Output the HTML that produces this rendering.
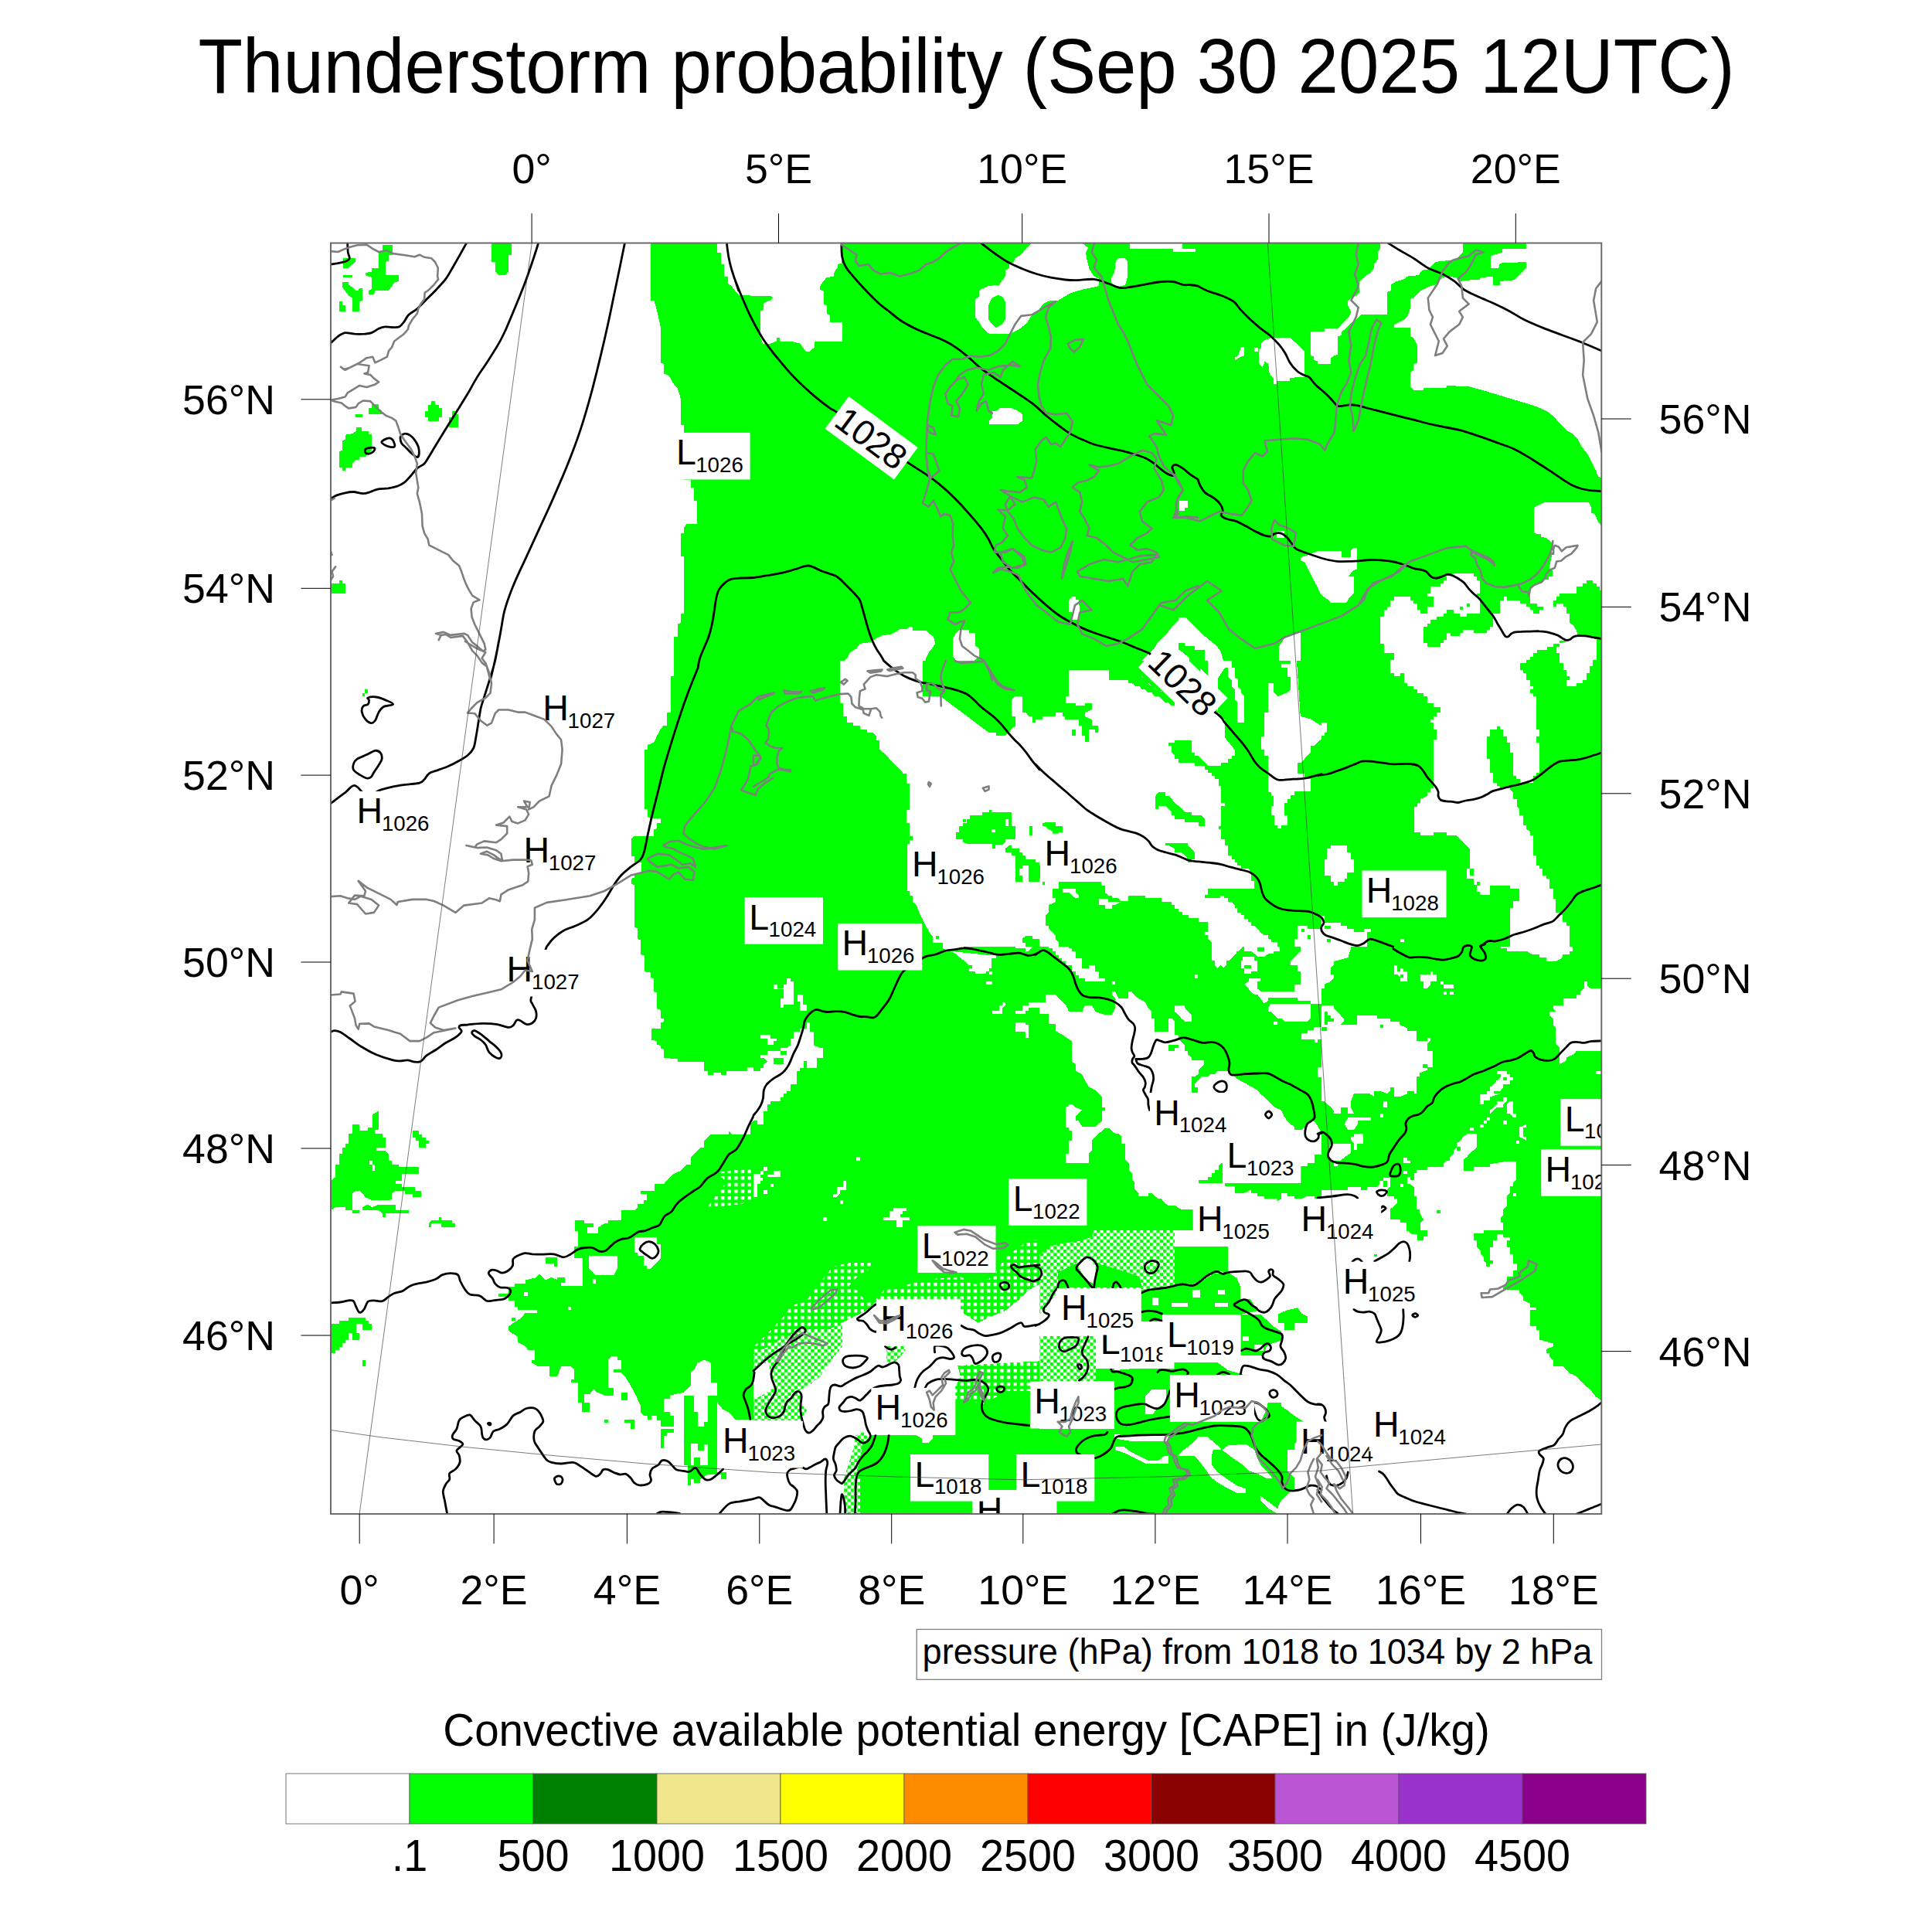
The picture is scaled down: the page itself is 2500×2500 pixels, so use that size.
<!DOCTYPE html>
<html><head><meta charset="utf-8"><title>Thunderstorm probability</title>
<style>
html,body{margin:0;padding:0;background:#fff;}
svg{display:block;font-family:"Liberation Sans",sans-serif;}
.g{fill:#00ff00;shape-rendering:crispEdges;}
.m{fill:url(#ck);shape-rendering:crispEdges;}
.n{fill:url(#ck2);shape-rendering:crispEdges;}
.w{fill:#fff;shape-rendering:crispEdges;}
.k{fill:none;stroke:#000;stroke-width:2.8;stroke-linejoin:round;stroke-linecap:round;}
.c{fill:none;stroke:#7f7f7f;stroke-width:2.6;stroke-linejoin:round;stroke-linecap:round;}
.t{fill:none;stroke:#444;stroke-width:0.7;}
.f{fill:none;stroke:#666;stroke-width:1.9;}
</style></head><body>
<svg width="2500" height="2500" viewBox="0 0 2500 2500">
<defs>
<pattern id="ck" width="8.6" height="8.6" patternUnits="userSpaceOnUse"><rect width="8.6" height="8.6" fill="#fff"/><rect width="4.3" height="4.3" fill="#0f0"/><rect x="4.3" y="4.3" width="4.3" height="4.3" fill="#0f0"/></pattern>
<pattern id="ck2" width="8.6" height="8.6" patternUnits="userSpaceOnUse"><rect width="8.6" height="8.6" fill="#0f0"/><rect x="4.3" width="4.3" height="4.3" fill="#fff"/></pattern>
<clipPath id="map"><rect x="428" y="314.5" width="1644.3" height="1644.5"/></clipPath>
<clipPath id="c0"><rect x="400" y="280" width="575" height="575"/></clipPath>
<clipPath id="c1"><rect x="975" y="280" width="550" height="575"/></clipPath>
<clipPath id="c2"><rect x="1525" y="280" width="575" height="575"/></clipPath>
<clipPath id="c3"><rect x="400" y="855" width="575" height="550"/></clipPath>
<clipPath id="c4"><rect x="400" y="1405" width="575" height="575"/></clipPath>
<clipPath id="c5"><rect x="975" y="855" width="370" height="370"/></clipPath>
<clipPath id="c6"><rect x="1345" y="855" width="365" height="370"/></clipPath>
<clipPath id="c7"><rect x="1710" y="855" width="365" height="370"/></clipPath>
<clipPath id="c8"><rect x="975" y="1225" width="370" height="367"/></clipPath>
<clipPath id="c9"><rect x="1345" y="1225" width="365" height="367"/></clipPath>
<clipPath id="c10"><rect x="1710" y="1225" width="365" height="367"/></clipPath>
<clipPath id="c11"><rect x="975" y="1592" width="370" height="367"/></clipPath>
<clipPath id="c12"><rect x="1345" y="1592" width="365" height="367"/></clipPath>
<clipPath id="c13"><rect x="1710" y="1592" width="365" height="367"/></clipPath>
<clipPath id="c14"><rect x="0" y="0" width="2500" height="2500"/></clipPath>
<clipPath id="c15"><rect x="1780" y="715" width="293" height="305"/></clipPath>
</defs>
<rect width="2500" height="2500" fill="#fff"/>
<g clip-path="url(#map)">
<g clip-path="url(#c0)">
<polygon class="g" points="841.6,314.8 928,314.8 928,326.6 932.6,326.6 932.6,342.1 937.3,342.1 937.3,357.6 941.9,357.6 941.9,367 946.6,370.1 951.2,376.3 955.9,381.9 971.4,382.5 988.5,387.1 1000,382.5 1000,390.2 993.2,391.8 988.5,396.5 983.9,402.7 983.9,438.4 988.5,446.1 1000,446.1 1000,880 872,880 872,823.5 876.7,823.5 876.7,807 880.7,806.4 880.7,794 885.1,794 885.1,720.4 880.7,720.4 880.7,690.6 885.1,689.9 885.1,682.2 889.1,677.5 902.2,677.5 902.2,648 898.4,648 898.4,630.9 893.8,630.9 893.8,620.7 885.1,620.7 885.1,549.6 880.7,549.6 880.7,515.1 876.7,502 872,497.4 867.4,488.7 863.4,485 859,483.4 859,471 855,469.4 855,424.4 850.3,402.7 846.3,388.7 841.6,388.7"/>
<polygon class="g" points="636,314.8 661.8,314.8 661.8,329.7 657.8,329.7 657.8,351.4 653.1,356.1 645.3,356.1 640.7,351.4 640.7,339 636,339"/>
<polygon class="g" points="494.7,317.3 507.8,317.3 507.8,329.7 502.5,329.7 502.5,337.5 498.8,339 498.8,356.1 515.5,356.1 515.5,363.9 511.2,365.4 507.1,370.1 502.5,376.3 485.4,376.3 483.9,380.9 477,380.9 477,376.3 481.4,373.2 481.4,359.2 473,356.1 473,353 481.4,351.4 481.4,346.8 490.1,346.8 490.1,326.6 494.7,323.5"/>
<polygon class="g" points="443.5,334.3 459.6,334.3 459.6,339 455.9,342.1 451.2,346.8 443.5,346.8"/>
<polygon class="g" points="443.5,356.1 455.9,356.1 455.9,359.2 443.5,359.2"/>
<polygon class="g" points="442.9,364.5 451.2,364.5 451.2,368.5 455.9,371.6 460.6,376.3 463.7,376.3 465.2,372.5 468.9,372.5 468.9,388.7 464.6,390.2 464.6,402.7 455.9,402.7 455.9,385.6 451.2,382.5 446.6,376.3 442.9,371.6"/>
<polygon class="g" points="438.8,390.2 442.5,390.2 442.5,394.9 446.6,394.9 446.6,402.7 438.8,402.7"/>
<polygon class="g" points="558.4,519.1 563,519.1 563,523.8 567.7,523.8 567.7,528.4 571.7,528.4 571.7,540.2 567.7,540.2 567.7,544.6 554.3,544.6 554.3,540.2 550,540.2 550,532.2 554.3,532.2 554.3,523.8 558.4,523.8"/>
<polygon class="g" points="584.8,532.2 588.8,532.2 588.8,536.2 592.5,536.2 592.5,552.7 580.7,552.7 580.7,540.2 584.8,540.2"/>
<polygon class="g" points="481.4,523.2 490.1,523.2 490.1,528.4 494.1,531.6 494.1,536.2 477,536.2 477,527.8 481.4,527.8"/>
<polygon class="g" points="459.9,536.2 468.9,536.2 468.9,539.6 459.9,539.6"/>
<polygon class="g" points="460.6,553.3 468.3,553.3 468.3,558 477,558 477,562 481.4,562 481.4,582.8 477,585.9 473,590.6 464.6,590.6 464.6,595.2 460.6,595.2 455.9,599.9 455.9,604.5 447.2,604.5 447.2,608.6 442.9,608.6 442.9,604.5 438.8,604.5 438.8,584.3 442.9,582.8 442.9,570.4 447.2,568.8 447.2,562.6 455.9,561.1 460.6,558"/>
<polygon class="g" points="427.3,755.2 438.8,755.2 438.8,751.1 442.5,751.1 442.5,755.2 446.6,755.2 446.6,767.6 427.3,767.6"/>
</g>
<g clip-path="url(#c1)">
<polygon class="g" points="950,311.1 1550,311.1 1550,880 950,880"/>
<polygon class="w" points="950,311.1 1088.8,311.1 1088.8,340.6 1083.5,342.1 1083.5,346.8 1079.8,351.4 1078.9,357.6 1069.6,359.2 1065.5,363.9 1061.2,370.1 1061.2,374.7 1065.5,376.9 1065.5,393.4 1069.6,395.5 1069.6,405.8 1074.2,408 1074.2,416.6 1090.4,416.6 1090.4,441.5 1054,441.5 1054,449.3 1047.8,454.5 1043.2,454.5 1038.5,449.3 1035.4,444.6 1023,441.5 1009,441.5 1009,436.8 1005.3,436.8 1005.3,441.5 996.6,444.6 987.3,444.6 983.5,435.3 983.5,402.7 987.9,401.1 987.9,393.4 991.9,390.2 996.6,388.7 1000.3,385.6 996.6,382.5 968.6,382.5 968.6,378.8 956.2,377.8 950,373.2"/>
<polygon class="w" points="1335.1,311.1 1335.1,314.8 1330.4,318.8 1325.8,323.5 1321.1,329.7 1313.4,334.3 1311.8,339 1305.6,342.1 1305.6,346.8 1300.9,349.9 1300.9,357.6 1297.2,362.3 1293.2,368.5 1279.2,370.1 1271.4,373.2 1266.8,376.3 1266.8,384 1262.1,387.1 1262.1,410.4 1266.8,416.6 1271.4,424.4 1276.1,429.1 1280.7,432.2 1307.1,432.2 1316.5,427.5 1322.7,422.9 1328.9,418.2 1333.5,410.4 1338.2,405.8 1342.9,402.7 1347.5,396.5 1352.2,391.8 1359.9,388.7 1369.3,388.7 1384.8,379.4 1400.3,374.7 1415.8,371.6 1422,370.1 1422,360.7 1415.8,357.6 1409.6,348.3 1406.5,335.9 1405,326.6 1408.1,320.4 1400.3,314.8 1400.3,311.1"/>
<polygon class="g" points="1283.9,385.6 1291.6,381.9 1297.2,384 1300.9,390.2 1300.9,413.5 1296.3,419.8 1288.5,424.4 1283.9,419.8 1279.2,413.5 1279.2,394.9"/>
<polygon class="w" points="1443.8,337.5 1446.9,334.3 1456.2,334.3 1459.3,339 1459.3,357.6 1456.2,368.5 1446.9,371.6 1439.1,370.1 1437.6,360.7 1442.2,351.4"/>
<polygon class="w" points="1462.4,311.1 1550,311.1 1550,318.8 1544.7,320.4 1544.7,326 1518.3,326 1518.3,321.9 1462.4,321.9"/>
<polygon class="w" points="1288.5,532.2 1293.2,528.4 1310.2,528.4 1318,532.2 1322.7,536.2 1322.7,544.6 1318,548.6 1279.8,548.6 1279.8,544.6 1283.9,540.9 1283.9,532.2"/>
<polygon class="w" points="1529.2,648 1537.6,648 1537.6,655.8 1533.2,659.5 1525.2,659.5 1525.2,652"/>
<polygon class="w" points="1387.3,772.2 1391.6,772.2 1391.6,776.3 1395.7,776.3 1397.2,789.3 1395.7,801.7 1387.3,801.7 1387.3,792.4 1383.2,792.4 1383.2,776.9"/>
<polygon class="w" points="1088.2,880 1088.2,860.7 1092.2,856.1 1096,851.4 1100.6,843.7 1108.4,839 1113,832.8 1125.5,831.2 1133.2,826.6 1142.5,821.9 1151.9,821 1159.6,817.3 1164.3,814.2 1173.6,814.2 1176.7,811.1 1181.4,811.7 1181.4,815.7 1198.4,815.7 1203.1,820.4 1207.8,823.5 1210.2,832.8 1206.2,839 1202.2,843.7 1198.4,851.4 1198.4,860.7 1193.8,863.9 1193.8,880"/>
<polygon class="w" points="1237.3,818.8 1241.9,814.8 1254.3,814.8 1254.3,818.8 1262.1,818.8 1262.1,835.9 1266.8,839 1266.8,849.9 1262.1,853 1257.5,860.7 1241.9,860.7 1237.3,854.5 1233.2,849.9 1233.2,826.6"/>
<polygon class="w" points="1550,794 1540.1,794 1535.4,798.6 1529.2,798.6 1524.5,803.3 1519.9,808 1515.2,812.6 1510.6,818.8 1505.9,823.5 1501.2,828.1 1497.2,832.8 1493.5,839 1488.8,843.7 1484.2,848.3 1478,854.5 1474.8,862.3 1478,867 1550,880"/>
<polygon class="w" points="1391,868.5 1425.2,868.5 1425.2,880 1391,880"/>
</g>
<g clip-path="url(#c2)">
<rect class="g" x="1525" y="280" width="575" height="575"/>
<polygon class="w" points="1500,311.1 1529.5,311.1 1529.5,321.9 1546.6,321.9 1546.6,326 1500,326"/>
<polygon class="w" points="1785.7,311.1 1892.9,311.1 1892.9,326.6 1888.2,331.2 1883.5,335.9 1857.1,339 1852.5,343.7 1847.8,348.3 1840.1,349.9 1835.4,356.1 1821.4,357.6 1816.8,361.4 1807.5,363.9 1799.7,368.5 1799.7,376.3 1795,377.8 1795,407.3 1760.9,407.3 1756.2,412 1750,416.6 1745.3,421.3 1740.7,426 1736,429.1 1736,433.7 1731.4,435.3 1731.4,458.6 1726.7,460.1 1722,463.2 1722,471 1705,471 1705,467 1700.3,466.3 1700.3,461.7 1696.3,460.1 1696.3,429.1 1714.3,429.1 1714.3,425.3 1731.4,425.3 1736,419.8 1740.7,415.1 1745.3,410.4 1748.4,404.2 1743.8,394.9 1743.8,390.2 1748.4,385.6 1754.7,382.5 1759.3,377.8 1759.3,363.9 1764,360.1 1768.6,356.1 1773.3,353 1778,346.8 1778,342.1 1782.6,335.9 1782.6,326.6 1785.7,321.9"/>
<polygon class="w" points="1975.2,311.1 2072.4,311.1 2072.4,618.5 2068.3,617 2063.7,606.1 2059,596.8 2054.3,587.5 2046.6,578.1 2041.9,568.8 2034.2,561.1 2026.4,556.4 2018.6,548.6 2010.9,539.3 2003.1,533.1 1993.8,528.4 1981.4,523.8 1965.8,519.1 1950.3,514.5 1934.8,509.8 1919.3,505.2 1902.2,500.5 1872.7,498.9 1871.1,502 1841.6,502 1841.6,505.2 1829.2,505.2 1824.5,500.5 1824.5,481.9 1829.2,478.8 1829.2,471 1833.9,469.4 1833.9,447.7 1829.2,436.8 1824.5,435.3 1824.5,424.4 1804.3,424.4 1804.3,419.8 1810.6,416.6 1816.8,413.5 1821.4,408.9 1824.5,399.6 1824.5,387.1 1829.2,385.6 1833.9,380.9 1838.5,376.3 1850.9,370.1 1857.1,368.5 1861.8,363.9 1866.5,359.2 1872.7,357.6 1885.1,359.2 1888.2,363.9 1903.7,362.3 1914.6,362.3 1916.1,359.2 1931.7,357.6 1931.7,368.5 1941,368.5 1941,363.9 1959.6,362.3 1964.3,357.6 1968.9,353 1975.2,346.8 1975.2,339 1941,340.6 1939.4,346.8 1928.6,346.8 1928.6,331.2 1944.1,326.6 1944.1,321.9 1975.2,321.9"/>
<polygon class="w" points="1632,444.6 1636.6,439.9 1646,436.8 1669.3,436.8 1673.9,441.5 1678.6,444.6 1683.2,449.3 1687.9,453.9 1687.9,488.1 1669.3,488.7 1669.3,492.7 1652.2,492.7 1652.2,497.4 1647.5,497.4 1647.5,488.7 1642.9,485 1641.3,471 1636.6,467.9 1633.5,475.7 1628.9,469.4 1628.9,452.4 1632,449.3"/>
<polygon class="w" points="1622.7,450.2 1628,450.2 1628,454.5 1622.7,454.5"/>
<polygon class="w" points="1605.6,449.3 1610.2,449.3 1610.2,460.1 1605.6,461.7 1602.5,463.2 1597.8,466.3 1597.8,463.2 1602.5,458.6"/>
<polygon class="w" points="1683.2,721 1689.4,719.4 1705,713.2 1736,713.2 1736,721 1748.4,721 1748.4,711.7 1752.2,708.6 1756.2,708.6 1756.2,736.5 1751.6,738.1 1748.4,741.2 1745.3,745.8 1751.6,745.8 1751.6,767.6 1746.9,772.2 1742.2,780 1722,780 1717.4,775.3 1712.7,772.2 1708.1,767.6 1705,759.8 1700.3,752 1695.7,742.7 1691.9,735 1687.9,727.2 1683.2,725.7"/>
<polygon class="w" points="1500,808 1512.4,808 1517.1,803.3 1521.7,798.6 1534.2,798.6 1538.8,803.3 1543.5,808 1548.1,812.6 1552.8,817.3 1557.5,821.9 1566.8,829.7 1574.5,835.9 1579.2,842.1 1582.3,851.4 1583.9,860.7 1588.5,867 1591.6,880 1500,880"/>
<polygon class="g" points="1519.8,832.1 1533.1,832.1 1533.1,836.3 1545.5,836.3 1545.5,841.2 1558.7,841.2 1558.7,855 1538.9,855 1538.9,851.2 1528.9,842.9 1519.8,837.1"/>
<polygon class="w" points="1661.5,826.6 1669.3,821.9 1683.2,818.8 1683.2,880 1655.3,880 1655.3,835.9"/>
<polygon class="w" points="1526.4,648 1537.3,648 1537.3,657.3 1532.6,657.3 1532.6,661.4 1526.4,661.4"/>
<polygon class="w" points="1652.2,686.8 1661.5,686.8 1661.5,696.1 1652.2,696.1"/>
<polygon class="w" points="1989.1,654.2 2000,649.6 2055.9,649.6 2059,655.8 2059,663.5 2063.7,665.1 2068.3,676 2072.4,680.6 2072.4,753.6 2059,752 2054.3,755.2 2046.6,759.8 2040.4,764.5 2040.4,773.8 2028,775.3 2021.7,776.9 2015.5,781.6 2010.9,784.7 2010.9,792.4 1996.9,792.4 1992.2,789.3 1984.5,784.7 1979.8,780 1975.2,773.8 1975.2,764.5 1979.8,759.8 1987.6,755.2 1996.9,748.9 2003.1,744.3 2007.8,739.6 2009.3,727.2 2007.8,714.8 2009.3,708.6 2007.8,702.4 2004.7,699.3 2000,696.1 1993.8,694.6 1993.8,691.5 1984.5,689.9 1984.5,657.3"/>
</g>
<g clip-path="url(#c3)">
<polygon class="g" points="872,830 872,875 868,875 868,921.6 863.4,921.6 863.4,938.7 859,938.7 855,943.4 850.3,951.7 846.3,960.4 837.9,964.2 837.9,969.8 833.9,969.8 833.9,1047.4 837.9,1047.4 837.9,1056.7 842.5,1059.2 855,1059.2 855,1064.5 850.3,1065.1 850.3,1072.2 846.3,1072.9 846.3,1081.6 820.8,1081.6 816.8,1086.2 816.8,1108 820.8,1108 820.8,1115.7 830.1,1115.7 830.1,1129.7 820.8,1130.6 820.8,1135.9 816.8,1136.8 816.8,1143.7 820.8,1145.2 820.8,1199.6 824.8,1201.1 824.8,1215.1 829.2,1216.6 829.2,1235.3 833.9,1236.8 833.9,1257 841.6,1258.6 841.6,1264.8 846.3,1266.3 846.3,1283.4 850.3,1284 850.3,1305.2 855,1306.7 855,1317.6 859,1318.2 859,1322.2 855,1323.2 855,1330.6 842.5,1330.6 842.5,1345.5 850.3,1347.1 850.3,1351.7 855,1353.3 855,1356.4 859,1358 859,1368.8 876.7,1370.4 876.7,1373.5 910.9,1373.5 910.9,1385.9 915.5,1385.9 915.5,1390.6 923.3,1390.6 923.3,1387.5 932.6,1387.5 932.6,1390.6 940.4,1390.6 940.4,1385.9 966.8,1385.9 966.8,1381.2 1000,1381.2 1000,830"/>
<polygon class="g" points="472,892.1 476.1,892.1 476.1,896.8 472,896.8 472,900.8 468.9,900.8 468.9,896.8 472,896.8"/>
</g>
<g clip-path="url(#c4)">
<rect class="w" x="400" y="1405" width="575" height="575"/>
<polygon class="g" points="482.3,1442.1 490.1,1437.5 490.1,1462.3 485.4,1462.3 485.4,1467 494.7,1467 494.7,1471.6 498.8,1471.6 498.8,1485 487,1485 487,1489.3 498.8,1489.3 502.5,1493.4 502.5,1501.7 507.1,1501.7 507.1,1506.7 515.5,1506.7 515.5,1510.4 541.9,1510.4 541.9,1518.8 519.6,1518.8 519.6,1527.5 511.8,1527.5 511.8,1532.2 519.6,1532.2 519.6,1536.2 536.6,1536.2 536.6,1540.6 545.3,1540.6 545.3,1549.3 533.5,1549.3 533.5,1544.6 524.2,1544.6 524.2,1540.6 511.8,1540.6 507.1,1544.6 507.1,1552.4 490.1,1553.3 481.4,1553.3 473,1549.3 468.9,1544.6 464.6,1540.6 460.6,1540.6 455.9,1544.6 455.9,1566.3 464.6,1566.3 464.6,1570.1 455.9,1570.1 455.9,1566.3 446.6,1566.3 446.6,1562.3 434.2,1562.3 428,1566.3 428,1528.4 434.2,1522.9 434.2,1506.7 438.8,1506.7 438.8,1493.4 442.9,1493.4 442.9,1485 447.2,1485 447.2,1480 451.2,1480 451.2,1467 455.9,1467 455.9,1454.5 464.6,1454.5 464.6,1463.2 476.1,1463.2 476.1,1459.2 482.3,1459.2"/>
<polygon class="g" points="468.9,1562.3 476.1,1558.6 481.4,1562.3 490.1,1558.6 511.8,1558.6 511.8,1566.3 528.9,1566.3 528.9,1570.1 498.8,1570.1 498.8,1575 494.7,1575 494.7,1570.1 490.1,1566.3 468.9,1566.3"/>
<polygon class="w" points="477.6,1501.7 482.3,1501.7 482.3,1506.7 485.4,1506.7 485.4,1515.1 482.3,1515.1 482.3,1506.7 477.6,1506.7"/>
<polygon class="g" points="533.5,1463.2 541.9,1463.2 541.9,1467.6 546,1467.6 546,1471.6 550.6,1471.6 550.6,1476.3 554.7,1476.3 554.7,1480 550.6,1480 550.6,1485 541.9,1485 541.9,1476.3 538.2,1476.3 538.2,1471.6 533.5,1471.6"/>
<polygon class="g" points="558.4,1579.4 567.7,1579.4 567.7,1575 571.4,1575 571.4,1579.4 584.8,1579.4 584.8,1583.4 588.8,1583.4 588.8,1588.1 571.4,1588.1 571.4,1583.4 558.4,1583.4 558.4,1588.1 554.7,1588.1 554.7,1583.4"/>
<polygon class="g" points="428,1712.9 438.8,1712.9 438.8,1708.6 451.2,1708.6 451.2,1704.5 473,1704.5 473,1708.6 477,1708.6 477,1712.9 481.4,1712.9 481.4,1721 468.9,1721 468.9,1712.9 460.6,1712.9 460.6,1725.3 464.6,1725.3 464.6,1734 455.9,1734 455.9,1725.3 451.2,1725.3 451.2,1734 447.2,1734 447.2,1738.1 442.9,1738.1 442.9,1742.7 438.8,1742.7 438.8,1746.5 434.2,1746.5 434.2,1751.1 428,1751.1 428,1755.2"/>
<polygon class="g" points="468.9,1759.5 473,1759.5 473,1768.2 468.9,1768.2"/>
<polygon class="g" points="910.9,1380 983.9,1380 983.9,1384.7 966.8,1384.7 966.8,1389.3 915.5,1389.3 915.5,1384.7 910.9,1384.7"/>
<polygon class="g" points="1000,1426.6 996.3,1426.6 996.3,1437.5 988.5,1437.5 983.9,1442.1 983.9,1449.9 976.1,1449.9 971.4,1454.5 971.4,1467.6 946.6,1467.6 942.9,1463.2 942.9,1467.6 920.2,1467.6 915.5,1471.6 910.9,1476.3 910.9,1485 906.2,1485 902.5,1489.3 897.8,1493.4 893.8,1498 893.8,1506.7 889.1,1506.7 885.1,1510.4 880.7,1515.1 872,1518.8 867.4,1522.9 862.7,1527.5 859,1532.2 847.2,1532.2 847.2,1540.6 828.6,1540.6 828.6,1544.6 837.3,1544.6 837.3,1553.3 833.2,1553.3 833.2,1557.6 824.8,1557.6 824.8,1562.3 820.8,1566.3 803.7,1566.3 803.7,1578.8 786.6,1578.8 786.6,1583.4 782,1583.4 774.2,1588.1 774.2,1595.8 760.2,1595.8 760.2,1588.1 768,1588.1 768,1583.4 755.6,1583.4 755.6,1579.4 744.1,1579.4 744.1,1592.7 747.8,1592.7 747.8,1612.9 743.2,1612.9 743.2,1628.4 754,1628.4 754,1664.2 726.1,1664.2 726.1,1659.5 730.7,1659.5 730.7,1652.7 721.4,1652.7 721.4,1656.4 713.7,1652.7 705.9,1656.4 698.1,1648.6 693.5,1653.3 679.5,1656.4 679.5,1661.1 665.5,1661.1 665.5,1665.1 657.8,1665.1 657.8,1673.5 645.3,1673.5 645.3,1678.1 657.8,1678.1 657.8,1682.8 665.5,1682.8 665.5,1690.6 670.2,1690.6 670.2,1695.2 695,1695.2 695,1699.3 679.5,1699.3 674.8,1704.5 670.2,1708.6 662.4,1712.9 657.8,1717 657.8,1721 662.4,1725.3 670.2,1729.4 670.2,1737.1 679.5,1741.8 683.2,1746.5 691.9,1746.5 691.9,1759.5 688.2,1759.5 688.2,1763.5 696.6,1768.2 710.6,1768.2 710.6,1780.6 721.4,1780.6 726.1,1768.2 738.5,1768.2 743.2,1771.9 743.2,1785.3 738.5,1785.3 738.5,1789.3 747.8,1789.3 747.8,1814.8 752.5,1814.8 752.5,1827.2 763.4,1827.2 763.4,1814.8 755.6,1814.8 755.6,1803.9 763.4,1803.9 768,1797.7 772.7,1801.7 782,1805.5 794.4,1805.5 794.4,1796.1 786.6,1796.1 786.6,1759.5 791.3,1755.2 799.1,1755.2 799.1,1759.5 803.7,1759.5 803.7,1771.9 794.4,1771.9 794.4,1776 803.7,1776 808.4,1780.6 816.1,1793 820.8,1801.7 824.8,1810.1 828.6,1817.9 828.6,1827.2 833.2,1831.9 837.9,1831.9 837.9,1836.5 842.5,1836.5 842.5,1831.9 850.3,1831.9 850.3,1838.1 855,1838.1 855,1845.8 872,1845.8 872,1831.9 867.4,1831.9 867.4,1827.2 859,1827.2 859,1810.1 867.4,1810.1 867.4,1805.5 884.5,1801.7 893.8,1793 893.8,1776 898.4,1771.9 902.5,1763.5 910.9,1759.5 920.2,1763.5 920.2,1789.3 928,1789.3 928,1814.8 935.7,1824.1 942.9,1827.2 951.2,1836.5 971.4,1836.5 1000,1836.5"/>
<polygon class="g" points="885.1,1806.1 928,1806.1 928,1904.8 940.4,1904.8 940.4,1914.2 932.6,1914.2 932.6,1908 915.5,1908 906.2,1914.2 906.2,1918.8 898.4,1918.8 898.4,1914.2 893.8,1914.2 893.8,1921.9 890.1,1921.9 890.1,1895.5 885.1,1895.5"/>
<polygon class="w" points="898.4,1806.1 915.5,1806.1 915.5,1839.6 910.9,1839.6 910.9,1845.8 902.5,1845.8 902.5,1827.2 898.4,1827.2"/>
<polygon class="w" points="893.8,1867.6 902.5,1867.6 902.5,1876.9 910.9,1876.9 910.9,1869.1 915.5,1869.1 915.5,1895.5 906.2,1895.5 906.2,1886.2 898.4,1886.2 898.4,1895.5 893.8,1895.5"/>
<polygon class="g" points="855,1848.9 872,1848.9 872,1853.6 862.7,1853.6 862.7,1858.3 859,1858.3 859,1873.8 855,1873.8"/>
<polygon class="n" points="924.8,1516.6 1000,1510.4 1000,1553.9 968.3,1553.9 959,1558.6 915.5,1562.3 928,1544.6 940.4,1529.1"/>
<polygon class="w" points="761.8,1625.3 799.1,1625.3 799.1,1640.9 794.4,1650.2 771.1,1650.2 761.8,1640.9"/>
<polygon class="w" points="766.5,1654.8 771.1,1654.8 771.1,1661.1 766.5,1661.1"/>
<polygon class="g" points="705.9,1626.9 721.4,1626.9 721.4,1639.3 716.8,1639.3 716.8,1634.7 705.9,1634.7"/>
<polygon class="w" points="820.8,1601.1 850.3,1601.1 850.3,1609.8 855,1609.8 855,1628.4 850.3,1633.1 845.7,1637.8 841,1642.4 837.3,1642.4 837.3,1637.8 833.2,1637.8 833.2,1625.3 824.8,1625.3 824.8,1620.7 820.8,1620.7"/>
<polygon class="w" points="735.4,1690.6 739.1,1690.6 739.1,1695.2 735.4,1695.2"/>
<polygon class="w" points="678,1671.9 682.6,1671.9 682.6,1676.6 678,1676.6"/>
<polygon class="g" points="662.4,1704.5 666.5,1704.5 666.5,1708.6 662.4,1708.6"/>
<polygon class="g" points="782,1836.5 786.6,1836.5 786.6,1841.2 782,1841.2"/>
<polygon class="g" points="808.4,1836.5 820.8,1836.5 820.8,1848.9 816.1,1848.9 816.1,1841.2 808.4,1841.2"/>
<polygon class="g" points="803.7,1802.4 811.5,1802.4 811.5,1811.7 803.7,1811.7"/>
</g>
<g clip-path="url(#c5)">
<rect class="g" x="975" y="855" width="370" height="370"/>
<polygon class="w" points="1087,855 1193.9,855 1193.9,901 1215.3,901 1219.6,902.9 1279.5,947.9 1289.1,947.9 1289.1,951.7 1300.6,951.7 1305.4,947.9 1309.2,943.5 1314,939.3 1314,926.8 1309.2,926.8 1309.2,905.2 1314,901 1322.6,901 1322.6,922 1327.4,922 1331.2,926.8 1336,926.8 1336,935.1 1339.8,935.1 1339.8,930.6 1345,930.6 1345,1225 1219.6,1225 1219.6,1219.8 1206.7,1219.8 1206.7,1211.2 1202.5,1206.4 1198.1,1197.8 1193.9,1190.1 1189.5,1180.6 1185.7,1171 1180.9,1167.2 1180.9,1158.5 1177,1158.5 1177,1152.8 1174.2,1152.8 1174.2,1092.5 1177,1092.5 1177,1086.7 1180.9,1086.7 1180.9,1081.9 1177,1081.9 1177,1064.7 1172.8,1064.7 1172.8,1047.5 1177,1047.5 1177,1013.6 1172.8,1013.6 1172.8,1000.5 1168.4,1000.5 1164.6,995.8 1160.4,991.4 1156,987.1 1151.2,982.4 1147.4,977.6 1142.6,973.7 1137.8,969.9 1137.8,957.5 1134,957.5 1134,952.7 1129.7,947.9 1121.5,947.9 1121.5,944.1 1112.9,944.1 1112.9,939.3 1104.3,939.3 1104.3,935.1 1095.7,935.1 1095.7,926.8 1091.4,926.8 1091.4,909.6 1087,909.6"/>
<polygon class="g" points="1281.4,1047.5 1283.3,1047.5 1283.3,1051.3 1309.2,1051.3 1309.2,1068.5 1314,1068.5 1314,1085.8 1300.6,1085.8 1300.6,1089.6 1296.7,1093.4 1288.1,1093.4 1288.1,1098.2 1283.3,1098.2 1283.3,1092.5 1250.8,1091.5 1246,1089.6 1246,1085.8 1237.4,1085.8 1237.4,1077.2 1241.2,1077.2 1241.2,1068.5 1246,1068.5 1246,1064.7 1250.8,1064.7 1250.8,1059.9 1254.6,1059.9 1254.6,1055.1 1270.9,1055.1 1270.9,1051.3 1279.5,1051.3 1279.5,1047.5"/>
<polygon class="w" points="1300.6,1059.9 1305.4,1059.9 1305.4,1068.5 1300.6,1068.5"/>
<polygon class="w" points="1283.3,1073.3 1288.1,1073.3 1288.1,1077.2 1283.3,1077.2"/>
<polygon class="g" points="1246,1059.9 1249.8,1059.9 1249.8,1063.7 1246,1063.7"/>
<polygon class="g" points="1331.6,1068.5 1336,1068.5 1336,1081 1331.6,1081"/>
<polygon class="g" points="1300.6,1098.2 1305.4,1094.4 1309.2,1094.4 1309.2,1098.2 1318.8,1098.2 1318.8,1103 1322.6,1103 1322.6,1107.4 1327.4,1107.4 1327.4,1111.6 1339.8,1111.6 1339.8,1116.4 1345,1116.4 1345,1141.3 1331.2,1141.3 1331.2,1120.2 1322.6,1120.2 1322.6,1124.1 1318.8,1124.1 1318.8,1132.7 1322.6,1132.7 1322.6,1141.3 1314,1141.3 1314,1107.4 1309.2,1107.4 1309.2,1103 1300.6,1103"/>
<polygon class="g" points="1322.6,1215 1327.4,1211.2 1336,1211.2 1336,1215 1345,1215 1345,1225 1327.4,1225 1327.4,1219.8 1322.6,1219.8"/>
<polygon class="g" points="1210.9,1211.2 1215.3,1211.2 1215.3,1215 1210.9,1215"/>
</g>
<g clip-path="url(#c6)">
<rect class="w" x="1345" y="855" width="365" height="370"/>
<polygon class="g" points="1340,855 1474.1,855 1474.1,867.4 1383.1,867.4 1383.1,901 1379.3,901 1379.3,909.6 1391.7,909.6 1391.7,913.4 1404.2,913.4 1404.2,909.6 1412.8,909.6 1412.8,918.2 1404.2,922 1404.2,926.8 1412.8,931.6 1412.8,939.3 1421.4,939.3 1421.4,947.9 1416.6,947.9 1416.6,944.1 1408.9,944.1 1408.9,960.3 1404.2,960.3 1404.2,951.7 1400.3,951.7 1400.3,939.3 1395.5,939.3 1395.5,930.6 1378.3,930.6 1378.3,926.8 1374.5,926.8 1374.5,922 1365.9,922 1365.9,926.8 1348.6,926.8 1348.6,930.6 1340,930.6"/>
<polygon class="g" points="1386.9,944.1 1391.7,944.1 1391.7,951.7 1386.9,951.7"/>
<polygon class="g" points="1434.6,867.4 1434.6,879.9 1459.7,879.9 1464.5,876.1 1474.1,871.3 1482.7,879.9 1491.3,889.5 1506.6,896.2 1520,906.7 1576.5,922 1552.6,870.3 1552.6,855 1434.6,855"/>
<polygon class="g" points="1459.7,879.9 1464.5,876.1 1474.1,871.3 1477.9,876.1 1482.7,879.9 1486.5,884.7 1491.3,889.5 1499,893.3 1506.6,896.2 1515.2,901 1520,906.7 1520,912.5 1515.2,912.5 1511.4,908.6 1506.6,908.6 1502.8,903.8 1499,901 1494.2,901 1490.3,896.2 1485.5,896.2 1481.7,892.3 1477.9,892.3 1474.1,887.6 1469.3,887.6 1464.5,883.7 1459.7,883.7"/>
<polygon class="g" points="1585.1,855 1585.1,863.6 1576.1,877.6 1576.1,902.9 1576.5,922 1580.3,926.8 1585.1,931.6 1585.1,954.6 1589,959.4 1593.8,965.1 1597.6,969.9 1597.6,977.6 1593.8,977.6 1593.8,982.4 1589,982.4 1589,987.1 1580.3,987.1 1580.3,991 1563.1,991 1559.3,987.1 1554.5,982.4 1550.7,977.6 1545.9,977.6 1545.9,973.7 1542,973.7 1542,957.5 1520,957.5 1520,961.3 1512.4,961.3 1512.4,965.1 1516.2,965.1 1516.2,973.7 1520,977.6 1520,982.4 1524.8,982.4 1524.8,987.1 1545.9,987.1 1545.9,991 1559.3,991 1559.3,995.8 1563.1,995.8 1563.1,999.6 1567.9,999.6 1567.9,1004.4 1571.7,1004.4 1571.7,1008.2 1576.5,1008.2 1576.5,1016.8 1580.3,1016.8 1580.3,1038.9 1585.1,1038.9 1585.1,1042.7 1580.3,1042.7 1580.3,1068.5 1576.5,1068.5 1576.5,1073.3 1580.3,1073.3 1580.3,1085.8 1585.1,1085.8 1585.1,1094.4 1589,1094.4 1589,1106.8 1593.8,1106.8 1593.8,1111.6 1597.6,1111.6 1597.6,1115.5 1601.4,1115.5 1601.4,1120.2 1606.2,1120.2 1606.2,1124.1 1615.8,1124.1 1618.6,1128.9 1618.6,1140.4 1622.5,1140.4 1622.5,1149.9 1563.1,1149.9 1563.1,1157.6 1559.3,1157.6 1559.3,1162.4 1579.4,1162.4 1579.4,1158.5 1584.2,1158.5 1584.2,1162.4 1589,1162.4 1589,1167.2 1593.8,1167.2 1597.6,1171 1597.6,1174.8 1601.4,1174.8 1601.4,1180.6 1606.2,1180.6 1606.2,1184.4 1610,1184.4 1610,1189.2 1614.8,1189.2 1614.8,1193 1618.6,1193 1618.6,1197.8 1623.4,1197.8 1627.3,1201.6 1631.1,1206.4 1635.9,1210.3 1640.7,1210.3 1640.7,1215 1644.5,1215 1644.5,1218.9 1653.1,1218.9 1653.1,1225 1710,1225 1710,855"/>
<polygon class="g" points="1553,855 1562.9,855 1562.9,874.2 1558.3,870.3 1553,864.6"/>
<polygon class="w" points="1585.1,855 1593.8,855 1593.8,863.6 1597.6,863.6 1597.6,876.1 1602.4,879.9 1602.4,888.5 1606.2,892.3 1606.2,897.1 1610,901 1610,934.5 1601.4,934.5 1601.4,908.6 1597.6,904.8 1597.6,892.3 1593.8,888.5 1593.8,879.9 1589,876.1 1589,863.6 1585.1,863.6"/>
<polygon class="w" points="1640.7,883.7 1648.3,883.7 1648.3,896.2 1654.1,901 1665.6,896.2 1670.4,892.3 1670.4,876.1 1665.6,876.1 1665.6,863.6 1657.9,863.6 1657.9,858.8 1670.4,858.8 1670.4,855 1678,855 1679.9,883.7 1682.8,926.8 1696.2,930.6 1710,939.3 1710,956.5 1704.8,960.3 1701,965.1 1696.2,965.1 1696.2,973.7 1692.4,977.6 1687.6,982.4 1683.8,987.1 1679,987.1 1679,1000.5 1687.6,1001.5 1687.6,1008.2 1696.2,1008.2 1696.2,1023.5 1675.1,1023.5 1675.1,1029.3 1670.4,1029.3 1670.4,1034.1 1665.6,1034.1 1665.6,1038.9 1661.7,1038.9 1661.7,1055.1 1665.6,1055.1 1665.6,1067.6 1657.9,1067.6 1657.9,1072.4 1653.1,1072.4 1653.1,1067.6 1649.3,1067.6 1649.3,1055.1 1644.5,1055.1 1644.5,1042.7 1648.3,1042.7 1648.3,1030.2 1644.5,1030.2 1644.5,1025.4 1640.7,1025.4 1640.7,977.6 1635.9,977.6 1635.9,969.9 1632.1,969.9 1632.1,952.7 1635.9,952.7 1635.9,922 1640.7,922"/>
<polygon class="w" points="1679,1197.8 1692.4,1197.8 1692.4,1201.6 1710,1201.6 1710,1225 1675.1,1225 1675.1,1215 1679,1215"/>
<polygon class="g" points="1683.8,1201.6 1687.6,1201.6 1687.6,1206.4 1683.8,1206.4"/>
<polygon class="g" points="1692.4,1210.3 1696.2,1210.3 1696.2,1215 1692.4,1215"/>
<polygon class="g" points="1495.1,1030.2 1499,1025.4 1507.6,1025.4 1507.6,1030.2 1512.4,1030.2 1516.2,1034.1 1520,1038.9 1524.8,1042.7 1529.6,1046.5 1533.4,1051.3 1542,1051.3 1542,1055.1 1554.5,1055.1 1559.3,1059.9 1559.3,1068.5 1550.7,1068.5 1550.7,1063.7 1533.4,1063.7 1533.4,1059.9 1520,1059.9 1520,1055.1 1516.2,1055.1 1516.2,1051.3 1512.4,1046.5 1507.6,1042.7 1499,1042.7 1499,1046.5 1495.1,1046.5"/>
<polygon class="g" points="1507.6,1090.6 1537.3,1090.6 1537.3,1094.4 1542,1098.2 1545.9,1103 1545.9,1111.6 1542,1111.6 1542,1115.5 1537.3,1115.5 1537.3,1111.6 1533.4,1106.8 1528.6,1103 1520,1103 1520,1098.2 1512.4,1094.4 1507.6,1094.4"/>
<polygon class="g" points="1348.6,1064.7 1365.9,1063.7 1365.9,1068.5 1374.5,1068.5 1374.5,1077.2 1369.7,1077.2 1369.7,1079.1 1362,1079.1 1362,1075.2 1357.2,1073.3 1353.4,1069.5 1348.6,1068.5"/>
<polygon class="g" points="1340,1116.4 1343.8,1116.4 1345.7,1120.2 1345.7,1136.5 1343.8,1136.5 1343.8,1140.4 1340,1140.4"/>
<polygon class="g" points="1369.7,1141.3 1425.2,1141.3 1425.2,1146.1 1429.6,1146.1 1429.6,1154.7 1433.8,1158.5 1438.6,1158.5 1438.6,1162.4 1447.2,1162.4 1451.1,1166.2 1459.7,1166.2 1459.7,1158.5 1481.7,1158.5 1481.7,1162.4 1502.8,1162.4 1502.8,1167.2 1516.2,1167.2 1516.2,1171 1520,1171 1520,1175.8 1524.8,1175.8 1524.8,1179.6 1529.6,1179.6 1529.6,1184.4 1538.2,1184.4 1538.2,1188.2 1550.7,1188.2 1550.7,1193 1563.1,1193 1563.1,1205.5 1559.3,1205.5 1559.3,1210.3 1563.1,1210.3 1563.1,1215 1567.9,1218.9 1567.9,1225 1369.7,1225 1369.7,1218.9 1365.9,1215 1365.9,1210.3 1361.1,1205.5 1357.2,1201.6 1357.2,1197.8 1353.4,1197.8 1353.4,1184.4 1357.2,1180.6 1357.2,1171 1365.9,1167.2 1365.9,1162.4 1362,1161.4 1362,1149.9 1369.7,1149.9"/>
<polygon class="w" points="1374.5,1149.9 1391.7,1149.9 1391.7,1153.8 1395.5,1157.6 1395.5,1162.4 1391.7,1162.4 1386.9,1158.5 1383.1,1154.7 1374.5,1154.7"/>
<polygon class="w" points="1422.3,1163.3 1433.8,1163.3 1433.8,1167.2 1451.1,1167.2 1443.4,1171 1438.6,1171 1438.6,1175.8 1430,1175.8 1430,1171 1422.3,1171"/>
<polygon class="w" points="1550.7,1180.6 1554.5,1180.6 1554.5,1184.4 1550.7,1184.4"/>
<polygon class="g" points="1348.6,1141.3 1352.4,1141.3 1352.4,1145.1 1348.6,1145.1"/>
<polygon class="g" points="1357.2,1189.2 1362,1189.2 1362,1193 1357.2,1193"/>
</g>
<g clip-path="url(#c7)">
<rect class="g" x="1710" y="855" width="365" height="370"/>
<polygon class="w" points="1798.8,855 1967.4,855 1967.4,863.6 1971.2,867.4 1975,876.1 1979.8,879.9 1979.8,897.1 1983.6,901 1987.5,901 1987.5,944.1 1992.3,944.1 1992.3,1008.2 1954,1008.2 1954,1021.6 1957.8,1025.4 1957.8,1034.1 1962.6,1034.1 1962.6,1042.7 1966.4,1046.5 1966.4,1055.1 1971.2,1055.1 1971.2,1067.6 1975,1067.6 1975,1072.4 1979.8,1076.2 1979.8,1081 1983.6,1081 1983.6,1106.8 1987.5,1106.8 1987.5,1120.2 1992.3,1120.2 1992.3,1124.1 1996.1,1124.1 1996.1,1132.7 2000.9,1132.7 2000.9,1136.5 2004.7,1136.5 2004.7,1149.9 2009.5,1149.9 2009.5,1163.3 2013.3,1163.3 2013.3,1180.6 2018.1,1180.6 2018.1,1184.4 2022,1184.4 2022,1193 2026.7,1193 2026.7,1197.8 2030.6,1197.8 2030.6,1225 1954,1225 1954,1174.8 1957.8,1174.8 1957.8,1166.2 1966.4,1166.2 1966.4,1149.9 1954,1149.9 1954,1146.1 1927.7,1146.1 1927.7,1157.6 1915.3,1157.6 1915.3,1153.8 1910.9,1153.8 1910.9,1145.1 1907,1145.1 1907,1136.5 1898,1136.5 1898,1124.1 1902.3,1124.1 1902.3,1098.2 1897.5,1094.4 1893.6,1089.6 1888.9,1085.8 1884.1,1081 1871.6,1081 1871.6,1077.2 1855.3,1077.2 1855.3,1081 1838.1,1081 1838.1,1077.2 1829.5,1077.2 1829.5,1043.6 1833.7,1043.6 1833.7,1038.9 1838.1,1038.9 1838.1,1034.1 1846.7,1030.2 1846.7,1025.4 1850.5,1025.4 1850.5,1013 1855.3,1013 1855.3,957.5 1859.2,957.5 1859.2,944.1 1855.3,944.1 1855.3,935.4 1850.9,935.4 1850.9,931.6 1855.3,926.8 1859.2,922 1864,922 1864,914.4 1855.3,914.4 1855.3,909.6 1846.7,909.6 1846.7,901 1841.9,901 1841.9,897.1 1833.7,897.1 1833.7,892.3 1829.5,892.3 1829.5,888.5 1820.9,888.5 1820.9,883.7 1817,883.7 1817,871.3 1812.2,871.3 1812.2,875.1 1803.6,875.1 1803.6,871.3 1798.8,871.3"/>
<polygon class="g" points="1902.3,1124.1 1907,1124.1 1907,1132.7 1902.3,1132.7"/>
<polygon class="g" points="1910.9,1141.3 1915.3,1141.3 1915.3,1146.1 1910.9,1146.1"/>
<polygon class="w" points="1705,935.4 1717.4,935.4 1717.4,947.9 1713.6,947.9 1713.6,951.7 1708.8,951.7 1708.8,956.5 1705,956.5"/>
<polygon class="w" points="1722.2,1094.4 1743.3,1094.4 1743.3,1103 1747.5,1103 1747.5,1111.6 1751.9,1111.6 1751.9,1128.9 1743.3,1128.9 1743.3,1136.5 1739.5,1136.5 1739.5,1141.3 1730.9,1141.3 1730.9,1146.1 1726.1,1146.1 1726.1,1141.3 1722.2,1141.3 1722.2,1132.7 1713.6,1132.7 1713.6,1111.6 1717.4,1111.6 1717.4,1098.2 1722.2,1098.2"/>
<polygon class="w" points="1705,1185.4 1713.6,1185.4 1713.6,1194 1734.7,1194 1734.7,1197.8 1743.3,1197.8 1743.3,1201.6 1751.9,1201.6 1751.9,1206.4 1765.3,1206.4 1765.3,1201.6 1773.9,1201.6 1773.9,1206.4 1769.2,1206.4 1769.2,1225 1705,1225"/>
<polygon class="g" points="1713.6,1197.8 1722.2,1197.8 1722.2,1201.6 1713.6,1201.6"/>
<polygon class="g" points="1717.4,1215 1722.2,1215 1722.2,1218.9 1717.4,1218.9"/>
<polygon class="w" points="1812.2,1215 1817,1215 1817,1218.9 1812.2,1218.9"/>
</g>
<g clip-path="url(#c8)">
<rect class="g" x="975" y="1225" width="370" height="367"/>
<polygon class="w" points="1227.8,1230.6 1283.3,1236.4 1289.1,1236.4 1289.1,1240.2 1283.3,1240.2 1283.3,1252.6 1279.5,1252.6 1279.5,1256.5 1275.7,1256.5 1275.7,1260.3 1262.3,1260.3 1262.3,1256.5 1253.6,1256.5 1253.6,1252.6 1258.4,1252.6 1258.4,1248.8 1253.6,1248.8 1249.8,1245 1245,1241.2 1241.2,1238.3 1236.4,1234.4 1232.6,1232.5"/>
<polygon class="w" points="1219.6,1222 1248.9,1222 1246.9,1226.2 1224,1229.3 1219.6,1226.8"/>
<polygon class="w" points="1314,1222 1336,1222 1336,1225.8 1331.2,1230.6 1327.4,1231.6 1327.4,1226.8 1314,1226.8"/>
<polygon class="w" points="1279.5,1256.9 1283.7,1256.9 1283.7,1261.3 1279.5,1261.3"/>
<polygon class="w" points="1275.7,1269.9 1283.7,1269.9 1283.7,1273.7 1275.7,1273.7"/>
<polygon class="w" points="1018.1,1266 1022.9,1266 1022.9,1269.9 1026.7,1269.9 1026.7,1299.6 1014.3,1299.6 1014.3,1304 1009.5,1304 1009.5,1291.9 1014.3,1291.9 1014.3,1279.5 1000.9,1279.5 1000.9,1273.7 1005.6,1273.7 1005.6,1278.5 1014.3,1278.5 1014.3,1273.7 1018.1,1273.7"/>
<polygon class="w" points="1031.5,1287.1 1039.2,1287.1 1039.2,1299.6 1043.9,1299.6 1043.9,1308.2 1035.3,1308.2 1035.3,1295.7 1031.5,1295.7"/>
<polygon class="w" points="1035.3,1331.2 1043.9,1331.2 1043.9,1322.5 1047.8,1322.5 1047.8,1335 1052.6,1335 1052.6,1352.2 1061.2,1356.1 1065,1356.1 1065,1368.5 1057.3,1368.5 1057.3,1381.9 1035.3,1381.9 1035.3,1386.3 1030.5,1386.3 1030.5,1403 1022.9,1403 1022.9,1411.6 1018.1,1411.6 1018.1,1415.4 1014.3,1415.4 1014.3,1420.2 1009.5,1420.2 1009.5,1425 997,1425 997,1428.8 993.2,1428.8 993.2,1437.5 988.4,1437.5 988.4,1454.7 979.8,1454.7 979.8,1449.9 975,1449.9 975,1385.7 983.6,1385.7 983.6,1381.9 988.4,1381.9 988.4,1377.1 993.2,1373.3 988.4,1368.5 983.6,1368.5 983.6,1364.7 993.2,1364.7 993.2,1359.9 1009.5,1359.9 1009.5,1356.1 1018.1,1356.1 1022.9,1352.2 1022.9,1343.6 1026.7,1343.6 1026.7,1335 1035.3,1335"/>
<polygon class="g" points="1000.9,1368.5 1014.3,1368.5 1014.3,1377.1 1000.9,1377.1"/>
<polygon class="g" points="1010.4,1359.9 1018.1,1359.9 1018.1,1364.7 1010.4,1364.7"/>
<polygon class="g" points="1040.1,1373.3 1043.9,1373.3 1043.9,1381.9 1040.1,1381.9"/>
<polygon class="w" points="983.6,1338.8 997,1338.8 997,1343.6 1004.7,1343.6 1004.7,1347.4 1000.9,1347.4 1000.9,1352.2 993.2,1352.2 993.2,1343.6 983.6,1343.6"/>
<polygon class="w" points="1108.1,1496.8 1112.9,1496.8 1112.9,1501.6 1108.1,1501.6"/>
<polygon class="w" points="975,1518.8 983.6,1518.8 983.6,1515 988.4,1515 988.4,1510.2 993.2,1510.2 993.2,1515 988.4,1515 988.4,1519.8 983.6,1519.8 983.6,1523.6 987.4,1523.6 987.4,1528.4 983.6,1528.4 983.6,1532.2 979.8,1532.2 979.8,1548.5 975,1548.5"/>
<polygon class="w" points="993.2,1519.8 1000.9,1519.8 1000.9,1515 1009.5,1515 1009.5,1522.7 993.2,1522.7"/>
<polygon class="w" points="997,1532.2 1000.9,1532.2 1000.9,1536.1 997,1536.1"/>
<polygon class="w" points="988.4,1539.9 993.2,1539.9 993.2,1544.7 988.4,1544.7"/>
<polygon class="w" points="1090.9,1528.4 1094.7,1528.4 1094.7,1539.9 1087,1539.9 1087,1544.7 1083.2,1548.5 1078.4,1548.5 1078.4,1544.7 1083.2,1544.7 1083.2,1536.1 1090.9,1536.1"/>
<polygon class="w" points="1087,1553.3 1090.9,1553.3 1090.9,1558.1 1087,1558.1"/>
<polygon class="w" points="1065,1575.3 1069.8,1575.3 1069.8,1580.1 1065,1580.1"/>
<polygon class="w" points="1156,1562.5 1173.2,1562.5 1173.2,1566.7 1168.4,1566.7 1168.4,1570.6 1164.6,1570.6 1164.6,1575.3 1177,1575.3 1177,1579.2 1168.4,1579.2 1168.4,1587.8 1159.8,1587.8 1159.8,1579.2 1142.6,1579.2 1142.6,1575.3 1151.2,1575.3 1151.2,1566.7 1156,1566.7"/>
<polygon class="w" points="1292.9,1300.5 1296.7,1300.5 1296.7,1296.7 1300.6,1296.7 1300.6,1300.5 1296.7,1304.3 1296.7,1312 1283.7,1312 1283.7,1308.2 1292.9,1308.2"/>
<polygon class="w" points="1322.6,1300.5 1331.2,1300.5 1331.2,1296.7 1345,1296.7 1345,1304.3 1331.2,1304.3 1331.2,1308.2 1327.4,1308.2 1327.4,1312 1314,1312 1314,1308.2 1322.6,1308.2"/>
<polygon class="w" points="1314,1322.5 1327.4,1322.5 1327.4,1326.4 1331.2,1326.4 1331.2,1342.7 1327.4,1342.7 1327.4,1335 1314,1335"/>
</g>
<g clip-path="url(#c9)">
<rect class="w" x="1345" y="1225" width="365" height="367"/>
<polygon class="g" points="1340,1222 1710,1222 1710,1465.2 1701,1450.9 1696.2,1450.9 1688.6,1458.5 1683.8,1462.3 1675.1,1462.3 1675.1,1458.5 1670.4,1454.7 1665.6,1449.9 1661.7,1445.1 1657.9,1436.5 1649.3,1432.7 1644.5,1427.9 1640.7,1424 1635.9,1419.3 1631.1,1415.4 1627.3,1410.6 1618.6,1405.9 1610,1401.1 1601.4,1396.3 1596.6,1392.4 1589.9,1385.7 1575.6,1385.7 1571.7,1389.6 1566.9,1389.6 1562.7,1393.4 1554.5,1393.4 1550.7,1398.2 1545.9,1402 1545.9,1406.8 1550.3,1406.8 1550.3,1413.5 1542,1413.5 1542,1393.4 1545.9,1393.4 1550.7,1389.6 1550.7,1384.8 1554.5,1381 1558.3,1377.1 1558.3,1372.3 1542,1372.3 1542,1368.5 1537.3,1364.7 1537.3,1359.9 1532.5,1359.9 1532.5,1352.2 1524.8,1344.6 1524.8,1338.8 1520,1338.8 1520,1335 1494.2,1335 1494.2,1317.8 1490.3,1317.8 1490.3,1309.1 1485.5,1304.3 1481.7,1296.7 1473.1,1291.9 1468.3,1288.1 1464.5,1283.3 1459.7,1283.3 1459.7,1291.9 1447.2,1291.9 1443.4,1283.3 1438.6,1283.3 1438.6,1287.1 1443.4,1291.9 1443.4,1304.3 1438.6,1313 1430,1313 1417.6,1309.1 1412.8,1300.5 1404.2,1300.5 1400.3,1309.1 1383.1,1309.1 1379.3,1300.5 1370.6,1291.9 1365.9,1287.1 1353.4,1287.1 1353.4,1296.7 1340,1296.7"/>
<polygon class="w" points="1352.8,1218.9 1378.9,1218.9 1378.9,1223.1 1383.1,1223.1 1383.1,1227.4 1387.1,1227.4 1387.1,1231 1391.7,1231 1391.7,1240.2 1399.9,1240.2 1399.9,1253 1408.8,1253 1408.8,1249.2 1417,1249.2 1417,1257 1422,1257 1422,1265.9 1430.2,1265.9 1430.2,1269.9 1404.2,1269.9 1404.2,1266.2 1395.9,1266.2 1395.9,1261.6 1391.7,1261.6 1391.7,1257.4 1387.1,1257.4 1387.1,1249.2 1378.9,1249.2 1378.9,1244.2 1373.9,1244.2 1373.9,1240.2 1369.9,1240.2 1369.9,1236 1366,1236 1366,1231.4 1362,1231.4 1362,1227.4 1357,1227.4 1357,1223.1 1352.8,1223.1"/>
<polygon class="w" points="1567.9,1222 1608.1,1222 1608.1,1225.8 1603.3,1230.6 1599.5,1230.6 1599.5,1234.4 1595.7,1238.3 1590.9,1243.1 1587,1243.1 1587,1248.8 1583.2,1252.6 1579.4,1248.8 1575.6,1252.6 1571.7,1248.8 1571.7,1243.1 1567.9,1243.1"/>
<polygon class="w" points="1608.1,1238.3 1623.4,1238.3 1623.4,1243.1 1627.3,1243.1 1627.3,1256.5 1618.6,1256.5 1618.6,1260.3 1610,1260.3 1610,1252.6 1606.2,1252.6 1606.2,1243.1 1608.1,1243.1"/>
<polygon class="g" points="1610,1248.8 1618.6,1248.8 1618.6,1252.6 1610,1252.6"/>
<polygon class="w" points="1610,1222 1656,1222 1656,1230.6 1648.3,1230.6 1648.3,1234.4 1640.7,1234.4 1635.9,1238.3 1627.3,1238.3 1623.4,1234.4 1618.6,1230.6 1610,1230.6"/>
<polygon class="g" points="1627.3,1225.8 1635.9,1225.8 1635.9,1230.6 1627.3,1230.6"/>
<polygon class="w" points="1682.8,1222 1710,1222 1710,1298.6 1696.2,1298.6 1696.2,1294.8 1679,1294.8 1679,1290.9 1675.1,1290.9 1675.1,1273.7 1682.8,1273.7 1682.8,1256.5 1679,1256.5 1679,1248.8 1670.4,1248.8 1670.4,1243.1 1675.1,1238.3 1679,1234.4 1682.8,1230.6"/>
<polygon class="w" points="1615.8,1266 1631.1,1266 1631.1,1269.9 1627.3,1269.9 1627.3,1279.5 1632.1,1283.3 1675.1,1283.3 1675.1,1290.9 1640.7,1290.9 1640.7,1294.8 1635.9,1298.6 1627.3,1287.1 1623.4,1287.1 1618.6,1283.3 1614.8,1278.5 1610,1273.7 1615.8,1269.9"/>
<polygon class="w" points="1640.7,1304.3 1644.5,1298.6 1696.2,1298.6 1696.2,1317.8 1692.4,1321.6 1661.7,1321.6 1657.9,1317.8 1653.1,1317.8 1648.3,1313 1644.5,1309.1 1640.7,1309.1"/>
<polygon class="w" points="1545.9,1261.3 1550.3,1261.3 1550.3,1266 1545.9,1266"/>
<polygon class="w" points="1438.6,1269.9 1443.4,1269.9 1443.4,1273.7 1438.6,1273.7"/>
<polygon class="w" points="1648.3,1321.6 1653.1,1321.6 1653.1,1326.4 1648.3,1326.4"/>
<polygon class="w" points="1683.8,1336.9 1692.4,1336.9 1692.4,1333.1 1700,1333.1 1700,1329.2 1710,1329.2 1710,1344.6 1704.8,1344.6 1704.8,1349.4 1701,1349.4 1701,1344.6 1683.8,1344.6"/>
<polygon class="w" points="1704.8,1381 1710,1381 1710,1394.4 1704.8,1394.4"/>
<polygon class="w" points="1512.4,1317.8 1516.2,1317.8 1520,1321.6 1520,1335 1512.4,1335"/>
<polygon class="w" points="1520,1300.5 1533.4,1300.5 1533.4,1304.3 1537.3,1309.1 1542,1313.9 1542,1321.6 1533.4,1321.6 1528.6,1317.8 1524.8,1313 1520,1309.1"/>
<polygon class="g" points="1512.4,1352.2 1524.8,1352.2 1524.8,1356.1 1520,1356.1 1520,1359.9 1512.4,1359.9"/>
<polygon class="g" points="1340,1312 1357.2,1312 1357.2,1325.4 1365.9,1325.4 1365.9,1334 1374.5,1338.8 1386.9,1347.4 1386.9,1373.3 1391.7,1377.1 1391.7,1385.7 1400.3,1390.5 1404.2,1398.2 1408.9,1406.8 1417.6,1410.6 1426.2,1419.3 1426.2,1432.7 1430,1432.7 1430,1436.5 1426.2,1436.5 1426.2,1449.9 1422.3,1453.7 1417.6,1457.6 1400.3,1457.6 1395.5,1449.9 1391.7,1449.9 1391.7,1445.1 1400.3,1436.5 1391.7,1432.7 1386.9,1428.8 1379.3,1432.7 1379.3,1458.5 1383.1,1458.5 1383.1,1463.3 1386.9,1463.3 1386.9,1475.8 1383.1,1475.8 1383.1,1493 1379.3,1493 1379.3,1505.4 1408.9,1505.4 1408.9,1493 1412.8,1489.2 1412.8,1475.8 1417.6,1471 1421.4,1467.1 1426.2,1463.3 1430,1459.5 1434.8,1459.5 1438.6,1463.3 1443.4,1467.1 1447.2,1467.1 1451.1,1471 1451.1,1479.6 1455.9,1479.6 1455.9,1500.6 1460.7,1505.4 1460.7,1514.1 1464.5,1517.9 1464.5,1526.5 1468.3,1530.3 1468.3,1539 1473.1,1543.7 1473.1,1547.6 1485.5,1547.6 1485.5,1543.7 1490.3,1543.7 1494.2,1547.6 1499,1551.4 1502.8,1551.4 1506.6,1556.2 1511.4,1560 1520,1560 1528.6,1564.8 1550.7,1564.8 1550.7,1592 1340,1592"/>
<polygon class="w" points="1383.1,1428.8 1386.9,1428.8 1386.9,1432.7 1383.1,1432.7"/>
<polygon class="g" points="1550.7,1531.3 1550.7,1526.5 1563.1,1526.5 1563.1,1522.7 1567.9,1522.7 1567.9,1517.9 1571.7,1517.9 1571.7,1514.1 1576.5,1514.1 1576.5,1509.3 1580.3,1505.4 1582.3,1505.4 1582.3,1531.3"/>
<polygon class="g" points="1585.1,1531.3 1682.8,1531.3 1682.8,1509.3 1692.4,1509.3 1692.4,1504.5 1701,1504.5 1701,1493.9 1710,1493.9 1710,1552.4 1701,1552.4 1701,1547.6 1692.4,1547.6 1683.8,1551.4 1675.1,1551.4 1675.1,1547.6 1665.6,1547.6 1665.6,1543.7 1657.9,1543.7 1657.9,1551.4 1648.3,1556.2 1635.9,1556.2 1635.9,1547.6 1627.3,1547.6 1627.3,1543.7 1618.6,1543.7 1618.6,1539.9 1610,1543.7 1597.6,1543.7 1597.6,1535.1 1585.1,1535.1"/>
</g>
<g clip-path="url(#c10)">
<rect class="g" x="1710" y="1225" width="365" height="367"/>
<polygon class="w" points="1705,1222 1748.1,1222 1748.1,1226.8 1744.3,1239.2 1726.1,1244 1726.1,1247.9 1722.2,1252.6 1722.2,1261.3 1726.1,1261.3 1726.1,1265.1 1722.2,1269.9 1713.6,1273.7 1713.6,1278.5 1705,1278.5"/>
<polygon class="w" points="1941.5,1222 2035.4,1222 2035.4,1230.6 2030.6,1230.6 2030.6,1235.4 2022,1235.4 2022,1239.2 2013.3,1244 2000.9,1244 2000.9,1239.2 1992.3,1239.2 1992.3,1235.4 1983.6,1235.4 1975,1230.6 1950.1,1230.6 1950.1,1226.8 1941.5,1226.8"/>
<polygon class="w" points="1717.4,1300.5 1726.1,1300.5 1726.1,1304.3 1738.5,1317.8 1738.5,1321.6 1734.7,1326.4 1755.8,1326.4 1755.8,1313.9 1781.6,1313.9 1781.6,1317.8 1798.8,1317.8 1798.8,1321.6 1811.3,1321.6 1811.3,1326.4 1820.9,1330.2 1820.9,1334 1833.3,1334 1833.3,1346.5 1846.7,1346.5 1846.7,1342.7 1850.5,1342.7 1850.5,1346.5 1846.7,1351.3 1846.7,1359.9 1854.4,1359.9 1854.4,1381 1846.7,1381 1846.7,1384.8 1837.1,1388.6 1837.1,1393.4 1833.3,1393.4 1833.3,1415.4 1829.5,1415.4 1829.5,1411.6 1820.9,1411.6 1820.9,1415.4 1811.3,1419.3 1803.6,1419.3 1803.6,1406.8 1798.8,1406.8 1798.8,1411.6 1795,1415.4 1786.4,1411.6 1777.8,1411.6 1777.8,1419.3 1773,1415.4 1751.9,1415.4 1748.1,1425 1748.1,1432.7 1751.9,1441.3 1744.3,1441.3 1744.3,1432.7 1739.5,1432.7 1734.7,1432.7 1734.7,1441.3 1726.1,1441.3 1726.1,1437.5 1722.2,1432.7 1717.4,1428.8 1713.6,1425 1705,1425 1705,1300.5"/>
<polygon class="w" points="1790.2,1425 1795,1425 1795,1432.7 1790.2,1432.7"/>
<polygon class="w" points="1786.4,1441.3 1790.2,1441.3 1790.2,1446.1 1786.4,1446.1"/>
<polygon class="w" points="1744.3,1446.1 1773.9,1446.1 1773.9,1449.9 1756.7,1449.9 1756.7,1454.7 1751.9,1462.3 1744.3,1462.3 1739.5,1454.7"/>
<polygon class="g" points="1786.4,1326.4 1790.2,1326.4 1790.2,1330.2 1786.4,1330.2"/>
<polygon class="g" points="1841,1377.1 1846.7,1377.1 1846.7,1381.9 1841,1381.9"/>
<polygon class="g" points="1713.6,1309.1 1718.4,1309.1 1718.4,1313.9 1722.2,1313.9 1722.2,1317.8 1726.1,1317.8 1726.1,1321.6 1718.4,1321.6 1718.4,1326.4 1713.6,1326.4"/>
<polygon class="g" points="1705,1329.2 1717.4,1329.2 1717.4,1334 1705,1334"/>
<polygon class="w" points="1748.1,1471 1751.9,1471 1751.9,1467.1 1764.4,1467.1 1764.4,1479.6 1755.8,1479.6 1755.8,1488.2 1751.9,1488.2 1751.9,1479.6 1748.1,1474.8"/>
<polygon class="w" points="1722.2,1479.6 1748.1,1479.6 1748.1,1492 1739.5,1497.8 1734.7,1501.6 1724.2,1501.6 1718.4,1493.9 1720.3,1484.4"/>
<polygon class="w" points="1803.6,1248.8 1808.4,1248.8 1808.4,1257.4 1812.2,1257.4 1812.2,1252.6 1816.1,1252.6 1816.1,1257.4 1820.9,1257.4 1820.9,1269.9 1812.2,1269.9 1812.2,1265.1 1808.4,1261.3 1803.6,1261.3"/>
<polygon class="g" points="1812.2,1261.3 1816.1,1261.3 1816.1,1265.1 1812.2,1265.1"/>
<polygon class="w" points="1838.1,1261.3 1850.5,1261.3 1850.5,1257.4 1854.4,1257.4 1854.4,1261.3 1859.2,1261.3 1859.2,1269.9 1850.5,1269.9 1850.5,1274.7 1846.7,1278.5 1841.9,1278.5 1841.9,1269.9 1838.1,1269.9"/>
<polygon class="w" points="1864,1269.9 1867.8,1269.9 1867.8,1273.7 1881.2,1273.7 1881.2,1278.5 1867.8,1278.5 1867.8,1273.7 1864,1273.7"/>
<polygon class="w" points="1867.8,1283.3 1871.6,1283.3 1871.6,1287.1 1867.8,1287.1"/>
<polygon class="w" points="1876.4,1283.3 1881.2,1283.3 1881.2,1287.1 1876.4,1287.1"/>
<polygon class="w" points="2049.7,1269.9 2053.6,1269.9 2053.6,1274.7 2057.4,1278.5 2072.1,1278.5 2072.1,1359.9 2040.1,1359.9 2035.4,1364.7 2026.7,1368.5 2026.7,1372.3 2018.1,1377.1 2018.1,1356.1 2013.3,1351.3 2013.3,1330.2 2009.5,1326.4 2009.5,1317.8 2004.7,1313.9 2004.7,1309.1 2013.3,1309.1 2009.5,1304.3 2009.5,1300.5 2022.9,1300.5 2022.9,1291.9 2040.1,1291.9 2040.1,1287.1 2044.9,1287.1 2044.9,1283.3 2049.7,1278.5"/>
<polygon class="w" points="2065,1385.7 2072.1,1385.7 2072.1,1389.6 2065,1389.6"/>
<polygon class="w" points="1936.7,1385.7 1950.1,1385.7 1950.1,1389.6 1954,1389.6 1954,1394.4 1957.8,1394.4 1957.8,1398.2 1954,1398.2 1954,1403 1945.3,1403 1945.3,1406.8 1941.5,1411.6 1941.5,1415.4 1928.1,1419.3 1928.1,1424 1919.5,1424 1919.5,1428.8 1915.3,1428.8 1915.3,1416.4 1923.9,1416.4 1923.9,1411.6 1928.1,1411.6 1928.1,1406.8 1932.9,1403 1936.7,1398.2 1941.5,1394.4 1941.5,1389.6 1936.7,1389.6"/>
<polygon class="g" points="1945.3,1394.4 1950.1,1394.4 1950.1,1398.2 1945.3,1398.2"/>
<polygon class="g" points="1932.9,1411.6 1941.5,1411.6 1941.5,1415.4 1932.9,1415.4"/>
<polygon class="w" points="1936.7,1425 1945.3,1425 1945.3,1420.2 1949.6,1420.2 1949.6,1425 1945.3,1428.8 1945.3,1432.7 1936.7,1432.7 1932.9,1436.5 1928.1,1441.3 1928.1,1436.5 1932.9,1432.7 1936.7,1428.8"/>
<polygon class="w" points="1950.1,1428.8 1954,1425 1957.8,1425 1957.8,1441.3 1961.6,1441.3 1961.6,1446.1 1957.8,1446.1 1954,1441.3 1950.1,1441.3"/>
<polygon class="w" points="1945.3,1449.9 1950.1,1449.9 1950.1,1454.7 1945.3,1454.7"/>
<polygon class="w" points="1915.3,1454.7 1919.5,1454.7 1919.5,1458.5 1915.3,1458.5"/>
<polygon class="w" points="1919.5,1449.9 1924.3,1449.9 1924.3,1453.7 1919.5,1453.7"/>
<polygon class="w" points="1923.9,1446.1 1928.1,1446.1 1928.1,1449.9 1923.9,1449.9"/>
<polygon class="w" points="1966.4,1458.5 1975,1454.7 1975,1458.5 1971.2,1459.5 1971.2,1471 1975,1471 1975,1475.8 1966.4,1471"/>
<polygon class="w" points="1961.6,1475.8 1966.4,1475.8 1966.4,1479.6 1961.6,1479.6"/>
<polygon class="w" points="1902.3,1458.5 1907,1458.5 1907,1463.3 1902.3,1463.3"/>
<polygon class="w" points="1820.9,1522.7 1824.7,1522.7 1824.7,1526.5 1829.5,1526.5 1829.5,1517.9 1833.3,1517.9 1833.3,1514.1 1846.7,1514.1 1846.7,1510.2 1867.8,1510.2 1867.8,1505.4 1871.6,1501.6 1876.4,1501.6 1876.4,1496.8 1881.2,1492 1881.2,1488.2 1885,1484.4 1885,1479.6 1889.8,1475.8 1893.6,1471 1898.4,1467.1 1910.9,1467.1 1910.9,1484.4 1907,1488.2 1902.3,1492 1898.4,1496.8 1893.6,1500.6 1893.6,1515 1907,1515 1907,1510.2 1928.1,1510.2 1928.1,1506.4 1950.1,1502.6 1961.6,1502.6 1961.6,1526.5 1957.8,1530.3 1957.8,1535.1 1954,1535.1 1954,1543.7 1950.1,1547.6 1950.1,1560 1945.3,1564.8 1945.3,1572.5 1941.5,1576.3 1941.5,1582 1945.3,1582 1945.3,1592 1838.1,1592 1838.1,1582 1841.9,1578.2 1837.1,1569.6 1837.1,1564.8 1833.3,1564.8 1833.3,1547.6 1829.5,1547.6 1829.5,1536.1 1824.7,1532.2 1820.9,1532.2"/>
<polygon class="g" points="1885,1484.4 1889.8,1484.4 1889.8,1489.2 1885,1489.2"/>
<polygon class="g" points="1859.2,1565.8 1864,1565.8 1864,1569.6 1859.2,1569.6"/>
<polygon class="w" points="1957.8,1543.7 1961.6,1543.7 1961.6,1547.6 1957.8,1547.6"/>
<polygon class="w" points="1816.1,1497.8 1820.9,1497.8 1820.9,1501.6 1824.7,1501.6 1824.7,1505.4 1816.1,1505.4"/>
<polygon class="w" points="1816.1,1515 1820.9,1515 1820.9,1518.8 1816.1,1518.8"/>
<polygon class="w" points="1812.2,1532.2 1816.1,1532.2 1816.1,1536.1 1812.2,1536.1"/>
<polygon class="w" points="1705,1539.9 1744.3,1539.9 1744.3,1536.1 1760.5,1536.1 1760.5,1539.9 1769.2,1539.9 1769.2,1536.1 1781.6,1536.1 1785.4,1532.2 1785.4,1527.5 1790.2,1527.5 1790.2,1523.6 1798.8,1523.6 1798.8,1536.1 1795,1539.9 1795,1547.6 1803.6,1547.6 1803.6,1551.4 1808.4,1551.4 1808.4,1556.2 1803.6,1561 1798.8,1564.8 1798.8,1578.2 1812.2,1578.2 1812.2,1582 1819.9,1582 1819.9,1592 1705,1592"/>
<polygon class="g" points="1790.2,1527.5 1795,1527.5 1795,1536.1 1790.2,1536.1"/>
<polygon class="g" points="1705,1543.7 1708.8,1543.7 1708.8,1547.6 1705,1547.6"/>
<polygon class="w" points="1726.1,1505.4 1730.9,1505.4 1730.9,1509.3 1726.1,1509.3"/>
</g>
<g clip-path="url(#c11)">
<rect class="g" x="975" y="1592" width="370" height="367"/>
<polygon class="w" points="975,1751.8 994.2,1742.2 1013.3,1730.7 1032.5,1723.1 1055.4,1721.1 1074.6,1719.2 1089.9,1711.6 1105.2,1703.9 1120.5,1696.2 1134,1684.8 1134,1680.9 1243.1,1680.9 1243.1,1696.2 1252.7,1703.9 1266.1,1711.6 1281.4,1703.9 1300.6,1696.2 1319.7,1680.9 1331.2,1669.4 1345,1661.8 1345,1792 1333.1,1792 1333.1,1799.7 1300.6,1799.7 1291,1807.3 1281.4,1811.2 1273.8,1816.9 1262.3,1815 1250.8,1811.2 1235.5,1811.2 1235.5,1857.1 1206.7,1857.1 1206.7,1861.9 1201.9,1866.7 1193.3,1866.7 1193.3,1861.9 1185.7,1857.1 1127.3,1857.1 1124.4,1860.9 1116.7,1866.7 1109.1,1868.6 1105.2,1872.4 1105.2,1887.8 1101.4,1895.4 1097.6,1905 1093.7,1914.6 1091.8,1929.9 1091.8,1959 975,1959 975,1838 1036.3,1838 1043.9,1824.6 1038.2,1818.8 1038.2,1805.4 1032.5,1799.7 1021,1809.2 1013.3,1799.7 1005.6,1792 998,1797.7 986.5,1805.4 975,1811.2"/>
<polygon class="n" points="992.2,1726.9 1013.3,1703.9 1024.8,1688.6 1042,1684.8 1065,1654.1 1078.4,1638.8 1093.7,1635 1128.2,1631.1 1130.1,1638.8 1109.1,1652.2 1097.6,1665.6 1109.1,1669.4 1120.5,1684.8 1134,1680.9 1134,1684.8 1120.5,1696.2 1105.2,1703.9 1089.9,1711.6 1074.6,1719.2 1055.4,1721.1 1032.5,1723.1 1013.3,1730.7 994.2,1742.2 975,1751.8 975,1742.2"/>
<polygon class="m" points="975,1751.8 994.2,1742.2 1013.3,1730.7 1032.5,1723.1 1055.4,1721.1 1074.6,1719.2 1089.9,1711.6 1089.9,1742.2 1074.6,1761.4 1061.2,1780.5 1047.8,1792 1032.5,1799.7 1021,1809.2 1013.3,1799.7 1005.6,1792 998,1780.5 994.2,1761.4 975,1772.9"/>
<polygon class="m" points="975,1811.2 986.5,1805.4 998,1797.7 1005.6,1792 1013.3,1799.7 1021,1809.2 1032.5,1799.7 1038.2,1805.4 1038.2,1818.8 1043.9,1824.6 1036.3,1838 975,1838"/>
<polygon class="n" points="1243.1,1652.2 1262.3,1661.8 1285.2,1652.2 1300.6,1627.3 1331.2,1604.3 1345,1604.3 1345,1661.8 1331.2,1669.4 1319.7,1680.9 1300.6,1696.2 1281.4,1703.9 1266.1,1711.6 1252.7,1703.9 1243.1,1696.2"/>
<polygon class="n" points="1143.5,1669.4 1166.5,1665.6 1185.7,1657.9 1214.4,1654.1 1243.1,1652.2 1243.1,1680.9 1134,1680.9"/>
<polygon class="n" points="1243.1,1780.5 1273.8,1769 1300.6,1772.9 1345,1765.2 1345,1792 1333.1,1792 1333.1,1799.7 1300.6,1799.7 1291,1807.3 1281.4,1811.2 1273.8,1816.9 1262.3,1815 1250.8,1811.2 1235.5,1811.2 1235.5,1795.8"/>
<polygon class="m" points="1116.7,1853.3 1124.4,1860.9 1116.7,1866.7 1112.9,1887.8 1109.1,1903.1 1112.9,1914.6 1112.9,1959 1091.8,1959 1091.8,1914.6 1097.6,1895.4 1105.2,1872.4 1107.1,1857.1"/>
<polygon class="m" points="1147.4,1742.2 1174.2,1742.2 1166.5,1753.7 1155,1765.2 1147.4,1761.4"/>
<polygon class="n" points="1239.3,1767.1 1345,1761.4 1345,1780.5 1243.1,1782.4"/>
</g>
<g clip-path="url(#c12)">
<rect class="w" x="1345" y="1592" width="365" height="367"/>
<polygon class="m" points="1340,1589 1520,1589 1520,1612.9 1589,1612.9 1589,1646.5 1579.4,1646.5 1569.8,1652.2 1550.7,1661.8 1531.5,1663.7 1512.4,1665.6 1476,1671.3 1476,1666.6 1368.3,1666.6 1368.3,1669.4 1359.2,1684.8 1351.5,1696.2 1340,1703.9"/>
<polygon class="g" points="1340,1589 1416.6,1589 1412.8,1600.5 1397.5,1606.2 1378.3,1608.2 1359.2,1612 1347.7,1621.6 1340,1627.3"/>
<polygon class="g" points="1520,1612.9 1589,1612.9 1589,1644.5 1579.4,1644.5 1566,1650.3 1550.7,1659.9 1531.5,1661.8 1520,1663.7"/>
<polygon class="g" points="1368.7,1646.5 1391.7,1635 1420.4,1635 1458.7,1646.5 1474.1,1652.2 1477.9,1665.6 1368.7,1666.6"/>
<polygon class="w" points="1394.6,1638.8 1406.1,1628.3 1418.5,1637.8 1416.6,1661.8 1405.1,1656"/>
<polygon class="g" points="1476,1669.4 1512.4,1665.6 1531.5,1662.7 1550.7,1660.8 1569.8,1648.4 1589,1646.5 1600.5,1654.1 1605.2,1665.6 1605.2,1701 1503.7,1701 1503.7,1709.7 1476,1709.7"/>
<polygon class="w" points="1516.2,1685.7 1537.3,1685.7 1537.3,1690.5 1516.2,1690.5"/>
<polygon class="w" points="1571.7,1685.7 1589,1685.7 1589,1690.5 1571.7,1690.5"/>
<polygon class="w" points="1491.3,1679 1499,1679 1499,1688.6 1491.3,1688.6"/>
<polygon class="w" points="1543,1669.4 1552.6,1669.4 1552.6,1679 1543,1679"/>
<polygon class="w" points="1575.6,1669.4 1585.1,1669.4 1585.1,1675.2 1575.6,1675.2"/>
<polygon class="g" points="1605.2,1701 1631.1,1701 1638.8,1707.7 1646.4,1715.4 1657.9,1723.1 1657.9,1734.5 1646.4,1738.4 1638.8,1742.2 1634.9,1753.7 1605.2,1753.7"/>
<polygon class="g" points="1596.6,1688.6 1608.1,1680.9 1617.7,1680.9 1627.3,1696.2 1605.2,1701"/>
<polygon class="w" points="1608.1,1728.8 1615.8,1728.8 1615.8,1734.5 1608.1,1734.5"/>
<polygon class="w" points="1623.4,1740.3 1634.9,1740.3 1634.9,1748 1623.4,1748"/>
<polygon class="g" points="1654.1,1700.1 1665.6,1695.3 1679,1692.4 1684.7,1700.1 1692.4,1703.9 1692.4,1711.6 1675.1,1711.6 1675.1,1721.1 1661.7,1721.1 1661.7,1711.6 1654.1,1711.6"/>
<polygon class="m" points="1340,1728.8 1417.6,1728.8 1417.6,1787.2 1340,1787.2"/>
<polygon class="g" points="1417.6,1770.9 1442.1,1770.9 1442.1,1787.2 1417.6,1787.2"/>
<polygon class="g" points="1340,1849.1 1442.1,1849.1 1442.1,1772.9 1458.7,1771.9 1520,1763.3 1575.6,1763.3 1589,1772.9 1608.1,1778.6 1621.5,1780.5 1621.5,1839.9 1631.1,1839.9 1638.8,1824.6 1640.7,1815 1657.9,1815 1657.9,1819.8 1665.6,1824.6 1675.1,1832.2 1683.8,1838 1692.4,1841.8 1692.4,1846.6 1683.8,1846.6 1679,1851.4 1679,1864.8 1675.1,1868.6 1675.1,1876.3 1665.6,1876.3 1665.6,1903.1 1675.1,1912.7 1675.1,1926.1 1665.6,1933.7 1657.9,1941.4 1654.1,1949 1654.1,1959 1340,1959"/>
<polygon class="w" points="1481.7,1807.3 1491.3,1797.7 1508.5,1797.7 1508.5,1815 1499,1820.7 1491.3,1830.3 1481.7,1830.3"/>
<polygon class="w" points="1442.1,1856.2 1462.6,1857.1 1512.4,1856.2 1512.4,1864.8 1462.6,1864.8 1451.1,1862.9 1442.1,1860.9"/>
<polygon class="w" points="1443.4,1872.4 1454.9,1872.4 1462.6,1878.2 1474.1,1883.9 1485.5,1889.7 1499,1889.7 1506.6,1883.9 1512.4,1883.9 1512.4,1893.5 1481.7,1893.5 1474.1,1889.7 1464.5,1884.9 1454.9,1880.1 1443.4,1876.3"/>
<polygon class="w" points="1523.9,1883.9 1531.5,1876.3 1539.2,1870.5 1545.9,1864.8 1550.7,1859 1562.2,1859 1575.6,1870.5 1581.3,1876.3 1569.8,1876.3 1567.9,1883.9 1567.9,1895.4 1575.6,1905 1589,1914.6 1600.5,1922.2 1611.9,1926.1 1611.9,1931.8 1600.5,1931.8 1589,1926.1 1575.6,1918.4 1566,1910.7 1558.3,1899.2 1550.7,1889.7 1545.9,1883.9 1531.5,1883.9"/>
<polygon class="w" points="1581.3,1876.3 1589,1870.5 1611.9,1868.6 1623.4,1876.3 1627.3,1887.8 1631.1,1895.4 1638.8,1903.1 1646.4,1912.7 1638.8,1912.7 1627.3,1906.9 1615.8,1903.1 1608.1,1895.4 1596.6,1887.8 1589,1882"/>
<polygon class="w" points="1631.1,1935.6 1638.8,1941.4 1646.4,1947.1 1654.1,1952.9 1661.7,1956.7 1665.6,1959 1654.1,1959 1642.6,1952.9 1634.9,1945.2 1631.1,1941.4"/>
</g>
<g clip-path="url(#c13)">
<rect class="w" x="1710" y="1592" width="365" height="367"/>
<polygon class="g" points="1907,1595.7 1919.5,1595.7 1919.5,1591.9 1931.9,1591.9 1931.9,1589 2072.1,1589 2072.1,1812.1 2065,1807.3 2061.2,1802.5 2057.4,1797.7 2052.6,1793.9 2047.8,1789.1 2044,1785.3 2039.2,1780.5 2030.6,1776.7 2026.7,1771.9 2022,1768.1 2009.5,1768.1 2009.5,1759.4 2004.7,1755.6 2004.7,1750.8 2000.9,1750.8 2000.9,1746 2009.5,1742.2 2009.5,1738.4 1992.3,1733.6 1992.3,1721.1 1988.4,1721.1 1988.4,1716.4 1979.8,1716.4 1979.8,1695.3 1988.4,1695.3 1988.4,1691.5 1979.8,1691.5 1979.8,1686.7 1971.2,1682.8 1971.2,1678.1 1966.4,1673.3 1966.4,1669.4 1945.3,1669.4 1945.3,1664.6 1950.1,1660.8 1950.1,1652.2 1957.8,1652.2 1957.8,1643.6 1962.6,1643.6 1962.6,1635 1957.8,1635 1957.8,1622.5 1954,1622.5 1954,1613.9 1950.1,1613.9 1950.1,1605.3 1954,1605.3 1954,1600.5 1945.3,1600.5 1945.3,1596.7 1936.7,1596.7 1936.7,1605.3 1931.9,1605.3 1931.9,1613.9 1928.1,1613.9 1928.1,1631.1 1931.9,1631.1 1931.9,1635 1928.1,1635 1928.1,1638.8 1923.3,1638.8 1923.3,1635 1919.5,1631.1 1919.5,1626.3 1915.7,1622.5 1915.7,1617.7 1910.9,1613.9 1910.9,1605.3 1907,1605.3"/>
<polygon class="g" points="1817,1589 1846.7,1589 1846.7,1599.5 1841.9,1599.5 1841.9,1605.3 1834.3,1605.3 1834.3,1596.7 1825.7,1596.7 1821.8,1592.8 1817,1591.9"/>
<polygon class="g" points="1777.8,1622.5 1781.6,1622.5 1781.6,1626.3 1777.8,1626.3"/>
</g>
<g clip-path="url(#c14)">
</g>
<g clip-path="url(#c15)">
<rect class="g" x="1780" y="715" width="293" height="305"/>
<polygon class="w" points="1867.7,742.7 1875.9,742.7 1888.9,742.2 1906.6,742.2 1906.6,746.4 1910.7,746.4 1910.7,750.8 1914.9,750.8 1914.9,767.9 1910.7,767.9 1910.7,772.4 1914.9,772.4 1914.9,793.6 1897.5,793.6 1897.5,797.7 1888.9,797.7 1888.9,793.6 1880.9,793.6 1880.9,789.4 1872.3,789.4 1872.3,793.6 1867.7,793.6 1867.7,797.7 1859.4,797.7 1859.4,801.9 1851.1,801.9 1851.1,806.8 1846.6,806.8 1846.6,811 1842,811 1842,831.7 1846.6,831.7 1846.6,837.1 1863.5,837.1 1863.5,831.7 1867.7,831.7 1867.7,827.5 1872.3,827.5 1872.3,818.9 1876.8,818.9 1876.8,823.4 1889.2,823.4 1889.2,818.9 1893.3,818.9 1893.3,814.6 1906.6,814.6 1906.6,818.9 1924,818.9 1924,814.6 1928.1,814.6 1928.1,810.6 1932.3,810.6 1932.3,793.6 1941.4,793.6 1941.4,777 1945.5,777 1945.5,772.4 1949.6,772.4 1949.6,777 1967,777 1967,781.2 1975.3,781.2 1975.3,785.3 1979.8,785.3 1979.8,789.4 1983.9,789.4 1983.9,793.6 1991.9,793.6 1991.9,789.4 1996.9,789.4 1996.9,785.3 1988.6,785.3 1988.6,781.2 1979.8,781.2 1979.8,772.4 1977.8,766.3 1980.3,761.3 1985.3,757.1 1995.2,753 1999.3,749.7 2003.5,749.7 2003.5,746.4 2009.3,745.5 2009.3,738.1 2005.1,737.8 2005.1,733.1 2008.4,716.6 2010.1,700 2072.5,700 2072.5,763.8 2069.7,763.8 2069.7,759.3 2065.6,759.3 2065.6,755 2061.1,755 2061.1,750.8 2052.8,750.8 2052.8,755 2048.2,755 2048.2,759.3 2039.9,759.3 2039.9,767.9 2018.4,767.9 2018.4,772.4 2014.2,772.4 2014.2,777 2009.8,777 2009.8,785.3 2014.2,785.3 2014.2,781.2 2022.5,781.2 2022.5,785.3 2026.7,785.3 2026.7,793.6 2031.1,793.6 2031.1,806 2035.8,809.3 2039.9,815.9 2041.6,821.7 2034.9,827.5 2031.6,829.2 2018.4,829.2 2018.4,832.5 2010.1,832.5 2010.1,837.1 2001.5,837.1 2001.5,841.1 1988.6,841.1 1988.6,845.4 1983.9,845.4 1983.9,849.9 1979.8,849.9 1979.8,854 1975.3,854 1975.3,858.2 1967,858.2 1967,867 1971.2,867 1971.2,871.1 1975.3,871.1 1975.3,879.7 1979.8,879.7 1979.8,888 1983.9,888 1983.9,892.1 1979.8,892.1 1979.8,897.1 1983.9,897.1 1983.9,901.2 1988.2,901.2 1988.2,944.3 1991.9,944.3 1991.9,952.6 1988.2,952.6 1988.2,960.9 1991.9,960.9 1991.9,999.8 1988.2,999.8 1988.2,1003.9 1983.9,1003.9 1983.9,1013 1967,1013 1967,1008.4 1962.4,1008.4 1962.4,1003.9 1957.9,1003.9 1957.9,974.1 1953.8,974.1 1953.8,960.9 1949.6,960.9 1949.6,952.6 1944.7,952.6 1944.7,944.3 1940.5,944.3 1940.5,940.2 1936.9,940.2 1936.9,944.3 1928.1,944.3 1928.1,952.6 1924,952.6 1924,982.4 1928.1,982.4 1928.1,999.8 1932.3,999.8 1932.3,1013 1936.9,1013 1936.9,1017.2 1941.4,1017.2 1941.4,1020 1855.2,1020 1855.2,956.7 1859.4,956.7 1859.4,944.3 1855.2,944.3 1855.2,935.2 1851.1,935.2 1851.1,931.1 1855.2,931.1 1855.2,926.9 1859.4,926.9 1859.4,921.9 1863.9,921.9 1863.9,914.5 1855.2,914.5 1855.2,910.4 1846.6,910.4 1846.6,901.2 1842,901.2 1842,897.1 1833.7,897.1 1833.7,892.1 1829.2,892.1 1829.2,888 1821,888 1821,883.9 1816.6,883.9 1816.6,871.1 1812.2,871.1 1812.2,875.2 1803.9,875.2 1803.9,871.1 1798.9,871.1 1798.9,853.7 1803.9,853.7 1803.9,845.4 1790.6,845.4 1790.6,832.5 1785.7,832.5 1785.7,797.7 1790.6,797.7 1790.6,789.4 1794.8,789.4 1794.8,785.3 1798.9,785.3 1798.9,777 1803.9,777 1803.9,772.4 1824.6,772.4 1824.6,776.5 1829.2,776.5 1829.2,781.2 1833.7,781.2 1833.7,789.4 1837.8,789.4 1837.8,793.6 1846.6,793.6 1846.6,785.3 1855.2,785.3 1855.2,772.4 1846.6,772.4 1846.6,767.9 1851.1,767.9 1851.1,759.3 1863.5,759.3 1863.5,755 1867.7,755 1867.7,750.8 1872.3,750.8 1872.3,746.4 1867.7,746.4"/>
<polygon class="w" points="2018.4,832.5 2031.6,829.2 2035.8,823.4 2054.8,823.4 2065.6,827.5 2065.6,854 2061.1,854 2061.1,862.3 2056.8,862.3 2056.8,871.1 2052.8,871.1 2052.8,879.7 2048.2,879.7 2048.2,883.9 2039.9,883.9 2039.9,888 2026.7,888 2026.7,879.7 2031.1,879.7 2031.1,875.2 2026.7,875.2 2026.7,867 2022.5,867 2022.5,858.2 2018.4,858.2 2018.4,845.4 2014.2,845.4 2014.2,837.1 2018.4,837.1"/>
<polygon class="g" points="1888.9,785.3 1893.3,785.3 1893.3,789.4 1888.9,789.4"/>
<polygon class="g" points="1897.5,781.2 1902.1,781.2 1902.1,785.3 1897.5,785.3"/>
</g>
<path class="k" d="M449.7 314.8C449.8 316.7 449.9 323.3 450.3 326.6C450.7 329.8 452.8 332.4 452.2 334.3C451.6 336.3 449.1 337.3 446.6 338.4C444.1 339.4 440.5 339.9 437.3 340.6C434.1 341.2 429 341.9 427.3 342.1M603.4 314.8C600.6 319.9 590.7 337.6 586.3 345.2C581.9 352.9 580.6 355.8 577 360.7C573.4 365.7 568.7 370.3 564.6 374.7C560.5 379.1 556.3 383 552.2 387.1C548 391.3 543.6 396.2 539.8 399.6C535.9 402.9 531.7 404.5 528.9 407.3C526 410.2 524.7 414.1 522.7 416.6C520.6 419.2 519 421.7 516.5 422.9C513.9 424 510.2 423.5 507.1 423.5C504 423.5 500.7 422.5 497.8 422.9C495 423.2 492.9 424 490.1 425.3C487.2 426.6 483.9 429.5 480.7 430.6C477.6 431.8 475.1 431.9 471.4 432.2C467.8 432.4 463.1 432.4 459 432.2C454.9 431.9 450.2 430.1 446.6 430.6C443 431.1 440.5 433 437.3 435.3C434.1 437.6 429 443 427.3 444.6M696.6 314.8C695.3 318.8 691.7 330.6 688.8 339C686 347.4 683.1 355.8 679.5 365.4C675.9 375 671.2 386.4 667.1 396.5C662.9 406.6 658.3 417.9 654.7 426C651 434 649.5 437.3 645.3 444.6C641.2 451.8 634.5 462.2 629.8 469.4C625.2 476.7 621.5 481.3 617.4 488.1C613.3 494.8 609.1 502.8 605 509.8C600.8 516.8 597.2 522.5 592.5 530C587.9 537.5 581.7 547.3 577 554.8C572.4 562.3 568.2 569.1 564.6 575C561 581 557.9 586.4 555.3 590.6C552.7 594.7 551.7 597.3 549.1 599.9C546.5 602.5 542.9 603.2 539.8 606.1C536.6 608.9 533.3 613.9 530.4 617C527.6 620.1 525.3 622.8 522.7 624.7C520.1 626.7 518.3 627.6 514.9 628.8C511.5 629.9 506.9 631.1 502.5 631.9C498.1 632.6 492.4 632.3 488.5 633.1C484.6 633.9 482.3 635.6 479.2 636.5C476.1 637.5 473.5 638.7 469.9 638.7C466.3 638.7 461.3 636.7 457.5 636.5C453.6 636.4 450.2 637 446.6 637.8C443 638.5 438.9 639.5 435.7 640.9C432.5 642.2 428.7 645 427.3 645.8M519.6 563.2C520.6 562.2 522.4 561.1 524.2 561.1C526 561.1 528.4 561.8 530.4 563.2C532.5 564.6 534.8 567 536.6 569.4C538.5 571.9 540.4 575.1 541.3 578.1C542.2 581.1 542.5 585.2 542.2 587.5C542 589.7 541.2 591.5 539.8 591.5C538.3 591.5 535.9 589.4 533.5 587.5C531.2 585.5 528.1 582 525.8 579.7C523.4 577.4 520.9 575.5 519.6 573.5C518.3 571.4 518 569 518 567.3C518 565.6 518.5 564.3 519.6 563.2ZM493.8 571.9C494.3 570.5 498.7 567.9 500.9 567.3C503.2 566.6 505.6 567.2 507.1 568.2C508.7 569.2 509.7 571.8 510.2 573.5C510.8 575.1 511.3 577.4 510.2 578.1C509.2 578.9 506.1 578.6 504 578.1C502 577.7 499.5 576.7 497.8 575.7C496.1 574.6 493.3 573.3 493.8 571.9ZM473 581.2C474 580.2 477.2 579.6 479.2 579.4C481.2 579.2 484.1 579.2 484.8 580C485.5 580.8 484.4 583.2 483.2 584.3C482 585.5 479.3 586.9 477.6 587.1C475.9 587.4 473.8 586.9 473 585.9C472.2 584.9 471.9 582.3 473 581.2ZM808.4 314.8C807.3 319.9 804.5 333.9 802.2 345.2C799.8 356.5 797 370.1 794.4 382.5C791.8 394.9 789.5 406.8 786.6 419.8C783.8 432.7 780.7 446.1 777.3 460.1C774 474.1 770.3 489.1 766.5 503.6C762.6 518.1 758.2 533.9 754 547.1C749.9 560.3 745.8 571.7 741.6 582.8C737.5 593.9 733.9 602.7 729.2 613.9C724.5 625 718.8 637.9 713.7 649.6C708.5 661.2 703.8 671.3 698.1 683.7C692.4 696.1 685.2 711.7 679.5 724.1C673.8 736.5 668.4 747.4 664 758.3C659.6 769.1 655.7 780 653.1 789.3C650.5 798.6 650 805.9 648.4 814.2C646.9 822.4 645.3 831.2 643.8 839C642.2 846.8 640.7 853.9 639.1 860.7C637.6 867.6 635.2 876.8 634.5 880M940.4 314.8C940.8 317.8 941.8 327.2 942.9 332.8C943.9 338.4 944.4 341.1 946.6 348.3C948.8 355.6 954.3 371.6 955.9 376.3M950 359.2C951.6 363.1 955.7 373.9 959.3 382.5C962.9 391 967.1 401.1 971.7 410.4C976.4 419.8 981.6 429.6 987.3 438.4C993 447.2 999.2 454.9 1005.9 463.2C1012.6 471.5 1019.9 480.1 1027.6 488.1C1035.4 496.1 1044.7 504.6 1052.5 511.4C1060.2 518.1 1069 524.7 1074.2 528.4C1079.4 532.2 1074.6 527.6 1083.5 534C1092.5 540.5 1112.4 556.3 1128 567.3C1143.5 578.2 1165 592.1 1176.7 599.9C1188.5 607.6 1191.7 609.2 1198.4 613.9C1205.2 618.5 1210.9 622.7 1217.1 627.8C1223.3 633 1229.5 638.7 1235.7 644.9C1241.9 651.1 1248.7 658.6 1254.3 665.1C1260 671.6 1265.7 678.3 1269.9 683.7C1274 689.2 1276.6 693.3 1279.2 697.7C1281.8 702.1 1282.8 706 1285.4 710.1C1288 714.3 1291.1 717.9 1294.7 722.5C1298.3 727.2 1302.5 732.9 1307.1 738.1C1311.8 743.3 1317.5 748.4 1322.7 753.6C1327.8 758.8 1333 764.2 1338.2 769.1C1343.4 774 1348.6 778.7 1353.7 783.1C1358.9 787.5 1364.1 791.9 1369.3 795.5C1374.4 799.2 1379.6 802 1384.8 804.8C1390 807.7 1395.1 810.3 1400.3 812.6C1405.5 814.9 1410.1 816.7 1415.8 818.8C1421.5 820.9 1428.3 823 1434.5 825C1440.7 827.1 1446.9 828.9 1453.1 831.2C1459.3 833.6 1466 836.7 1471.7 839C1477.4 841.3 1484.7 844.2 1487.3 845.2M1088.8 316.6C1089 319.3 1088.8 328 1089.8 332.8C1090.7 337.6 1091.8 340.8 1094.4 345.2C1097 349.6 1100.9 354 1105.3 359.2C1109.7 364.4 1115.6 370.8 1120.8 376.3C1126 381.7 1131.2 387.1 1136.3 391.8C1141.5 396.5 1146.7 400.2 1151.9 404.2C1157 408.3 1161.7 412.4 1167.4 416C1173.1 419.6 1179.8 423 1186 426C1192.2 428.9 1198.4 431.1 1204.7 433.7C1210.9 436.3 1217.6 438.6 1223.3 441.5C1229 444.3 1233.6 447.2 1238.8 450.8C1244 454.4 1249.2 458.8 1254.3 463.2C1259.5 467.6 1264.7 473.1 1269.9 477.2C1275.1 481.3 1279.7 484.2 1285.4 488.1C1291.1 492 1297.8 496.4 1304 500.5C1310.2 504.6 1317 509 1322.7 512.9C1328.4 516.8 1333 519.6 1338.2 523.8C1343.4 527.9 1348.6 533.4 1353.7 537.8C1358.9 542.2 1364.1 546.3 1369.3 550.2C1374.4 554.1 1379.6 558 1384.8 561.1C1390 564.2 1395.1 566.5 1400.3 568.8C1405.5 571.1 1410.1 573.2 1415.8 575C1421.5 576.8 1428.3 578.2 1434.5 579.7C1440.7 581.1 1446.9 582.2 1453.1 583.7C1459.3 585.3 1466.6 587.3 1471.7 589C1476.9 590.7 1480.5 591.9 1484.2 593.7C1487.8 595.5 1490.4 597.5 1493.5 599.9C1496.6 602.2 1499.7 605.3 1502.8 607.6C1505.9 610 1509.3 612.6 1512.1 613.9C1515 615.1 1518.8 616.2 1519.9 615.4C1520.9 614.6 1518.8 611 1518.3 609.2C1517.8 607.4 1516.3 605.8 1516.8 604.5C1517.3 603.2 1519.1 601.2 1521.4 601.4C1523.8 601.7 1527.6 604 1530.7 606.1C1533.9 608.2 1536.9 611.5 1540.1 613.9C1543.3 616.2 1548.3 619 1550 620.1M1269.9 314.8C1272.5 316.7 1279.7 322.5 1285.4 326.6C1291.1 330.6 1297.8 335.5 1304 339C1310.2 342.5 1316.5 345.1 1322.7 347.7C1328.9 350.3 1335.1 352.6 1341.3 354.5C1347.5 356.4 1353.7 358 1359.9 359.2C1366.1 360.4 1372.9 361.4 1378.6 362C1384.3 362.6 1387.9 362.7 1394.1 362.6C1400.3 362.5 1409.1 360.6 1415.8 361.4C1422.6 362.1 1428.8 365.1 1434.5 367C1440.2 368.8 1444.8 371.9 1450 372.5C1455.2 373.2 1459.8 371.8 1465.5 371C1471.2 370.2 1478 368.7 1484.2 367.6C1490.4 366.5 1497.1 365 1502.8 364.5C1508.5 364 1513.7 363.8 1518.3 364.5C1523 365.1 1527.1 367.8 1530.7 368.5C1534.4 369.2 1536.9 368.3 1540.1 368.5C1543.3 368.8 1548.3 369.8 1550 370.1M1550 370.1C1552 371.1 1557 374.2 1562.1 376.3C1567.2 378.3 1575.1 380.2 1580.7 382.5C1586.4 384.8 1592.1 387.1 1596.3 390.2C1600.4 393.4 1602 397.2 1605.6 401.1C1609.2 405 1613.9 409.7 1618 413.5C1622.2 417.4 1626.3 421 1630.4 424.4C1634.6 427.8 1638.7 430.1 1642.9 433.7C1647 437.3 1651.9 442.3 1655.3 446.1C1658.6 450 1660.7 453.1 1663 457C1665.4 460.9 1666.7 465.6 1669.3 469.4C1671.8 473.3 1675.7 477.7 1678.6 480.3C1681.4 482.9 1683.7 483.7 1686.3 485C1688.9 486.3 1691.5 486 1694.1 488.1C1696.7 490.1 1698.5 494 1701.9 497.4C1705.2 500.8 1710.7 504.9 1714.3 508.3C1717.9 511.6 1720.8 514.7 1723.6 517.6C1726.4 520.4 1727.7 524.3 1731.4 525.3C1735 526.4 1741.5 523.9 1745.3 523.8C1749.2 523.6 1751 523.8 1754.7 524.4C1758.3 525 1760.4 525.8 1767.1 527.5C1773.8 529.2 1785.2 532.2 1795 534.7C1804.9 537.1 1815.7 539.8 1826.1 542.4C1836.4 545 1846.8 547.9 1857.1 550.2C1867.5 552.5 1878.9 554.1 1888.2 556.4C1897.5 558.7 1905.3 561.6 1913 564.2C1920.8 566.7 1927 569.1 1934.8 571.9C1942.5 574.8 1951.9 577.6 1959.6 581.2C1967.4 584.9 1974.1 589.3 1981.4 593.7C1988.6 598.1 1996.4 603.2 2003.1 607.6C2009.8 612 2016.6 616.7 2021.7 620.1C2026.9 623.4 2030 625.8 2034.2 627.8C2038.3 629.9 2042.4 631.3 2046.6 632.5C2050.7 633.6 2054.7 634.1 2059 634.7C2063.3 635.2 2070.1 635.4 2072.4 635.6M1796.6 314.8C1798.9 316.2 1805.1 320.2 1810.6 323.5C1816 326.7 1823 330.5 1829.2 334.3C1835.4 338.2 1841.6 343.4 1847.8 346.8C1854 350.1 1860.8 351.7 1866.5 354.5C1872.2 357.4 1877.3 360.5 1882 363.9C1886.6 367.2 1889.2 371.4 1894.4 374.7C1899.6 378.1 1906.3 380.9 1913 384C1919.8 387.1 1928.1 390.2 1934.8 393.4C1941.5 396.5 1947.2 399.3 1953.4 402.7C1959.6 406 1964.8 409.9 1972 413.5C1979.3 417.2 1988.6 421 1996.9 424.4C2005.2 427.8 2013.5 430.6 2021.7 433.7C2030 436.8 2038.1 439.7 2046.6 443C2055 446.4 2068.1 452.1 2072.4 453.9M1550 620.1C1550.5 621.4 1551.3 625 1552.8 627.8C1554.3 630.7 1555.9 634.3 1559 637.1C1562.1 640 1568.1 642.3 1571.4 644.9C1574.8 647.5 1577.4 650.1 1579.2 652.7C1581 655.3 1582.1 658.1 1582.3 660.4C1582.5 662.8 1579.3 664.8 1580.1 666.6C1580.9 668.5 1583.7 670 1587 671.3C1590.2 672.6 1595.2 672.9 1599.4 674.4C1603.5 676 1607.7 678.4 1611.8 680.6C1615.9 682.8 1620.1 685.4 1624.2 687.5C1628.4 689.5 1633.3 692 1636.6 693C1640 694.1 1642.3 694.4 1644.4 694C1646.5 693.6 1647 691.2 1649.1 690.6C1651.1 689.9 1654.2 689.3 1656.8 689.9C1659.4 690.6 1662.3 692.5 1664.6 694.6C1666.9 696.7 1668.7 699.8 1670.8 702.4C1672.9 704.9 1673.4 707.8 1677 710.1C1680.6 712.5 1686.9 714.3 1692.5 716.3C1698.2 718.4 1705 720.9 1711.2 722.5C1717.4 724.2 1723.6 725.7 1729.8 726.3C1736 726.9 1743.4 726.4 1748.4 726.3C1753.5 726.2 1758 725.8 1759.9 725.7M645.3 830C644.6 834.1 642.5 847.1 640.7 854.8C638.9 862.6 636.8 868.8 634.5 876.6C632.1 884.3 628.8 894.7 626.7 901.4C624.6 908.2 623.3 911.3 622 917C620.8 922.7 620 929.4 618.9 935.6C617.9 941.8 616.9 948.8 615.8 954.2C614.8 959.7 614.5 964.3 612.7 968.2C610.9 972.1 608.3 974.7 605 977.5C601.6 980.4 596.7 983 592.5 985.3C588.4 987.6 584.3 989.7 580.1 991.5C576 993.3 571.8 994.6 567.7 996.1C563.6 997.7 558.4 998.7 555.3 1000.8C552.2 1002.9 551.1 1006.5 549.1 1008.6C547 1010.6 547 1012.1 542.9 1013.2C538.7 1014.4 529.9 1014.6 524.2 1015.4C518.5 1016.2 513.9 1016.8 508.7 1017.9C503.5 1019 498.9 1020.1 493.2 1021.9C487.5 1023.7 480.2 1029.7 474.5 1028.8C468.8 1027.8 463.7 1016.9 459 1016.3C454.3 1015.8 451.8 1021.8 446.6 1025.7C441.4 1029.5 431.1 1037.3 428 1039.6M903.1 864.2C901 869.3 894.6 884.9 890.7 895.2C886.8 905.6 883.4 915.4 879.8 926.3C876.2 937.1 872.3 949.6 868.9 960.4C865.6 971.3 862.5 981.1 859.6 991.5C856.8 1001.8 854.5 1012.2 851.9 1022.5C849.3 1032.9 846.4 1043.8 844.1 1053.6C841.8 1063.4 839.7 1073.3 837.9 1081.6C836.1 1089.8 834.8 1098.1 833.2 1103.3C831.7 1108.5 831.4 1109.5 828.6 1112.6C825.7 1115.7 820.3 1118.6 816.1 1121.9C812 1125.3 807.3 1128.9 803.7 1132.8C800.1 1136.7 797.5 1140.6 794.4 1145.2C791.3 1149.9 788.7 1155.3 785.1 1160.7C781.5 1166.2 776.8 1172.9 772.7 1177.8C768.5 1182.7 764.9 1186.9 760.2 1190.2C755.6 1193.6 749.9 1195.7 744.7 1198C739.5 1200.3 733.9 1201.6 729.2 1204.2C724.5 1206.8 720.1 1210.4 716.8 1213.5C713.4 1216.6 710.8 1220.3 709 1222.9C707.2 1225.4 707.7 1223.1 705.9 1229.1C704.1 1235 701.2 1248.2 698.1 1258.6C695 1268.9 688.8 1284.5 687.3 1291.2C685.7 1297.9 687.8 1296.1 688.8 1298.9C689.9 1301.8 692.7 1305.2 693.5 1308.3C694.3 1311.4 694.3 1315 693.5 1317.6C692.7 1320.2 690.9 1322.5 688.8 1323.8C686.7 1325.1 683.6 1325.9 681.1 1325.3C678.5 1324.8 675.4 1321.6 673.3 1320.7C671.2 1319.8 670.2 1319 668.6 1320.1C667.1 1321.1 665.8 1325.3 664 1326.9C662.2 1328.4 661.4 1329.6 657.8 1329.4C654.1 1329.1 647.9 1326.2 642.2 1325.3C636.5 1324.5 629.8 1324.3 623.6 1324.4C617.4 1324.5 609.6 1325.5 605 1326C600.3 1326.4 597.5 1326.2 595.7 1326.9C593.8 1327.6 593.8 1328.7 594.1 1330C594.4 1331.3 598 1332.6 597.2 1334.7C596.4 1336.7 592.8 1340 589.4 1342.4C586.1 1344.9 581.2 1346.7 577 1349.3C572.9 1351.8 568.7 1355.2 564.6 1358C560.5 1360.7 555.5 1363.1 552.2 1365.7C548.8 1368.3 547 1372.1 544.4 1373.5C541.8 1374.9 539.5 1374.4 536.6 1374.1C533.8 1373.8 530.4 1372.1 527.3 1371.9C524.2 1371.7 521.1 1372.9 518 1372.9C514.9 1372.9 513.9 1373.3 508.7 1371.9C503.5 1370.6 493.7 1367.6 487 1364.8C480.2 1361.9 474 1358.3 468.3 1354.8C462.6 1351.4 457.5 1347.2 452.8 1344C448.1 1340.8 443.7 1337.3 440.4 1335.6C437 1333.9 434.7 1333.7 432.6 1333.7C430.5 1333.7 428.7 1335.3 428 1335.6M476.1 903C477.6 902.3 483.1 901.5 487 902C490.8 902.6 495.8 904.5 499.4 906.1C503 907.6 509.2 910 508.7 911.4C508.2 912.8 499.4 912.8 496.3 914.5C493.2 916.2 491.9 918.6 490.1 921.6C488.3 924.6 487.1 930.2 485.4 932.5C483.7 934.8 482.2 935.8 480.1 935.6C478.1 935.3 474.9 933.3 473 930.9C471 928.6 468.8 924.5 468.3 921.6C467.8 918.8 468.6 915.6 469.9 913.9C471.2 912.1 474.8 912.7 476.1 911.4C477.4 910.1 477.6 907.5 477.6 906.1C477.6 904.7 474.5 903.7 476.1 903ZM457.5 988.4C458.2 986.1 459.3 984.1 462.1 982.2C465 980.2 470.7 978.4 474.5 976.6C478.4 974.8 482.4 971.7 485.4 971.3C488.4 970.9 491.1 972.6 492.5 974.4C494 976.2 494.5 979.6 494.1 982.2C493.7 984.8 491.8 987.1 490.1 989.9C488.4 992.8 485.5 996.7 483.9 999.3C482.2 1001.8 481.7 1004.2 480.1 1005.5C478.6 1006.8 477 1007.5 474.5 1007C472 1006.5 468.1 1004.2 465.2 1002.4C462.4 1000.5 458.7 998.5 457.5 996.1C456.2 993.8 456.7 990.7 457.5 988.4ZM610.6 1336.2C610.6 1335 612.1 1333.2 614.3 1333.7C616.5 1334.2 620.5 1337.1 623.6 1339.3C626.7 1341.5 629.8 1344.5 632.9 1347.1C636 1349.7 639.6 1352.3 642.2 1354.8C644.8 1357.4 647.5 1360.3 648.4 1362.6C649.4 1364.9 648.9 1367.8 647.8 1368.8C646.8 1369.9 644.7 1370 642.2 1368.8C639.8 1367.6 635.2 1364.5 632.9 1361.7C630.6 1358.8 630.1 1354.4 628.3 1351.7C626.4 1349 624.4 1347.3 622 1345.5C619.7 1343.7 616.2 1342.4 614.3 1340.9C612.4 1339.3 610.6 1337.4 610.6 1336.2ZM428 1685.9C430 1685.7 436.5 1685.5 440.4 1685C444.3 1684.5 448.4 1683 451.2 1682.8C454.1 1682.6 455.9 1682.4 457.5 1683.7C459 1685 459.5 1688.4 460.6 1690.6C461.6 1692.7 462.6 1695.5 463.7 1696.8C464.7 1698.1 465.5 1698.8 466.8 1698.3C468.1 1697.8 469.9 1696 471.4 1693.7C473 1691.3 474 1686.2 476.1 1684.3C478.2 1682.5 480.7 1682.9 483.9 1682.8C487 1682.7 491.6 1684.5 494.7 1683.7C497.8 1683 499.9 1679.8 502.5 1678.1C505.1 1676.4 507.1 1674.8 510.2 1673.5C513.4 1672.2 517.8 1671.9 521.1 1670.4C524.5 1668.8 527.3 1665.7 530.4 1664.2C533.5 1662.6 536.1 1661.9 539.8 1661.1C543.4 1660.2 548 1659.9 552.2 1658.9C556.3 1657.8 561.2 1656.4 564.6 1654.8C568 1653.3 569.3 1650.8 572.4 1649.6C575.5 1648.4 579.9 1647.7 583.2 1647.7C586.6 1647.7 590.5 1647.9 592.5 1649.6C594.6 1651.3 594.1 1654.7 595.7 1658C597.2 1661.2 599.8 1666 601.9 1668.8C603.9 1671.7 605 1673.7 608.1 1675C611.2 1676.3 617.4 1675.5 620.5 1676.6C623.6 1677.6 624.9 1680.1 626.7 1681.2C628.5 1682.4 628.3 1683.6 631.4 1683.7C634.5 1683.8 641.7 1682.4 645.3 1681.9C649 1681.3 650.8 1681.8 653.1 1680.6C655.4 1679.5 658.1 1677 659.3 1675C660.5 1673.1 660.8 1670.3 660.2 1668.8C659.7 1667.4 658.4 1666.9 656.2 1666.3C654 1665.8 649.5 1666.6 646.9 1665.7C644.3 1664.8 642.2 1662.9 640.7 1661.1C639.1 1659.2 639 1657.1 637.6 1654.8C636.2 1652.6 632.6 1649.6 632.3 1647.7C632 1645.8 634.4 1644 636 1643.4C637.7 1642.7 639.9 1643.4 642.2 1644C644.6 1644.6 647.4 1647.1 650 1647.1C652.6 1647.1 655.5 1645.5 657.8 1644C660 1642.4 662.3 1640.2 663.4 1637.8C664.4 1635.3 662.8 1631.2 664 1629.1C665.1 1626.9 667.6 1626 670.2 1624.7C672.8 1623.5 676.4 1621.9 679.5 1621.6C682.6 1621.3 685.2 1622.6 688.8 1622.9C692.4 1623.1 696.6 1623.2 701.2 1623.2C705.9 1623.2 712.1 1622.2 716.8 1622.9C721.4 1623.5 725.6 1626.9 729.2 1626.9C732.8 1626.9 735.4 1624.6 738.5 1622.9C741.6 1621.1 744.7 1618 747.8 1616.6C750.9 1615.2 754 1614.8 757.1 1614.5C760.2 1614.1 763.4 1613.7 766.5 1614.5C769.6 1615.2 772.9 1618.5 775.8 1619.1C778.6 1619.8 781.2 1619.5 783.5 1618.5C785.9 1617.5 787.7 1614.8 789.8 1612.9C791.8 1611.1 793.6 1608.9 796 1607.3C798.3 1605.8 800.9 1604.5 803.7 1603.6C806.6 1602.7 810.2 1603.1 813 1602C815.9 1601 818.5 1598.8 820.8 1597.4C823.1 1596 824.7 1594.4 827 1593.7C829.3 1592.9 831.9 1593.6 834.8 1592.7C837.6 1591.9 841 1590 844.1 1588.7C847.2 1587.4 850.8 1587.4 853.4 1585C856 1582.5 857 1576.9 859.6 1574.1C862.2 1571.3 866.4 1570.5 868.9 1567.9C871.5 1565.3 872.6 1561.5 875.2 1558.6C877.7 1555.6 880.8 1553 884.5 1550.2C888.1 1547.3 893.3 1544 896.9 1541.5C900.5 1539 903.1 1538.1 906.2 1535.3C909.3 1532.4 911.9 1527.5 915.5 1524.4C919.2 1521.3 924.3 1520.3 928 1516.6C931.6 1513 934.7 1506.6 937.3 1502.7C939.9 1498.8 940.9 1495.9 943.5 1493.4C946.1 1490.8 949.7 1490.8 952.8 1487.1C955.9 1483.5 959.5 1476.5 962.1 1471.6C964.7 1466.7 966.3 1462 968.3 1457.6C970.4 1453.2 973.5 1447.3 974.5 1445.2M828 1616C828.3 1614.5 830.4 1611.4 832.3 1609.8C834.2 1608.3 837 1606.7 839.4 1606.7C841.9 1606.7 845.1 1608 847.2 1609.8C849.3 1611.6 851.3 1615.2 851.9 1617.6C852.4 1619.9 851.6 1622 850.3 1623.8C849 1625.6 846.4 1628.4 844.1 1628.4C841.8 1628.4 838.7 1625.3 836.3 1623.8C834 1622.2 831.5 1620.4 830.1 1619.1C828.7 1617.8 827.6 1617.6 828 1616ZM578.6 1958.6C578.1 1955.8 576.3 1946.9 575.5 1942.1C574.6 1937.3 573 1933.3 573.3 1929.7C573.6 1926.1 575.6 1923 577 1920.4C578.4 1917.8 580.9 1916.5 581.7 1914.2C582.5 1911.8 580.4 1908.6 581.7 1906.4C583 1904.2 587.2 1903.4 589.4 1901.1C591.7 1898.8 594.3 1895.4 595 1892.4C595.8 1889.4 594.8 1885.7 594.1 1883.1C593.4 1880.5 590.2 1879.2 591 1876.9C591.8 1874.6 598.2 1871.2 598.8 1869.1C599.3 1867.1 596.2 1865.7 594.1 1864.5C592 1863.3 587.7 1863.3 586.3 1862C584.9 1860.7 584.9 1858.9 585.7 1856.7C586.5 1854.5 589.6 1852 591 1848.9C592.4 1845.8 592.5 1840.7 594.1 1838.1C595.7 1835.5 598 1834.6 600.3 1833.4C602.6 1832.2 605.7 1830.2 608.1 1830.9C610.4 1831.7 612 1835.6 614.3 1838.1C616.6 1840.6 620.5 1843 622 1845.8C623.6 1848.7 623.1 1852.7 623.6 1855.2C624.1 1857.6 624.1 1859.5 625.2 1860.7C626.2 1862 628.3 1863.1 629.8 1862.9C631.4 1862.8 633 1861.6 634.5 1859.8C635.9 1858 636.4 1853.9 638.5 1852C640.6 1850.2 643.9 1850.5 646.9 1848.9C649.8 1847.4 653.4 1845.6 656.2 1842.7C659.1 1839.9 661.1 1834.5 664 1831.9C666.8 1829.3 670.4 1828.8 673.3 1827.2C676.1 1825.7 678.2 1823.4 681.1 1822.5C683.9 1821.7 687.8 1821.4 690.4 1821.9C693 1822.4 694.8 1823.7 696.6 1825.7C698.4 1827.6 700.2 1831.1 701.2 1833.4C702.3 1835.7 703.3 1837.6 702.8 1839.6C702.3 1841.7 699.9 1843.8 698.1 1845.8C696.3 1847.9 693.1 1848.9 691.9 1852C690.8 1855.2 690.5 1860.8 691.3 1864.5C692.1 1868.1 694.7 1870.7 696.6 1873.8C698.5 1876.9 701 1880.5 702.8 1883.1C704.6 1885.7 705.6 1887.8 707.5 1889.3C709.3 1890.9 710.6 1891.6 713.7 1892.4C716.8 1893.2 721.4 1894 726.1 1894C730.7 1894 737.5 1891.9 741.6 1892.4C745.8 1892.9 747.8 1895.3 750.9 1897.1C754 1898.9 756.9 1901.1 760.2 1903.3C763.6 1905.5 768.3 1909.9 771.1 1910.4C774 1911 775.8 1907.8 777.3 1906.4C778.9 1904.9 778.9 1902.5 780.4 1901.7C782 1901 784.3 1901.1 786.6 1901.7C789 1902.4 791.8 1904.4 794.4 1905.5C797 1906.5 799.6 1907.6 802.2 1908C804.8 1908.3 807.6 1906.6 809.9 1907.3C812.3 1908.1 814.3 1910.7 816.1 1912.6C818 1914.5 819 1917.3 820.8 1918.8C822.6 1920.4 824.2 1921.7 827 1921.9C829.9 1922.2 835.3 1921.4 837.9 1920.4C840.5 1919.3 842 1917.8 842.5 1915.7C843.1 1913.6 840.7 1910.5 841 1908C841.3 1905.4 842.3 1902.3 844.1 1900.2C845.9 1898.1 849.8 1897.2 851.9 1895.5C853.9 1893.8 854.5 1890.7 856.5 1889.9C858.6 1889.2 862 1889.7 864.3 1890.9C866.6 1892.1 868.7 1895.3 870.5 1897.1C872.3 1898.9 872.8 1900.7 875.2 1901.7C877.5 1902.8 881.6 1902.9 884.5 1903.3C887.3 1903.7 889.6 1904.9 892.2 1904.2C894.8 1903.6 897.7 1898.6 900 1899.3C902.3 1899.9 904.1 1905.5 906.2 1908C908.3 1910.4 910.4 1913 912.4 1914.2C914.5 1915.3 916.3 1915.6 918.6 1914.8C921 1914 923.6 1911.8 926.4 1909.5C929.2 1907.2 934.2 1902.5 935.7 1901.1M717.4 1913.5C717.4 1911.9 719.2 1911 720.5 1910.4C721.8 1909.9 724.2 1909.8 725.5 1910.4C726.7 1911.1 727.8 1912.6 728 1914.2C728.1 1915.7 727.3 1918.7 726.1 1919.8C724.8 1920.8 721.9 1921.4 720.5 1920.4C719 1919.3 717.4 1915.2 717.4 1913.5ZM631.4 1842.1C631.4 1841.6 632.9 1841.1 633.5 1841.2C634.2 1841.3 635.1 1842.3 635.1 1842.7C635.1 1843.2 634.2 1844.1 633.5 1844C632.9 1843.9 631.4 1842.6 631.4 1842.1ZM976.1 1776C975.8 1777.8 975.3 1784 974.5 1786.8C973.8 1789.7 973 1791.2 971.4 1793C969.9 1794.9 966.8 1795.6 965.2 1797.7C963.7 1799.8 962.1 1802.6 962.1 1805.5C962.1 1808.3 964.2 1811.7 965.2 1814.8C966.3 1817.9 967.4 1820.5 968.3 1824.1C969.3 1827.7 970.4 1834.5 970.8 1836.5M850.3 1958.6C851.3 1958.2 853.4 1956.3 856.5 1956.1C859.6 1955.8 865.1 1956.6 868.9 1957C872.8 1957.4 878 1958.3 879.8 1958.6M1143.5 855C1144.8 856.1 1148 859.1 1151.2 861.7C1154.4 864.3 1158.5 867.7 1162.7 870.3C1166.8 873 1171.3 875.5 1176.1 877.6C1180.9 879.7 1186.6 881.5 1191.4 882.8C1196.2 884 1199.7 884.2 1204.8 885.3C1209.9 886.3 1216.6 887.8 1222 889.1C1227.5 890.4 1232.6 891.4 1237.4 892.9C1242.2 894.4 1246.9 896 1250.8 898.1C1254.6 900.2 1257.5 903.2 1260.4 905.8C1263.2 908.3 1265.1 910.9 1268 913.4C1270.9 916 1274.4 918.5 1277.6 921.1C1280.8 923.6 1284 925.9 1287.2 928.7C1290.4 931.6 1293.9 935.1 1296.7 938.3C1299.6 941.5 1301.8 944.9 1304.4 947.9C1307 950.9 1309.2 953.5 1312.1 956.5C1314.9 959.5 1318.8 962.9 1321.6 966.1C1324.5 969.3 1326.7 972.3 1329.3 975.7C1331.8 979 1334.3 982.8 1337 986.2C1339.6 989.5 1343.7 994.2 1345 995.8M1487.3 845.2C1494.2 853 1514.3 878.6 1528.8 891.6C1543.4 904.6 1565.2 916.1 1574.6 923.4C1584 930.7 1581.5 931.2 1585.1 935.4C1588.8 939.7 1592.8 944.4 1596.6 948.8C1600.5 953.3 1604.9 958.3 1608.1 962.2C1611.3 966.2 1613.2 968.9 1615.8 972.8C1618.3 976.6 1620.9 981.7 1623.4 985.2C1626 988.7 1628.2 991.3 1631.1 993.8C1634 996.4 1637.8 998.5 1640.7 1000.5C1643.5 1002.6 1646.1 1004.9 1648.3 1006.3C1650.6 1007.7 1651.8 1008.7 1654.1 1009.2C1656.3 1009.6 1658.5 1009.3 1661.7 1009.2C1664.9 1009 1669.4 1008.5 1673.2 1008.2C1677.1 1008 1680.9 1008.1 1684.7 1007.6C1688.6 1007.2 1692 1006.4 1696.2 1005.3C1700.4 1004.3 1707.7 1002.1 1710 1001.5M1340 989.1C1341.9 991 1347.3 996.7 1351.5 1000.5C1355.6 1004.4 1360.4 1008.2 1364.9 1012C1369.4 1015.9 1373.5 1019.4 1378.3 1023.5C1383.1 1027.7 1388.8 1032.8 1393.6 1036.9C1398.4 1041.1 1402.2 1044.9 1407 1048.4C1411.8 1051.9 1417.6 1055.1 1422.3 1058C1427.1 1060.9 1431.3 1063.3 1435.8 1065.7C1440.2 1068.1 1445.3 1070.8 1449.2 1072.4C1453 1074 1455.2 1074.3 1458.7 1075.2C1462.2 1076.2 1466.7 1076.8 1470.2 1078.1C1473.7 1079.4 1477.1 1081.1 1479.8 1082.9C1482.5 1084.7 1484.6 1086.6 1486.5 1088.6C1488.4 1090.7 1489.2 1093.4 1491.3 1095.3C1493.4 1097.3 1496.1 1098.9 1499 1100.1C1501.8 1101.4 1505 1102 1508.5 1103C1512 1104 1516.5 1104.8 1520 1105.9C1523.5 1107 1526.4 1108.4 1529.6 1109.7C1532.8 1111 1535.7 1112.7 1539.2 1113.5C1542.7 1114.4 1546.2 1114.4 1550.7 1114.9C1555.1 1115.4 1561.2 1115.8 1566 1116.4C1570.8 1117 1574.9 1117.4 1579.4 1118.3C1583.9 1119.3 1588 1120.9 1592.8 1122.2C1597.6 1123.4 1604 1124.9 1608.1 1126C1612.3 1127.1 1614.8 1127.4 1617.7 1128.9C1620.6 1130.3 1623.3 1132.4 1625.4 1134.6C1627.4 1136.8 1628.9 1139.1 1630.1 1142.3C1631.4 1145.5 1631.9 1150.4 1633 1153.8C1634.1 1157.1 1634.9 1159.8 1636.8 1162.4C1638.8 1164.9 1641.6 1167 1644.5 1169.1C1647.4 1171.2 1650.6 1173.4 1654.1 1174.8C1657.6 1176.3 1661.1 1177.1 1665.6 1177.7C1670 1178.3 1676.1 1178.3 1680.9 1178.7C1685.7 1179 1690.5 1178.8 1694.3 1179.6C1698.1 1180.4 1701.3 1182.2 1703.9 1183.4C1706.5 1184.7 1709 1186.6 1710 1187.3M1705 1003.4C1707.2 1003.1 1714.3 1002.5 1718.4 1001.5C1722.6 1000.5 1725.7 999.1 1729.9 997.7C1734 996.2 1739.2 994.5 1743.3 992.9C1747.5 991.3 1751.6 989.4 1754.8 988.1C1758 986.8 1759.3 985.7 1762.5 985.2C1765.6 984.7 1769.8 985 1773.9 985.2C1778.1 985.5 1782.9 986.2 1787.3 986.8C1791.8 987.3 1796.3 988.4 1800.8 988.7C1805.2 989 1810 988.5 1814.2 988.5C1818.3 988.5 1822.1 988.1 1825.7 988.5C1829.2 988.9 1832.7 989.6 1835.2 991C1837.8 992.3 1839.1 994.3 1841 996.7C1842.9 999.1 1844.6 1002.6 1846.7 1005.3C1848.8 1008 1851.5 1010.8 1853.4 1013C1855.3 1015.2 1856.9 1016.8 1858.2 1018.7C1859.5 1020.7 1860.6 1022.6 1861.1 1024.5C1861.6 1026.4 1860.6 1028.5 1861.1 1030.2C1861.6 1032 1862.2 1033.9 1864 1035C1865.7 1036.1 1869.1 1036.6 1871.6 1036.9C1874.2 1037.3 1876.7 1037.1 1879.3 1037.3C1881.8 1037.6 1884.1 1038.7 1886.9 1038.5C1889.8 1038.2 1893 1036.7 1896.5 1036C1900 1035.2 1904.5 1034.9 1908 1034.1C1911.5 1033.3 1914.7 1032.3 1917.6 1031.2C1920.5 1030.1 1923 1028.6 1925.2 1027.4C1927.5 1026.1 1928.4 1024.9 1931 1023.9C1933.5 1022.9 1937 1022.2 1940.6 1021.2C1944.1 1020.3 1948.2 1019.1 1952 1018.2C1955.9 1017.2 1959.7 1016.4 1963.5 1015.5C1967.4 1014.5 1971.7 1013.5 1975 1012.4C1978.4 1011.4 1980.8 1010.7 1983.6 1009.2C1986.5 1007.7 1989.2 1005.7 1992.3 1003.4C1995.3 1001.2 1998.7 998.2 2001.8 995.8C2005 993.3 2008.5 990.4 2011.4 988.7C2014.3 986.9 2015.9 986 2019.1 985.2C2022.3 984.4 2026.7 984.3 2030.6 983.9C2034.4 983.5 2037.9 983.7 2042.1 982.9C2046.2 982.2 2050.5 981 2055.5 979.5C2060.5 978 2069.4 975 2072.1 974.1M1705 1184C1706 1184.7 1709.4 1186.6 1710.7 1188.2C1712.1 1189.9 1713.2 1192.1 1713 1194C1712.9 1195.9 1710.2 1197.8 1709.8 1199.7C1709.4 1201.6 1709.8 1203.7 1710.7 1205.5C1711.7 1207.2 1713.3 1209 1715.5 1210.3C1717.8 1211.5 1720.8 1211.9 1724.2 1213.1C1727.5 1214.3 1731.8 1215.9 1735.6 1217.3C1739.5 1218.8 1743.6 1220.7 1747.1 1221.7C1750.6 1222.8 1753.8 1223.8 1756.7 1223.7C1759.6 1223.5 1761.8 1222.2 1764.4 1220.8C1766.9 1219.4 1769.5 1216.1 1772 1215.4C1774.6 1214.7 1776.5 1215.7 1779.7 1216.6C1782.9 1217.5 1787.3 1219.4 1791.2 1220.8C1795 1222.2 1800.8 1224.3 1802.7 1225M1915.7 1225C1917.3 1223.8 1922 1219.1 1925.2 1217.9C1928.4 1216.7 1931.3 1218.4 1934.8 1217.9C1938.3 1217.4 1942.2 1216.5 1946.3 1215C1950.5 1213.6 1955.2 1210.9 1959.7 1209.3C1964.2 1207.7 1968.6 1206.9 1973.1 1205.5C1977.6 1204 1982.4 1202.3 1986.5 1200.7C1990.7 1199.1 1994.2 1197.3 1998 1195.9C2001.8 1194.5 2006.3 1194 2009.5 1192.1C2012.7 1190.1 2014.3 1187.3 2017.2 1184.4C2020 1181.5 2023.9 1178 2026.7 1174.8C2029.6 1171.6 2032.2 1168.1 2034.4 1165.2C2036.6 1162.4 2037.6 1159.7 2040.1 1157.6C2042.7 1155.5 2046.2 1154.2 2049.7 1152.8C2053.2 1151.4 2057.5 1150.2 2061.2 1149C2064.9 1147.7 2070.3 1145.8 2072.1 1145.1M1345 1232C1344 1232.5 1341.2 1234.3 1338.9 1235C1336.6 1235.8 1333.4 1236.4 1331.2 1236.4C1329 1236.4 1327.7 1235.6 1325.5 1235C1323.2 1234.5 1321.3 1233.2 1317.8 1233.1C1314.3 1233 1308.9 1234.1 1304.4 1234.4C1299.9 1234.8 1295.1 1235.7 1291 1235.4C1286.8 1235.1 1283.3 1233.4 1279.5 1232.5C1275.7 1231.6 1271.8 1230.8 1268 1230C1264.2 1229.2 1260 1228.3 1256.5 1227.7C1253 1227.2 1250.5 1226.6 1246.9 1226.8C1243.4 1226.9 1239.3 1228.2 1235.5 1228.7C1231.6 1229.2 1228.1 1229 1224 1230C1219.8 1231.1 1214.7 1233.8 1210.6 1235C1206.4 1236.2 1201.9 1236.5 1199.1 1237.3C1196.2 1238.2 1196.5 1238.3 1193.3 1240.2C1190.1 1242.1 1184.1 1245.9 1179.9 1248.8C1175.8 1251.7 1171.3 1254.4 1168.4 1257.4C1165.6 1260.5 1164.6 1263.3 1162.7 1267C1160.8 1270.7 1159 1275 1156.9 1279.5C1154.9 1283.9 1152.8 1289.5 1150.2 1293.8C1147.7 1298.1 1144.2 1302 1141.6 1305.3C1139.1 1308.7 1136.8 1312 1134.9 1313.9C1133 1315.8 1132.2 1316.5 1130.1 1316.8C1128 1317.1 1125.3 1316.1 1122.5 1315.8C1119.6 1315.6 1116.1 1315.9 1112.9 1315.5C1109.7 1315 1106.5 1313.9 1103.3 1313C1100.1 1312 1097.2 1310.4 1093.7 1309.7C1090.2 1309 1086.1 1308.6 1082.2 1308.6C1078.4 1308.5 1073.9 1309.6 1070.8 1309.5C1067.6 1309.5 1065.5 1308.7 1063.1 1308.2C1060.7 1307.6 1058.5 1306.1 1056.4 1306.3C1054.3 1306.4 1052.6 1307.7 1050.6 1309.1C1048.7 1310.6 1046.5 1312.8 1044.9 1314.9C1043.3 1317 1042 1318.9 1041.1 1321.6C1040.1 1324.3 1040 1328 1039.2 1331.2C1038.4 1334.4 1037.4 1337.2 1036.3 1340.7C1035.2 1344.2 1034 1348.4 1032.5 1352.2C1030.9 1356.1 1028.6 1359.6 1026.7 1363.7C1024.8 1367.9 1022.9 1373.5 1021 1377.1C1019 1380.8 1017.1 1383.5 1015.2 1385.7C1013.3 1388 1012 1388.8 1009.5 1390.5C1006.9 1392.3 1002.8 1394.2 999.9 1396.3C997 1398.4 994.2 1400.6 992.2 1403C990.3 1405.4 989.2 1407.6 988.4 1410.6C987.6 1413.7 988.1 1418 987.4 1421.2C986.8 1424.4 985.9 1427.1 984.6 1429.8C983.3 1432.5 981.4 1435.2 979.8 1437.5C978.2 1439.7 975.8 1442.2 975 1443.2M1340 1235.4C1341 1234.7 1344 1232.2 1345.7 1231.2C1347.5 1230.2 1348.8 1229.4 1350.5 1229.7C1352.3 1229.9 1353.9 1230.9 1356.3 1232.5C1358.7 1234.1 1361.5 1236.7 1364.9 1239.2C1368.2 1241.8 1373.2 1245.3 1376.4 1247.9C1379.6 1250.4 1382 1252 1384 1254.6C1386.1 1257.1 1387.6 1260.1 1388.8 1263.2C1390.1 1266.2 1390.6 1269.7 1391.7 1272.8C1392.8 1275.8 1393.9 1278.8 1395.5 1281.4C1397.1 1283.9 1398.7 1286.5 1401.3 1288.1C1403.8 1289.6 1407.3 1290.1 1410.9 1290.6C1414.4 1291 1418.5 1290.5 1422.3 1290.9C1426.2 1291.4 1430.3 1292.2 1433.8 1293.2C1437.4 1294.3 1440.5 1295.4 1443.4 1297.1C1446.3 1298.8 1449 1300.9 1451.1 1303.4C1453.2 1305.9 1454.3 1309.3 1455.9 1312C1457.5 1314.7 1458.9 1317.6 1460.7 1319.7C1462.4 1321.7 1465.1 1322.7 1466.4 1324.5C1467.7 1326.2 1468.5 1327.8 1468.7 1330.2C1468.9 1332.6 1467.9 1336.1 1467.4 1338.8C1466.8 1341.5 1466 1343.6 1465.4 1346.5C1464.9 1349.4 1464.1 1353.5 1464.1 1356.1C1464.1 1358.6 1464.8 1360 1465.4 1361.8C1466.1 1363.6 1467.9 1365.2 1467.9 1366.6C1467.9 1368 1465.9 1369 1465.4 1370.4C1465 1371.9 1464.6 1373.8 1465.1 1375.2C1465.5 1376.6 1466.8 1377 1468.3 1379C1469.8 1381.1 1472.1 1385.1 1474.1 1387.7C1476 1390.2 1478.4 1392.1 1479.8 1394.4C1481.2 1396.6 1482 1399 1482.3 1401.1C1482.5 1403.1 1481.8 1405.2 1481.3 1406.8C1480.9 1408.4 1479.2 1408.9 1479.4 1410.6C1479.6 1412.4 1481.7 1415.4 1482.7 1417.3C1483.7 1419.3 1485 1420.1 1485.5 1422.1C1486.1 1424.2 1485.6 1427.4 1485.9 1429.8C1486.3 1432.2 1487.2 1435.4 1487.5 1436.5M1469.8 1370.4C1471.2 1370.4 1475.3 1370.7 1477.9 1370.4C1480.5 1370.1 1483.6 1369.8 1485.5 1368.5C1487.5 1367.2 1488.3 1365.2 1489.4 1362.8C1490.5 1360.4 1491.3 1356.7 1492.3 1354.1C1493.2 1351.6 1494.3 1348.9 1495.1 1347.4C1495.9 1346 1495.8 1345.5 1497 1345.5C1498.3 1345.5 1500.9 1346.9 1502.8 1347.4C1504.7 1348 1505.7 1349 1508.5 1348.8C1511.4 1348.6 1516.2 1347.1 1520 1346.1C1523.9 1345.1 1527.7 1342.7 1531.5 1342.7C1535.3 1342.6 1538.9 1344.4 1543 1345.5C1547.2 1346.6 1552.3 1348.9 1556.4 1349.4C1560.6 1349.8 1564.7 1348.2 1567.9 1348.4C1571.1 1348.6 1573 1349 1575.6 1350.3C1578.1 1351.6 1581.1 1353.7 1583.2 1356.1C1585.3 1358.5 1586.7 1361.5 1588 1364.7C1589.3 1367.9 1590.6 1371.9 1590.9 1375.2C1591.2 1378.6 1589.6 1382.2 1589.9 1384.8C1590.2 1387.3 1591.4 1389.5 1592.8 1390.5C1594.2 1391.6 1595.3 1391.1 1598.5 1390.9C1601.7 1390.8 1607.2 1389.9 1611.9 1389.6C1616.7 1389.3 1622.5 1389.1 1627.3 1389C1632.1 1388.9 1636.8 1388.3 1640.7 1389C1644.5 1389.7 1647.1 1391.7 1650.2 1393.4C1653.4 1395.1 1656.3 1397.4 1659.8 1399.1C1663.3 1400.9 1667.5 1402 1671.3 1403.9C1675.1 1405.9 1679.3 1408.6 1682.8 1410.6C1686.3 1412.7 1690 1414 1692.4 1416.4C1694.8 1418.8 1695.9 1421.7 1697.2 1425C1698.4 1428.4 1699.4 1433 1700 1436.5C1700.7 1440 1701.6 1443.7 1701 1446.1C1700.4 1448.5 1697.8 1449.4 1696.2 1450.9C1694.6 1452.3 1692.6 1452.6 1691.4 1454.7C1690.2 1456.8 1689.3 1460.6 1688.9 1463.3C1688.6 1466 1688.6 1468.9 1689.5 1471C1690.4 1473 1692.4 1474.8 1694.3 1475.8C1696.2 1476.7 1699.1 1477.2 1701 1476.7C1702.9 1476.2 1704.8 1474.3 1705.8 1472.9C1706.7 1471.4 1706 1469.2 1706.7 1468.1C1707.4 1467 1709.5 1466.5 1710 1466.2M1469.8 1370.4C1470.2 1371.4 1470.5 1374.7 1472.1 1376.2C1473.8 1377.6 1477.2 1378.1 1479.8 1379C1482.4 1380 1485.5 1380.5 1487.5 1381.9C1489.4 1383.3 1490.4 1385.3 1491.3 1387.7C1492.2 1390.1 1492.8 1393.2 1492.6 1396.3C1492.5 1399.3 1490.9 1403 1490.3 1405.9C1489.7 1408.7 1489.2 1412.2 1489 1413.5M1572.7 1403C1574.1 1401.7 1577.3 1399.6 1579.4 1399.1C1581.5 1398.7 1583.8 1399 1585.1 1400.1C1586.5 1401.2 1587.4 1403.9 1587.4 1405.9C1587.4 1407.8 1586.5 1410.4 1585.1 1411.6C1583.8 1412.8 1581.3 1413.3 1579.4 1413.1C1577.5 1413 1575.1 1411.7 1573.6 1410.6C1572.2 1409.6 1570.9 1408.1 1570.8 1406.8C1570.6 1405.5 1571.2 1404.3 1572.7 1403ZM1641.6 1438C1643 1438 1645.8 1440.7 1645.8 1442.2C1645.8 1443.7 1643 1447 1641.6 1447C1640.2 1447 1637.4 1443.7 1637.4 1442.2C1637.4 1440.7 1640.2 1438 1641.6 1438ZM1802.7 1227.7C1804.6 1228.9 1810.7 1232.6 1814.2 1234.4C1817.7 1236.3 1820.2 1238.2 1823.7 1238.9C1827.2 1239.5 1831.4 1238.3 1835.2 1238.3C1839.1 1238.3 1842.9 1238.4 1846.7 1238.9C1850.5 1239.3 1854.7 1240.6 1858.2 1241.2C1861.7 1241.7 1864.6 1242.3 1867.8 1242.1C1871 1241.9 1874.2 1241 1877.4 1240.2C1880.6 1239.4 1884.5 1238.8 1886.9 1237.3C1889.3 1235.9 1890.6 1233.5 1891.7 1231.6C1892.8 1229.7 1892.5 1227.2 1893.6 1225.8C1894.8 1224.5 1896.7 1223.7 1898.4 1223.5C1900.2 1223.4 1903.4 1223.7 1904.2 1224.9C1905 1226.1 1903.5 1228.7 1903.2 1230.6C1902.9 1232.5 1901.5 1234.6 1902.3 1236.4C1903.1 1238.1 1905.4 1240 1908 1241.2C1910.6 1242.3 1915.2 1243.2 1917.6 1243.1C1920 1242.9 1921.7 1241.8 1922.4 1240.2C1923 1238.6 1922.2 1235.6 1921.4 1233.5C1920.6 1231.4 1918.5 1229.3 1917.6 1227.7C1916.6 1226.1 1915 1224.9 1915.7 1223.9C1916.3 1223 1920.5 1222.3 1921.4 1222M1705 1467.1C1706 1466.8 1708.8 1464.7 1710.7 1464.8C1712.7 1465 1714.6 1466.4 1716.5 1468.1C1718.4 1469.8 1721.1 1472.4 1722.2 1474.8C1723.4 1477.2 1723.7 1479.9 1723.2 1482.5C1722.7 1485 1720.2 1487.9 1719.4 1490.1C1718.6 1492.4 1717.9 1493.9 1718.4 1495.9C1718.9 1497.8 1720.3 1500.2 1722.2 1501.6C1724.2 1503 1726.7 1503.9 1729.9 1504.5C1733.1 1505.1 1737.6 1504.7 1741.4 1505.1C1745.2 1505.4 1749 1505.7 1752.9 1506.4C1756.7 1507.1 1760.5 1508.6 1764.4 1509.3C1768.2 1509.9 1772 1510.5 1775.9 1510.2C1779.7 1509.9 1784.2 1508.5 1787.3 1507.4C1790.5 1506.2 1793.3 1505.8 1795 1503.5C1796.8 1501.3 1796.6 1496.8 1797.9 1493.9C1799.2 1491.1 1800.6 1489.5 1802.7 1486.3C1804.7 1483.1 1807.8 1478.1 1810.3 1474.8C1812.9 1471.4 1816.4 1468.6 1818 1466.2C1819.6 1463.8 1819.7 1462.5 1819.9 1460.4C1820.1 1458.4 1818.6 1455.8 1818.9 1453.7C1819.3 1451.7 1820.4 1449.6 1821.8 1448C1823.3 1446.4 1825.3 1445.1 1827.6 1444.2C1829.8 1443.2 1833 1443.2 1835.2 1442.2C1837.5 1441.3 1839.1 1440.2 1841 1438.4C1842.9 1436.7 1844.6 1433.6 1846.7 1431.7C1848.8 1429.8 1851.8 1429 1853.4 1426.9C1855 1424.8 1854.5 1422 1856.3 1419.3C1858 1416.5 1861.1 1413 1864 1410.6C1866.8 1408.2 1870.7 1406.3 1873.5 1404.9C1876.4 1403.5 1878.6 1402.8 1881.2 1402C1883.7 1401.2 1886.3 1401.1 1888.9 1400.1C1891.4 1399.1 1893.6 1397.9 1896.5 1396.3C1899.4 1394.7 1902.3 1392.3 1906.1 1390.5C1909.9 1388.8 1915 1387.5 1919.5 1385.7C1924 1384 1928.7 1381.9 1932.9 1380C1937 1378.1 1940.9 1375.5 1944.4 1374.3C1947.9 1373 1950.8 1373.1 1954 1372.3C1957.2 1371.5 1960.3 1370.9 1963.5 1369.5C1966.7 1368 1970.2 1365.4 1973.1 1363.7C1976 1362.1 1978.9 1359.7 1980.8 1359.5C1982.7 1359.3 1983.6 1361.4 1984.6 1362.8C1985.6 1364.1 1984.9 1366.1 1986.5 1367.5C1988.1 1369 1991.3 1370.6 1994.2 1371.4C1997.1 1372.2 2000.9 1372.5 2003.8 1372.3C2006.6 1372.2 2008.9 1372 2011.4 1370.4C2014 1368.8 2016.5 1365.3 2019.1 1362.8C2021.6 1360.2 2024.5 1357.3 2026.7 1355.1C2029 1352.9 2030.3 1350.5 2032.5 1349.4C2034.7 1348.2 2037.3 1348.4 2040.1 1348.4C2043 1348.4 2046.5 1349.5 2049.7 1349.4C2052.9 1349.2 2055.6 1347.9 2059.3 1347.4C2063 1347 2070 1347 2072.1 1346.9M1798.8 1520.8C1798.2 1519.3 1799.8 1515.3 1800.8 1513.1C1801.7 1510.9 1803 1508.4 1804.6 1507.4C1806.2 1506.3 1809.1 1505.7 1810.3 1506.8C1811.6 1507.9 1812.2 1511.7 1812.2 1514.1C1812.2 1516.4 1811.6 1519.4 1810.3 1520.8C1809.1 1522.1 1806.5 1522.1 1804.6 1522.1C1802.7 1522.1 1799.5 1522.3 1798.8 1520.8ZM1705 1549.9C1708.2 1549.5 1717.8 1548.7 1724.2 1548C1730.5 1547.3 1738.5 1545.7 1743.3 1545.7C1748.1 1545.6 1750.6 1546.8 1752.9 1547.6C1755.1 1548.4 1756.1 1550 1756.7 1550.4M1781.6 1542.2C1782.2 1541.2 1785.3 1540 1787.3 1539.9C1789.4 1539.8 1793.3 1540.5 1794.1 1541.4C1794.9 1542.4 1793.3 1544.6 1792.1 1545.7C1791 1546.7 1788.8 1547.6 1787.3 1547.6C1785.9 1547.6 1784.5 1546.5 1783.5 1545.7C1782.6 1544.8 1781 1543.2 1781.6 1542.2ZM1785.4 1569.6C1786.7 1568.6 1792.5 1565.3 1793.1 1563.8C1793.7 1562.4 1790.2 1561.1 1789.3 1561C1788.3 1560.8 1787.7 1562.6 1787.3 1562.9M975 1773.8C976.9 1772.1 982.7 1766.6 986.5 1763.3C990.3 1759.9 994.2 1756.6 998 1753.7C1001.8 1750.8 1005.6 1748.6 1009.5 1746C1013.3 1743.5 1017.5 1740.6 1021 1738.4C1024.5 1736.1 1027.7 1734.5 1030.5 1732.6C1033.4 1730.7 1036.3 1728.5 1038.2 1726.9C1040.1 1725.3 1041.6 1724.3 1042 1723.1C1042.5 1721.8 1041.9 1720.1 1041.1 1719.2C1040.3 1718.3 1038.7 1717.4 1037.2 1717.7C1035.8 1718 1034.2 1719.6 1032.5 1721.1C1030.7 1722.7 1028.6 1724.7 1026.7 1726.9C1024.8 1729.1 1022.7 1732 1021 1734.5C1019.2 1737.1 1017.8 1739.3 1016.2 1742.2C1014.6 1745.1 1013 1748.6 1011.4 1751.8C1009.8 1755 1008.4 1758.5 1006.6 1761.4C1004.8 1764.2 1002.3 1766.5 1000.9 1769C999.4 1771.6 998.3 1774.1 998 1776.7C997.7 1779.2 998.3 1781.8 998.9 1784.3C999.6 1786.9 1001 1789.4 1001.8 1792C1002.6 1794.6 1004 1797.1 1003.7 1799.7C1003.4 1802.2 1001.3 1804.8 999.9 1807.3C998.5 1809.9 996.5 1812.4 995.1 1815C993.7 1817.5 991.9 1820.4 991.3 1822.6C990.6 1824.9 990.6 1826.6 991.3 1828.4C991.9 1830.1 993.4 1832.1 995.1 1833.2C996.9 1834.2 999.4 1834.9 1001.8 1834.7C1004.2 1834.5 1007.4 1833.6 1009.5 1832.2C1011.5 1830.8 1013.1 1828.7 1014.3 1826.5C1015.4 1824.2 1015.4 1821 1016.2 1818.8C1017 1816.6 1017.8 1814.7 1019 1813.1C1020.3 1811.5 1022.4 1810.8 1023.8 1809.2C1025.3 1807.6 1026.4 1804.9 1027.7 1803.5C1028.9 1802.1 1030.2 1800.9 1031.5 1800.6C1032.8 1800.3 1034.4 1800.5 1035.3 1801.6C1036.3 1802.7 1037.1 1805.1 1037.2 1807.3C1037.4 1809.6 1036.5 1812.1 1036.3 1815C1036.1 1817.9 1035.7 1821.4 1035.9 1824.6C1036.1 1827.8 1036.7 1831.3 1037.2 1834.1C1037.8 1837 1038.4 1839.1 1039.2 1841.8C1040 1844.5 1040.8 1848.3 1042 1850.4C1043.3 1852.5 1045.2 1854.1 1046.8 1854.2C1048.4 1854.4 1049.8 1853 1051.6 1851.4C1053.4 1849.8 1055.6 1846.6 1057.3 1844.7C1059.1 1842.8 1060.9 1841.6 1062.1 1839.9C1063.4 1838.1 1064.6 1836.4 1065 1834.1C1065.4 1831.9 1064.3 1828.7 1064.6 1826.5C1064.9 1824.2 1065.7 1822.3 1066.9 1820.7C1068.1 1819.1 1070.8 1818.8 1071.7 1816.9C1072.7 1815 1072.4 1812.1 1072.7 1809.2C1073 1806.4 1073.1 1802.2 1073.6 1799.7C1074.1 1797.1 1074.4 1795.2 1075.5 1793.9C1076.7 1792.6 1078.3 1792 1080.3 1792C1082.4 1792 1085.6 1794.2 1088 1793.9C1090.4 1793.6 1092.1 1791.5 1094.7 1790.1C1097.2 1788.7 1100.9 1786.6 1103.3 1785.3C1105.7 1784 1106.5 1783.5 1109.1 1782.4C1111.6 1781.3 1115.8 1779.9 1118.6 1778.6C1121.5 1777.3 1124.1 1776.2 1126.3 1774.8C1128.5 1773.3 1130.3 1771.3 1132 1770C1133.8 1768.7 1135.2 1767.3 1136.8 1767.1C1138.4 1766.9 1139.9 1769 1141.6 1769C1143.4 1769 1145.4 1767.9 1147.4 1767.1C1149.3 1766.3 1151.4 1764.9 1153.1 1764.2C1154.9 1763.5 1156.3 1762.6 1157.9 1762.9C1159.5 1763.2 1161.7 1764.5 1162.7 1766.1C1163.6 1767.8 1163.4 1770.5 1163.6 1772.9C1163.9 1775.2 1163.9 1778.3 1164.2 1780.5C1164.5 1782.7 1165.8 1784.7 1165.6 1786.3C1165.3 1787.9 1164.4 1789.1 1162.7 1790.1C1160.9 1791 1158.2 1791.5 1155 1792C1151.8 1792.5 1147 1792.5 1143.5 1793C1140 1793.4 1136.7 1793.9 1134 1794.9C1131.2 1795.8 1129.5 1796.9 1127.3 1798.7C1125 1800.5 1122.9 1803.2 1120.5 1805.4C1118.2 1807.6 1115.1 1811.5 1112.9 1812.1C1110.7 1812.7 1109.1 1810 1107.1 1809.2C1105.2 1808.4 1103.3 1807.3 1101.4 1807.3C1099.5 1807.3 1097.4 1808 1095.7 1809.2C1093.9 1810.5 1092.5 1813.1 1090.9 1815C1089.3 1816.9 1086.6 1819 1086.1 1820.7C1085.6 1822.5 1086.7 1824.6 1088 1825.5C1089.3 1826.5 1091.5 1826.5 1093.7 1826.5C1096 1826.5 1098.8 1826 1101.4 1825.5C1104 1825 1106.7 1823.4 1109.1 1823.6C1111.5 1823.8 1114.2 1824.7 1115.8 1826.5C1117.4 1828.2 1117.8 1831.3 1118.6 1834.1C1119.4 1837 1119.8 1840.8 1120.5 1843.7C1121.3 1846.6 1122.5 1849.1 1123.4 1851.4C1124.4 1853.6 1126.1 1855.2 1126.3 1857.1C1126.5 1859 1125.5 1861.3 1124.4 1862.9C1123.3 1864.5 1121.2 1866.1 1119.6 1866.7C1118 1867.3 1116.4 1867.3 1114.8 1866.7C1113.2 1866.1 1111.6 1864 1110 1862.9C1108.4 1861.7 1107 1860.8 1105.2 1860C1103.5 1859.2 1101.7 1857.9 1099.5 1858.1C1097.2 1858.2 1094.1 1859.5 1091.8 1860.9C1089.6 1862.4 1087.8 1864.8 1086.1 1866.7C1084.3 1868.6 1082.4 1870.2 1081.3 1872.4C1080.2 1874.7 1079.9 1877.5 1079.4 1880.1C1078.9 1882.7 1078.1 1885.2 1078.4 1887.8C1078.7 1890.3 1080.7 1892.9 1081.3 1895.4C1081.9 1898 1082.6 1900.8 1082.2 1903.1C1081.9 1905.3 1079.4 1906.9 1079.4 1908.8C1079.4 1910.7 1081 1913 1082.2 1914.6C1083.5 1916.2 1085.8 1917.6 1087 1918.4C1088.3 1919.2 1088.8 1920 1089.9 1919.4C1091 1918.7 1092.5 1916.3 1093.7 1914.6C1095 1912.8 1096.3 1910.4 1097.6 1908.8C1098.8 1907.2 1099.8 1906.6 1101.4 1905C1103 1903.4 1105.5 1901.5 1107.1 1899.2C1108.7 1897 1109.4 1894.1 1111 1891.6C1112.6 1889 1114.8 1886.2 1116.7 1883.9C1118.6 1881.7 1120.5 1880.4 1122.5 1878.2C1124.4 1875.9 1126.8 1873.1 1128.2 1870.5C1129.6 1868 1130.3 1865.1 1131.1 1862.9C1131.9 1860.6 1132.7 1858.1 1133 1857.1M1150.2 1857.1C1149.9 1859 1149.3 1864.8 1148.3 1868.6C1147.4 1872.4 1145.9 1876.9 1144.5 1880.1C1143.1 1883.3 1141.5 1885.5 1139.7 1887.8C1137.9 1890 1136.2 1891.9 1134 1893.5C1131.7 1895.1 1129.2 1896.1 1126.3 1897.3C1123.4 1898.6 1119.3 1899.9 1116.7 1901.2C1114.2 1902.4 1112.4 1903.1 1111 1905C1109.5 1906.9 1108.7 1909.1 1108.1 1912.7C1107.5 1916.2 1107.3 1921 1107.1 1926.1C1107 1931.2 1107.3 1937.8 1107.1 1943.3C1107 1948.8 1106.3 1956.4 1106.2 1959M1091.8 1757.5C1092.9 1756.1 1094.7 1755.2 1097.6 1754.7C1100.4 1754.1 1105.5 1754 1109.1 1754.1C1112.6 1754.2 1116.4 1754.7 1118.6 1755.2C1120.9 1755.8 1122.6 1756.2 1122.5 1757.5C1122.3 1758.9 1119.4 1761.5 1117.7 1763.3C1115.9 1765 1114.3 1766.9 1111.9 1768.1C1109.5 1769.2 1106.2 1770 1103.3 1770C1100.4 1770 1096.8 1769.2 1094.7 1768.1C1092.6 1766.9 1091.3 1765 1090.9 1763.3C1090.4 1761.5 1090.7 1759 1091.8 1757.5ZM1087 1959C1087.2 1956.4 1087.6 1947.5 1088 1943.3C1088.4 1939.1 1088.7 1934.4 1089.3 1933.7C1090 1933.1 1091.2 1936.9 1091.8 1939.5C1092.5 1942 1093 1945.8 1093.4 1949C1093.7 1952.3 1093.7 1957.3 1093.7 1959M1345 1636.9C1343.3 1637 1338.3 1637.5 1335 1637.8C1331.8 1638.2 1328.3 1638.5 1325.5 1638.8C1322.6 1639.1 1320 1640.1 1317.8 1639.8C1315.6 1639.4 1313.7 1636.7 1312.1 1636.5C1310.5 1636.3 1308.2 1637.6 1308.2 1638.8C1308.2 1640 1310.8 1642.3 1312.1 1643.6C1313.3 1644.9 1314.6 1645.2 1315.9 1646.5C1317.2 1647.7 1318.1 1650 1319.7 1651.2C1321.3 1652.5 1323.6 1653.3 1325.5 1654.1C1327.4 1654.9 1329.3 1655.4 1331.2 1656C1333.1 1656.7 1334.7 1658.1 1337 1657.9C1339.3 1657.8 1343.7 1655.6 1345 1655.1M1293.9 1662.7C1293.9 1661.2 1296.1 1659.9 1297.7 1659.5C1299.3 1659.1 1302.1 1659.4 1303.4 1660.2C1304.8 1661.1 1305.7 1663.4 1305.7 1664.6C1305.7 1665.9 1304.8 1667.3 1303.4 1667.9C1302.1 1668.5 1299.3 1669.3 1297.7 1668.5C1296.1 1667.6 1293.9 1664.2 1293.9 1662.7ZM1244.1 1715.4C1245.2 1716 1248.1 1718.3 1250.8 1719.2C1253.5 1720.2 1257.8 1720.2 1260.4 1721.1C1262.9 1722.1 1263.9 1723.8 1266.1 1725C1268.3 1726.2 1271.2 1727.9 1273.8 1728.4C1276.3 1728.9 1278.5 1728.3 1281.4 1727.8C1284.3 1727.4 1288.1 1726.7 1291 1725.9C1293.9 1725.1 1295.8 1724.3 1298.7 1723.1C1301.5 1721.8 1305.4 1719.9 1308.2 1718.3C1311.1 1716.7 1313.7 1714.6 1315.9 1713.5C1318.1 1712.4 1320 1711.1 1321.6 1711.6C1323.2 1712 1323.2 1715.7 1325.5 1716.4C1327.7 1717 1331.8 1715.9 1335 1715.4C1338.3 1714.9 1343.3 1713.8 1345 1713.5M1246.9 1746C1248.6 1744.4 1251.4 1743.1 1254.6 1742.2C1257.8 1741.3 1262.9 1740.5 1266.1 1740.7C1269.3 1740.8 1271.8 1741.6 1273.8 1743.2C1275.7 1744.7 1277.6 1747.5 1277.6 1749.9C1277.6 1752.3 1275.7 1755.3 1273.8 1757.5C1271.8 1759.8 1268.2 1762.2 1266.1 1763.3C1264 1764.4 1262.6 1765.2 1261.3 1764.2C1260 1763.3 1259.6 1759.3 1258.4 1757.5C1257.3 1755.8 1256.4 1754.2 1254.6 1753.7C1252.9 1753.2 1249.6 1755 1247.9 1754.7C1246.2 1754.3 1244.8 1753.2 1244.6 1751.8C1244.5 1750.3 1245.3 1747.6 1246.9 1746ZM1284.3 1755.6C1284.6 1753.9 1286.5 1752.5 1288.1 1751.8C1289.7 1751.1 1292.7 1750.8 1293.9 1751.4C1295 1752 1295.1 1754 1294.8 1755.6C1294.5 1757.3 1293.4 1760.3 1292 1761.4C1290.5 1762.4 1287.5 1762.9 1286.2 1761.9C1284.9 1761 1284 1757.3 1284.3 1755.6ZM1209.6 1749.9C1209.6 1748.6 1208.5 1743.6 1209.6 1742.2C1210.7 1740.8 1213.6 1740.9 1216.3 1741.3C1219 1741.6 1223.2 1742.4 1225.9 1744.1C1228.6 1745.9 1231.1 1749.7 1232.6 1751.8C1234 1753.9 1235 1755.5 1234.5 1756.6C1234 1757.7 1232.1 1758.5 1229.7 1758.5C1227.3 1758.5 1223 1756.6 1220.1 1756.6C1217.3 1756.6 1214.5 1757.4 1212.5 1758.5C1210.4 1759.6 1209.4 1761.5 1207.7 1763.3C1205.9 1765 1204 1767.3 1201.9 1769C1199.9 1770.8 1197.3 1771.9 1195.2 1773.8C1193.2 1775.7 1191.1 1778.1 1189.5 1780.5C1187.9 1782.9 1186.6 1785.6 1185.7 1788.2C1184.7 1790.7 1184.1 1794.6 1183.7 1795.8M1145.4 1742.2C1146.1 1742.7 1147.8 1744.4 1149.3 1745.1C1150.7 1745.7 1152.5 1746.3 1154.1 1746C1155.7 1745.8 1158.1 1744.1 1158.9 1743.7M1197.2 1795.8C1197.8 1794.9 1198.7 1791.8 1201 1790.1C1203.2 1788.3 1207 1786.3 1210.6 1785.3C1214.1 1784.3 1217.9 1784.3 1222 1784.3C1226.2 1784.3 1231 1785 1235.5 1785.3C1239.9 1785.6 1244.4 1786.3 1248.9 1786.3C1253.3 1786.3 1258.4 1785 1262.3 1785.3C1266.1 1785.6 1269.3 1786.7 1271.8 1788.2C1274.4 1789.6 1276.5 1792 1277.6 1793.9C1278.7 1795.8 1279 1797.4 1278.5 1799.7C1278.1 1801.9 1276 1804.8 1274.7 1807.3C1273.4 1809.9 1271.5 1812.1 1270.9 1815C1270.2 1817.9 1270.1 1821.7 1270.9 1824.6C1271.7 1827.4 1273.3 1830.1 1275.7 1832.2C1278.1 1834.3 1281.1 1835.6 1285.2 1837C1289.4 1838.4 1295.5 1839.9 1300.6 1840.8C1305.7 1841.8 1310.5 1842.1 1315.9 1842.8C1321.3 1843.4 1330.3 1844.3 1333.1 1844.7M1290 1795.8C1290.6 1794.9 1292.4 1794 1293.9 1793.9C1295.4 1793.9 1298.2 1794.5 1299 1795.4C1299.8 1796.4 1299.4 1798.6 1298.7 1799.7C1297.9 1800.7 1295.8 1801.6 1294.4 1801.6C1293.1 1801.6 1291.3 1800.6 1290.6 1799.7C1289.9 1798.7 1289.5 1796.8 1290 1795.8ZM1110 1705.8C1111.5 1704.1 1116.6 1701.6 1120.5 1698.5C1124.5 1695.5 1130.8 1688 1134 1687.6C1137.1 1687.2 1138.7 1691.6 1139.7 1696.2C1140.7 1700.9 1140.7 1710.9 1139.7 1715.4C1138.7 1719.9 1136.2 1722.3 1134 1723.1C1131.7 1723.9 1128.4 1721.8 1126.3 1720.2C1124.2 1718.6 1123.1 1715.3 1121.5 1713.5C1119.9 1711.7 1118.4 1710.1 1116.7 1709.3C1115 1708.5 1112.5 1709.3 1111.4 1708.7C1110.2 1708.1 1108.5 1707.5 1110 1705.8ZM1340 1715.4C1341.3 1714.8 1345.1 1713.2 1347.7 1711.6C1350.2 1710 1353.7 1707.6 1355.3 1705.8C1356.9 1704.1 1357.9 1702.3 1357.2 1701C1356.6 1699.8 1352.6 1699.4 1351.5 1698.2C1350.4 1696.9 1349.6 1695.6 1350.5 1693.4C1351.5 1691.1 1355.2 1688.1 1357.2 1684.8C1359.3 1681.4 1361.1 1676.3 1363 1673.3C1364.8 1670.2 1367.4 1667.7 1368.3 1666.6M1392.7 1640.7C1393 1638.2 1397.1 1634.4 1399.4 1632.1C1401.6 1629.8 1403.7 1627.3 1406.1 1626.9C1408.5 1626.5 1411.4 1627.6 1413.7 1629.6C1416.1 1631.6 1419.3 1635.7 1420.1 1638.8C1420.8 1641.9 1419.1 1645.2 1418.5 1648.4C1417.9 1651.6 1417.1 1655.1 1416.6 1657.9C1416.1 1660.8 1416.1 1664.2 1415.6 1665.6C1415.2 1667 1415.5 1668.2 1413.7 1666.6C1412 1665 1407.8 1659.2 1405.1 1656C1402.4 1652.8 1399.5 1650 1397.5 1647.4C1395.4 1644.9 1392.3 1643.3 1392.7 1640.7ZM1481.7 1636.9C1482.5 1635.1 1484.6 1633.6 1486.5 1632.7C1488.4 1631.8 1491.1 1631.1 1493.2 1631.5C1495.3 1631.9 1498.2 1633.4 1499 1635C1499.8 1636.5 1499 1638.8 1498 1640.7C1497 1642.6 1495.1 1645.3 1493.2 1646.5C1491.3 1647.6 1488.4 1647.9 1486.5 1647.4C1484.7 1646.9 1482.9 1645.3 1482.1 1643.6C1481.3 1641.8 1481 1638.7 1481.7 1636.9ZM1340 1638.8C1341 1639.3 1344.5 1640.1 1345.7 1641.7C1347 1643.3 1347.8 1646.3 1347.7 1648.4C1347.5 1650.4 1346.1 1652.7 1344.8 1654.1C1343.5 1655.6 1340.8 1656.5 1340 1657M1368.7 1666.6C1368.9 1665.6 1368.9 1662.4 1369.7 1660.8C1370.5 1659.2 1372.1 1657.5 1373.5 1657C1375 1656.5 1377 1656.8 1378.3 1657.9C1379.6 1659.1 1380.5 1662.3 1381.2 1663.7C1381.8 1665.1 1382 1666.1 1382.1 1666.6M1439.6 1666.6C1439.9 1665.6 1440.7 1662.1 1441.5 1660.8C1442.3 1659.5 1443.3 1658.6 1444.4 1658.9C1445.5 1659.2 1447.2 1661.5 1448.2 1662.7C1449.2 1664 1449.8 1665.9 1450.1 1666.6M1476 1673.3C1477.6 1672.6 1481.7 1670.4 1485.5 1669.4C1489.4 1668.5 1494.5 1668.2 1499 1667.5C1503.4 1666.9 1508.2 1666.4 1512.4 1665.6C1516.5 1664.8 1520.7 1663.4 1523.9 1662.7C1527 1662.1 1528.3 1661.6 1531.5 1661.8C1534.7 1661.9 1539.8 1664 1543 1663.7C1546.2 1663.4 1547.8 1661.8 1550.7 1659.9C1553.5 1657.9 1557 1654.4 1560.2 1652.2C1563.4 1650 1567.3 1647.6 1569.8 1646.5C1572.4 1645.3 1573.5 1645.2 1575.6 1645.5C1577.6 1645.8 1580 1648.2 1582.3 1648.4C1584.5 1648.5 1585.9 1646.9 1589 1646.5C1592 1646 1596.6 1645.8 1600.5 1645.5C1604.3 1645.2 1609.1 1644.8 1611.9 1644.9C1614.8 1645.1 1616.1 1645.2 1617.7 1646.5C1619.3 1647.7 1619.9 1650.3 1621.5 1652.2C1623.1 1654.1 1625.4 1656.8 1627.3 1657.9C1629.2 1659.1 1630.9 1659.4 1633 1658.9C1635.1 1658.4 1638 1656.3 1639.7 1655.1C1641.5 1653.8 1643.2 1652.8 1643.5 1651.2C1643.9 1649.6 1641.5 1646.9 1641.6 1645.5C1641.8 1644.1 1643.5 1642.8 1644.5 1642.6C1645.5 1642.5 1646.9 1643.3 1647.4 1644.5C1647.9 1645.8 1646.3 1648.5 1647.4 1650.3C1648.5 1652 1651.8 1653.2 1654.1 1655.1C1656.3 1657 1660 1659.4 1660.8 1661.8C1661.6 1664.2 1660 1667.2 1658.9 1669.4C1657.7 1671.7 1655.7 1673.3 1654.1 1675.2C1652.5 1677.1 1650.6 1678.7 1649.3 1680.9C1648 1683.2 1647.5 1686.4 1646.4 1688.6C1645.3 1690.8 1644.2 1692.7 1642.6 1694.3C1641 1695.9 1639.1 1697.8 1636.8 1698.2C1634.6 1698.5 1631.1 1697.2 1629.2 1696.2C1627.3 1695.3 1626.9 1693.7 1625.4 1692.4C1623.8 1691.1 1621.5 1690.2 1619.6 1688.6C1617.7 1687 1615.8 1684 1613.9 1682.8C1611.9 1681.7 1610.7 1681.2 1608.1 1681.9C1605.6 1682.5 1600.3 1685.4 1598.5 1686.7C1596.8 1687.9 1596.6 1688.4 1597.6 1689.5C1598.5 1690.7 1601.6 1691.9 1604.3 1693.4C1607 1694.8 1610.7 1696.4 1613.9 1698.2C1617.1 1699.9 1620.9 1702.2 1623.4 1703.9C1626 1705.7 1627.6 1706.8 1629.2 1708.7C1630.8 1710.6 1631.4 1713.6 1633 1715.4C1634.6 1717.2 1635.9 1718 1638.8 1719.2C1641.6 1720.5 1646.9 1721.8 1650.2 1723.1C1653.6 1724.3 1657.4 1725 1658.9 1726.9C1660.3 1728.8 1659.2 1732 1658.9 1734.5C1658.5 1737.1 1656.5 1739.7 1657 1742.2C1657.4 1744.8 1660.6 1747.3 1661.7 1749.9C1662.9 1752.4 1664 1755.1 1663.7 1757.5C1663.3 1759.9 1661.4 1762.8 1659.8 1764.2C1658.2 1765.7 1656.6 1766.6 1654.1 1766.1C1651.5 1765.7 1647.5 1762.6 1644.5 1761.4C1641.5 1760.1 1637.6 1759.8 1635.9 1758.5C1634.1 1757.2 1633.8 1755.1 1634 1753.7C1634.1 1752.3 1635.4 1750.8 1636.8 1749.9C1638.3 1748.9 1641.3 1749.1 1642.6 1748C1643.9 1746.8 1644.8 1744.8 1644.5 1743.2C1644.2 1741.6 1642.1 1738.9 1640.7 1738.4C1639.2 1737.9 1637.5 1739.2 1635.9 1740.3C1634.3 1741.4 1632.9 1743.8 1631.1 1745.1C1629.3 1746.4 1627.6 1747.8 1625.4 1748C1623.1 1748.1 1619.9 1746.5 1617.7 1746C1615.5 1745.6 1614 1744.8 1611.9 1745.1C1609.9 1745.4 1606.4 1747.5 1605.2 1748M1476 1698.2C1477.6 1697.8 1482.4 1696.4 1485.5 1696.2C1488.7 1696.1 1492.1 1696.6 1495.1 1697.2C1498.2 1697.8 1502.3 1699.6 1503.7 1700.1M1488.4 1709.3C1489.2 1708.9 1491.5 1707 1493.2 1706.8C1495 1706.5 1497.2 1707.3 1499 1707.7C1500.7 1708.2 1502.9 1709 1503.7 1709.3M1371.6 1736.5C1372.6 1734.9 1373.7 1732.7 1376.4 1731.7C1379.1 1730.7 1384.7 1730.3 1387.9 1730.3C1391.1 1730.3 1394.4 1730.5 1395.5 1731.7C1396.7 1732.9 1395.2 1735.7 1394.6 1737.4C1393.9 1739.2 1393.5 1740.8 1391.7 1742.2C1390 1743.6 1386.6 1744.9 1384 1746C1381.5 1747.2 1378.5 1748.9 1376.4 1748.9C1374.3 1748.9 1372.6 1747.3 1371.6 1746C1370.6 1744.8 1370.3 1742.8 1370.3 1741.3C1370.3 1739.7 1370.6 1738.1 1371.6 1736.5ZM1408 1729.8C1407.3 1731.2 1405.4 1735.3 1404.2 1738.4C1402.9 1741.4 1400.8 1745.4 1400.3 1748C1399.8 1750.5 1400.3 1751.8 1401.3 1753.7C1402.2 1755.6 1405 1757.2 1406.1 1759.4C1407.2 1761.7 1408 1764.4 1408 1767.1C1408 1769.8 1407.2 1773.2 1406.1 1775.7C1405 1778.3 1402.9 1780.7 1401.3 1782.4C1399.7 1784.2 1397.3 1785.6 1396.5 1786.3M1394.6 1766.1C1395.1 1765.7 1397.6 1765.5 1398.4 1766.1C1399.2 1766.8 1399.5 1769 1399.4 1770C1399.2 1770.9 1398.2 1772.1 1397.5 1771.9C1396.8 1771.7 1395.6 1770 1395.2 1769C1394.7 1768.1 1394 1766.6 1394.6 1766.1ZM1437.7 1771.9C1438 1772.4 1438 1774.2 1439.6 1774.8C1441.2 1775.3 1444.7 1774.7 1447.2 1775.1C1449.8 1775.6 1452.4 1776.7 1454.9 1777.6C1457.5 1778.5 1460.8 1779.4 1462.6 1780.5C1464.3 1781.6 1465.4 1782.4 1465.4 1784.3C1465.4 1786.3 1464.3 1790.2 1462.6 1792C1460.8 1793.8 1457.5 1794.2 1454.9 1794.9C1452.4 1795.5 1449.4 1795.4 1447.2 1795.8C1445.1 1796.3 1442.9 1797.4 1442.1 1797.7M1498 1775.7C1498.5 1775.2 1499.1 1773.3 1500.9 1772.9C1502.6 1772.4 1506 1772.6 1508.5 1772.9C1511.1 1773.1 1513.6 1774.4 1516.2 1774.4C1518.7 1774.4 1521.3 1773.3 1523.9 1772.9C1526.4 1772.4 1529.3 1771.4 1531.5 1771.9C1533.7 1772.4 1536.5 1774.6 1537.3 1775.7C1538.1 1776.8 1536.5 1778.1 1536.3 1778.6M1575.6 1778.6C1576.5 1778.1 1579.4 1776.1 1581.3 1775.7C1583.2 1775.3 1585.5 1775.8 1587 1776.3C1588.6 1776.8 1590.2 1778.2 1590.9 1778.6M1605.2 1778.6C1605.6 1777.2 1606.4 1771.9 1607.2 1770C1608 1768.1 1608.3 1767.4 1610 1767.1C1611.8 1766.8 1614.5 1767.3 1617.7 1768.1C1620.9 1768.9 1625.4 1770.9 1629.2 1771.9C1633 1772.9 1636.8 1772.7 1640.7 1773.8C1644.5 1774.9 1648.7 1776.5 1652.2 1778.6C1655.7 1780.7 1658.9 1784 1661.7 1786.3C1664.6 1788.5 1666.8 1789.8 1669.4 1792C1672 1794.2 1674.5 1797.1 1677.1 1799.7C1679.6 1802.2 1682.2 1804.9 1684.7 1807.3C1687.3 1809.7 1689.8 1812.4 1692.4 1814C1694.9 1815.6 1697.1 1816.3 1700 1816.9C1703 1817.5 1708.3 1817.7 1710 1817.9M1643.5 1800.6C1644.3 1799.5 1646.8 1798.5 1648.3 1798.7C1649.8 1798.9 1651.9 1800.3 1652.5 1801.6C1653.2 1802.9 1653 1805.2 1652.2 1806.4C1651.3 1807.5 1648.8 1808.4 1647.4 1808.3C1645.9 1808.1 1644.2 1806.7 1643.5 1805.4C1642.9 1804.1 1642.7 1801.7 1643.5 1800.6ZM1513.9 1799.7C1513.3 1801.3 1511.7 1806.4 1510.4 1809.2C1509.2 1812.1 1508.2 1814.8 1506.6 1816.9C1505 1819 1502.8 1820.7 1500.9 1821.7C1499 1822.6 1497.4 1823 1495.1 1822.6C1492.9 1822.3 1489.7 1820.7 1487.5 1819.8C1485.2 1818.8 1484 1817.4 1481.7 1816.9C1479.5 1816.4 1477.2 1816.6 1474.1 1816.9C1470.9 1817.2 1466.1 1818.2 1462.6 1818.8C1459.1 1819.5 1455.7 1819.8 1453 1820.7C1450.3 1821.7 1447.7 1822.8 1446.3 1824.6C1444.9 1826.3 1444.4 1829 1444.4 1831.3C1444.4 1833.5 1445.2 1836 1446.3 1838C1447.4 1839.9 1448.7 1841.8 1451.1 1842.8C1453.5 1843.7 1456.8 1844 1460.7 1843.7C1464.5 1843.4 1469.3 1842 1474.1 1840.8C1478.8 1839.7 1484.6 1838 1489.4 1837C1494.2 1836 1498.7 1835.3 1502.8 1834.7C1506.9 1834.1 1512 1833.4 1513.9 1833.2M1621.5 1816.9C1621.2 1818.8 1622.5 1823.3 1623.4 1826.5C1624.4 1829.7 1625.7 1834 1627.3 1836C1628.9 1838.1 1631.4 1838.9 1633 1838.9C1634.6 1838.9 1635.2 1837.2 1636.8 1836C1638.4 1834.9 1642.3 1834.1 1642.6 1832.2C1642.9 1830.3 1640.7 1827 1638.8 1824.6C1636.8 1822.2 1633.3 1819.5 1631.1 1817.9C1628.9 1816.3 1626.9 1815.1 1625.4 1815C1623.8 1814.8 1621.8 1815 1621.5 1816.9ZM1432.9 1853.3C1432.4 1853.8 1431.8 1855.5 1430 1856.2C1428.3 1856.8 1425.2 1856.7 1422.3 1857.1C1419.5 1857.5 1416 1857.7 1412.8 1858.6C1409.6 1859.6 1405.9 1861.2 1403.2 1862.9C1400.5 1864.5 1398.3 1866.7 1396.5 1868.6C1394.7 1870.5 1393.1 1872.4 1392.7 1874.4C1392.2 1876.3 1392.8 1878.8 1393.6 1880.1C1394.4 1881.4 1396.8 1881.7 1397.5 1882M1417 1886.8C1418.2 1886.3 1421.8 1885.2 1424.3 1883.9C1426.8 1882.7 1429.7 1880.9 1431.9 1879.1C1434.2 1877.4 1436.2 1875.5 1437.7 1873.4C1439.1 1871.3 1439.6 1868.8 1440.5 1866.7C1441.5 1864.6 1442.3 1862.3 1443.4 1860.9C1444.5 1859.6 1444.7 1859.1 1447.2 1858.6C1449.8 1858.2 1454.3 1858.3 1458.7 1858.1C1463.2 1857.8 1468.3 1857.3 1474.1 1857.1C1479.8 1856.9 1486.8 1856.9 1493.2 1856.7C1499.6 1856.6 1506 1856.6 1512.4 1856.2C1518.7 1855.7 1525.8 1855.2 1531.5 1854.2C1537.3 1853.3 1541.7 1851.7 1546.8 1850.4C1551.9 1849.1 1557 1847.5 1562.2 1846.6C1567.3 1845.6 1572 1844.9 1577.5 1844.7C1582.9 1844.4 1589.6 1844.9 1594.7 1845.2C1599.8 1845.6 1604.9 1845.7 1608.1 1846.6C1611.3 1847.4 1612.1 1848.7 1613.9 1850.4C1615.6 1852.2 1617.4 1854.7 1618.6 1857.1C1619.9 1859.5 1620.4 1861.9 1621.5 1864.8C1622.6 1867.6 1623.8 1871.5 1625.4 1874.4C1626.9 1877.2 1628.9 1879.6 1631.1 1882C1633.3 1884.4 1636.2 1886.5 1638.8 1888.7C1641.3 1890.9 1643.9 1893 1646.4 1895.4C1649 1897.8 1652 1900.5 1654.1 1903.1C1656.2 1905.6 1658.1 1908.2 1658.9 1910.7C1659.7 1913.3 1658.2 1915.8 1658.9 1918.4C1659.5 1921 1660.9 1924.3 1662.7 1926.1C1664.5 1927.8 1666.4 1928.6 1669.4 1928.9C1672.4 1929.3 1677.7 1928.6 1680.9 1928C1684.1 1927.3 1686 1926.1 1688.6 1925.1C1691.1 1924.1 1693.7 1922.5 1696.2 1922.2C1698.8 1921.9 1701.6 1922.2 1703.9 1923.2C1706.2 1924.1 1709 1927.2 1710 1928M1439.6 1959C1440.9 1958.3 1444.7 1955.6 1447.2 1954.8C1449.8 1953.9 1451.1 1953.7 1454.9 1953.8C1458.7 1954 1465.1 1954.9 1470.2 1955.7C1475.3 1956.5 1481.7 1958.1 1485.5 1958.6C1489.4 1959.2 1491.9 1958.9 1493.2 1959M1778.7 1632.1C1780.2 1631.3 1784.3 1629.1 1787.3 1627.3C1790.4 1625.5 1794.1 1623.6 1796.9 1621.6C1799.8 1619.5 1802.4 1616.9 1804.6 1614.9C1806.8 1612.8 1808.4 1610.5 1810.3 1609.1C1812.2 1607.7 1814.3 1606.6 1816.1 1606.6C1817.8 1606.6 1819.6 1607.6 1820.9 1609.1C1822.1 1610.6 1823.1 1613.3 1823.7 1615.8C1824.4 1618.4 1824.7 1621.6 1824.7 1624.4C1824.7 1627.2 1823.9 1631.3 1823.7 1632.7M1750 1632.7C1750.6 1632.2 1752.4 1630.2 1753.8 1629.6C1755.3 1629 1757.2 1628.7 1758.6 1629.2C1760.1 1629.7 1761.8 1632.1 1762.5 1632.7M1751.9 1694.3C1752.7 1694.8 1754.6 1696.6 1756.7 1697.2C1758.8 1697.8 1761.8 1698.2 1764.4 1698.2C1766.9 1698.2 1769.6 1696.9 1772 1697.2C1774.4 1697.5 1777.1 1698.5 1778.7 1700.1C1780.3 1701.7 1780.6 1704.5 1781.6 1706.8C1782.6 1709 1783.5 1711.1 1784.5 1713.5C1785.4 1715.9 1787.2 1718.7 1787.3 1721.1C1787.5 1723.5 1786.2 1725.9 1785.4 1727.8C1784.6 1729.8 1783.2 1731.2 1782.6 1732.6C1781.9 1734.1 1780.8 1735.8 1781.6 1736.5C1782.4 1737.2 1784.8 1737.1 1787.3 1736.8C1789.9 1736.6 1793.7 1736 1796.9 1734.9C1800.1 1733.9 1803.9 1732.4 1806.5 1730.7C1809.1 1729.1 1810.8 1727.5 1812.2 1725C1813.7 1722.4 1814.5 1718.9 1815.1 1715.4C1815.8 1711.9 1816 1707.4 1816.1 1703.9C1816.2 1700.4 1815.8 1695.9 1815.7 1694.3M1827.6 1702C1827.6 1701.2 1830.2 1699.7 1831.4 1699.7C1832.6 1699.7 1834.8 1701.2 1834.8 1702C1834.8 1702.8 1832.6 1704.3 1831.4 1704.3C1830.2 1704.3 1827.6 1702.8 1827.6 1702ZM1705 1816.9C1706 1817.1 1709.1 1816.9 1710.7 1817.9C1712.3 1818.8 1713.8 1820.9 1714.6 1822.6C1715.4 1824.4 1715.7 1826.5 1715.5 1828.4C1715.4 1830.3 1713.6 1832.2 1713.6 1834.1C1713.6 1836 1714.9 1838.4 1715.5 1839.9C1716.2 1841.3 1717.1 1842.3 1717.4 1842.8M2072.1 1815C2070.9 1815.9 2067.8 1818.8 2065 1820.7C2062.3 1822.6 2059 1824.6 2055.5 1826.5C2052 1828.4 2047.5 1830.5 2044 1832.2C2040.5 1834 2037 1835.4 2034.4 1837C2031.8 1838.6 2030.3 1839.9 2028.7 1841.8C2027.1 1843.7 2025.9 1846.1 2024.8 1848.5C2023.7 1850.9 2023.4 1853.8 2022 1856.2C2020.5 1858.6 2018 1860.6 2016.2 1862.9C2014.5 1865.1 2013.5 1868 2011.4 1869.6C2009.3 1871.2 2006.3 1871.5 2003.8 1872.4C2001.2 1873.4 1998.2 1874.4 1996.1 1875.3C1994 1876.3 1991.9 1877.1 1991.3 1878.2C1990.7 1879.3 1991.3 1880.6 1992.3 1882C1993.2 1883.4 1996.4 1884.9 1997.1 1886.8C1997.7 1888.7 1996.9 1890.8 1996.1 1893.5C1995.3 1896.2 1993.2 1899.6 1992.3 1903.1C1991.3 1906.6 1991 1910.7 1990.4 1914.6C1989.7 1918.4 1988.8 1922.5 1988.4 1926.1C1988.1 1929.6 1988.1 1932.8 1988.4 1935.6C1988.8 1938.5 1989.4 1940.7 1990.4 1943.3C1991.3 1945.8 1992.6 1948.3 1994.2 1951C1995.8 1953.6 1999 1957.7 1999.9 1959M2016.2 1893.5C2016.8 1891.4 2018.9 1888.3 2021 1887.4C2023.1 1886.4 2026.4 1886.7 2028.7 1887.8C2030.9 1888.8 2033.4 1891.3 2034.4 1893.5C2035.4 1895.7 2035.6 1899.1 2034.8 1901.2C2034 1903.2 2031.8 1905.3 2029.6 1906C2027.5 1906.6 2024 1906 2022 1905C2019.9 1904 2018.1 1902.1 2017.2 1900.2C2016.2 1898.3 2015.6 1895.6 2016.2 1893.5ZM1784.5 1904C1785.3 1904.5 1787.7 1905.5 1789.3 1906.9C1790.9 1908.3 1792.5 1910.4 1794.1 1912.7C1795.6 1914.9 1797.1 1917.8 1798.8 1920.3C1800.6 1922.9 1802.8 1925.7 1804.6 1928C1806.3 1930.2 1807.1 1932.1 1809.4 1933.7C1811.6 1935.3 1814.6 1936.1 1818 1937.6C1821.3 1939 1825.3 1940.9 1829.5 1942.3C1833.6 1943.8 1838.1 1944.9 1842.9 1946.2C1847.7 1947.4 1853.1 1948.7 1858.2 1950C1863.3 1951.3 1868.4 1952.6 1873.5 1953.8C1878.6 1955.1 1885 1956.8 1888.9 1957.7C1892.7 1958.5 1895.2 1958.8 1896.5 1959M1950.1 1959C1951.1 1957.8 1953.6 1953.9 1955.9 1951.9C1958.1 1949.9 1961 1947.4 1963.5 1947.1C1966.1 1946.8 1969 1948 1971.2 1950C1973.4 1952 1976 1957.5 1976.9 1959M2040.1 1959C2042.7 1958 2050.1 1955 2055.5 1952.9C2060.8 1950.7 2069.4 1947.3 2072.1 1946.2M1716.5 1909.8C1716.8 1910.9 1717.4 1914.6 1718.4 1916.5C1719.4 1918.4 1720.3 1920.3 1722.2 1921.3C1724.2 1922.2 1727.3 1922.7 1729.9 1922.2C1732.4 1921.8 1735.5 1920 1737.6 1918.4C1739.6 1916.8 1741.2 1914.9 1742.3 1912.7C1743.5 1910.4 1743.9 1906.3 1744.3 1905M1705 1928C1706.3 1929.9 1709.5 1935.3 1712.7 1939.5C1715.9 1943.6 1721 1949.6 1724.2 1952.9C1727.3 1956.1 1730.5 1958 1731.8 1959M903.1 864.2C903.6 862 903.6 857.4 905.9 850.8C908.2 844.2 914.2 831.6 916.8 824.4C919.4 817.1 920.1 813.2 921.4 807.3C922.7 801.3 923.6 794.4 924.5 788.7C925.4 783 925.9 777.6 926.9 773.2C927.9 768.8 928.8 765.5 930.7 762.3C932.6 759.1 935.9 755.9 938.5 753.8C941.1 751.6 942.9 750.4 946.3 749.4C949.7 748.4 954.1 748.3 958.7 748C963.4 747.7 969 748 974.2 747.5C979.4 747 983.6 746.2 989.8 745.2C996 744.2 1005 742.7 1011.5 741.3C1018 739.9 1023.9 738.1 1028.6 736.7C1033.2 735.3 1036.4 733.9 1039.4 733.1C1042.4 732.3 1044.3 731.9 1046.4 732C1048.5 732.1 1049.2 732.5 1051.9 733.6C1054.6 734.7 1059.1 737.2 1062.7 738.7C1066.3 740.2 1070.5 741.3 1073.6 742.4C1076.7 743.5 1079.1 744 1081.4 745.2C1083.7 746.5 1085.3 747.8 1087.6 749.9C1089.9 752 1092.4 754.8 1095.3 757.6C1098.2 760.5 1101.8 763.9 1104.7 767C1107.6 770.1 1110.6 773.2 1112.4 776.3C1114.2 779.4 1114.2 781.2 1115.5 785.6C1116.8 790 1118.7 797.3 1120.2 802.7C1121.8 808.1 1123.2 813.6 1124.8 818.2C1126.3 822.9 1127.9 827 1129.5 830.6C1131.1 834.2 1132.4 836.8 1134.2 839.9C1136 843 1138.9 846.8 1140.4 849.3C1142 851.8 1143 854 1143.5 855M931.1 1958.3C933.2 1956.2 939 1948.5 943.5 1945.9C948 1943.3 953.2 1943.8 958 1942.8C962.8 1941.8 968.5 1941.1 972.5 1940.2C976.5 1939.3 979.6 1937.7 981.8 1937.6C984 1937.5 983.7 1938 985.9 1939.7C988.1 1941.4 992.3 1945.8 995.2 1947.5C998.1 1949.2 999.4 1948.9 1003.5 1950.1C1007.6 1951.3 1016.3 1955 1020.1 1954.7C1023.9 1954.4 1024.6 1950.7 1026.3 1948C1028 1945.3 1029.5 1941.8 1030.4 1938.7C1031.3 1935.6 1032 1931.8 1031.5 1929.4C1031 1927 1028.8 1925.8 1027.3 1924.2C1025.8 1922.6 1023.6 1922.1 1022.2 1920C1020.8 1917.9 1019.5 1914.2 1019 1911.8C1018.5 1909.4 1018.3 1907.2 1019 1905.5C1019.7 1903.8 1021.6 1902.3 1023.2 1901.4C1024.8 1900.5 1026.8 1900.4 1028.4 1899.9C1030 1899.4 1031.4 1898.7 1033 1898.5C1034.6 1898.3 1036.5 1898.4 1038.2 1898.8C1039.9 1899.2 1041.3 1900.9 1042.9 1900.9C1044.5 1900.9 1045.9 1899.8 1048 1898.8C1050.1 1897.8 1053 1895.8 1055.3 1894.7C1057.5 1893.6 1059.4 1893.2 1061.5 1892.1C1063.6 1891 1066.2 1887.8 1067.7 1888C1069.2 1888.2 1070.6 1890.5 1070.8 1893.1C1071 1895.7 1069.1 1899.3 1068.7 1903.5C1068.3 1907.7 1068.2 1913.2 1068.2 1918C1068.2 1922.8 1068.5 1927.5 1068.7 1932.5C1068.9 1937.5 1069.1 1943.7 1069.3 1948C1069.5 1952.3 1069.7 1956.6 1069.8 1958.3M1760 725.7C1762.2 725.5 1768.8 724.7 1773.3 724.5C1777.7 724.4 1781.8 724.5 1786.5 724.8C1791.2 725.2 1797 725.7 1801.4 726.5C1805.8 727.3 1809.7 728.5 1813 729.5C1816.3 730.4 1818.5 731.3 1821.3 732.3C1824 733.3 1826.5 734.8 1829.6 735.6C1832.6 736.4 1836.9 736.6 1839.5 737.3C1842.1 737.9 1843.6 738.3 1845.3 739.4C1847 740.5 1848.1 742.6 1849.4 743.9C1850.8 745.2 1851.9 746.5 1853.6 747.2C1855.2 747.9 1857.3 748.2 1859.4 748C1861.4 747.8 1863.8 746.8 1866 746C1868.2 745.3 1870.7 743.8 1872.6 743.4C1874.6 743 1875.4 743.1 1877.6 743.9C1879.8 744.7 1883.1 746.4 1885.9 748C1888.6 749.7 1891.7 751.5 1894.2 753.8C1896.6 756.2 1898.6 759.6 1900.8 762.1C1903 764.6 1905.2 766.7 1907.4 768.7C1909.6 770.8 1911.8 772.2 1914 774.5C1916.2 776.9 1918.5 780.1 1920.7 782.8C1922.9 785.6 1925.2 788.5 1927.3 791.1C1929.4 793.7 1931.4 796.1 1933.1 798.6C1934.7 801 1935.7 803.4 1937.2 806C1938.7 808.6 1940.4 811.4 1942.2 814.3C1944 817.2 1946.3 821.9 1948 823.4C1949.6 824.9 1950.9 823.9 1952.1 823.4C1953.4 822.8 1954.1 821 1955.4 820.1C1956.8 819.2 1958.2 818.4 1960.4 817.9C1962.6 817.5 1965.4 817.4 1968.7 817.3C1972 817.1 1976.4 817.2 1980.3 817.1C1984.2 817 1988.3 816.6 1991.9 816.8C1995.5 816.9 1998.8 817.4 2001.8 817.9C2004.9 818.5 2007.6 819.3 2010.1 820.1C2012.6 820.9 2014.8 821.6 2016.7 822.6C2018.7 823.5 2020 824.9 2021.7 825.9C2023.4 826.8 2025 828.1 2026.7 828.4C2028.3 828.6 2030.1 828.2 2031.6 827.5C2033.2 826.8 2034.1 825.1 2035.8 824.2C2037.4 823.4 2039 822.8 2041.6 822.6C2044.2 822.3 2048.2 822.6 2051.5 822.9C2054.8 823.2 2057.9 823.9 2061.4 824.6C2065 825.2 2070.7 826.3 2072.5 826.7"/>
<rect x="1258.4" y="1928" width="109" height="60.6" fill="#fff"/><text x="1263.7" y="1969.5" font-size="46.5">H</text><text x="1296.1" y="1979.3" font-size="27.7">1023</text><rect x="869.3" y="559.9" width="101.3" height="60.6" fill="#fff"/><text x="874.9" y="601.4" font-size="46.5">L</text><text x="900.2" y="611.2" font-size="27.7">1026</text><rect x="696.9" y="890.4" width="109" height="60.6" fill="#fff"/><text x="702.2" y="931.9" font-size="46.5">H</text><text x="734.6" y="941.7" font-size="27.7">1027</text><rect x="456.2" y="1023.9" width="109" height="60.6" fill="#fff"/><text x="461.5" y="1065.4" font-size="46.5">H</text><text x="493.9" y="1075.2" font-size="27.7">1026</text><rect x="672.1" y="1074.2" width="109" height="60.6" fill="#fff"/><text x="677.4" y="1115.7" font-size="46.5">H</text><text x="709.8" y="1125.5" font-size="27.7">1027</text><rect x="650.3" y="1228.9" width="109" height="60.6" fill="#fff"/><text x="655.6" y="1270.4" font-size="46.5">H</text><text x="688" y="1280.2" font-size="27.7">1027</text><rect x="1174.7" y="1092.2" width="109" height="60.6" fill="#fff"/><text x="1180" y="1133.7" font-size="46.5">H</text><text x="1212.4" y="1143.5" font-size="27.7">1026</text><rect x="963.7" y="1161" width="101.3" height="60.6" fill="#fff"/><text x="969.3" y="1202.5" font-size="46.5">L</text><text x="994.6" y="1212.3" font-size="27.7">1024</text><rect x="1084.2" y="1194.9" width="109" height="60.6" fill="#fff"/><text x="1089.5" y="1236.4" font-size="46.5">H</text><text x="1121.9" y="1246.2" font-size="27.7">1026</text><rect x="1346.3" y="1078.7" width="109" height="60.6" fill="#fff"/><text x="1351.6" y="1120.2" font-size="46.5">H</text><text x="1384" y="1130" font-size="27.7">1026</text><rect x="1762.5" y="1126.5" width="109" height="60.6" fill="#fff"/><text x="1767.8" y="1168" font-size="46.5">H</text><text x="1800.2" y="1177.8" font-size="27.7">1028</text><rect x="1488" y="1414.1" width="109" height="60.6" fill="#fff"/><text x="1493.3" y="1455.6" font-size="46.5">H</text><text x="1525.7" y="1465.4" font-size="27.7">1024</text><rect x="1582" y="1469.7" width="101.3" height="60.6" fill="#fff"/><text x="1587.6" y="1511.2" font-size="46.5">L</text><text x="1612.9" y="1521" font-size="27.7">1023</text><rect x="1305.1" y="1525.2" width="101.3" height="60.6" fill="#fff"/><text x="1310.7" y="1566.7" font-size="46.5">L</text><text x="1336" y="1576.5" font-size="27.7">1022</text><rect x="1543.6" y="1551.3" width="109" height="60.6" fill="#fff"/><text x="1548.9" y="1592.8" font-size="46.5">H</text><text x="1581.3" y="1602.6" font-size="27.7">1025</text><rect x="1678.2" y="1551.3" width="109" height="60.6" fill="#fff"/><text x="1683.5" y="1592.8" font-size="46.5">H</text><text x="1715.9" y="1602.6" font-size="27.7">1024</text><rect x="2019.1" y="1422.1" width="101.3" height="60.6" fill="#fff"/><text x="2024.7" y="1463.6" font-size="46.5">L</text><text x="2050" y="1473.4" font-size="27.7">1023</text><rect x="1994.2" y="1487.2" width="109" height="60.6" fill="#fff"/><text x="1999.5" y="1528.7" font-size="46.5">H</text><text x="2031.9" y="1538.5" font-size="27.7">1025</text><rect x="1187.2" y="1586.3" width="101.3" height="60.6" fill="#fff"/><text x="1192.8" y="1627.8" font-size="46.5">L</text><text x="1218.1" y="1637.6" font-size="27.7">1022</text><rect x="1418.1" y="1710.3" width="101.3" height="60.6" fill="#fff"/><text x="1423.7" y="1751.8" font-size="46.5">L</text><text x="1449" y="1761.6" font-size="27.7">1018</text><rect x="1134" y="1680.9" width="109" height="60.6" fill="#fff"/><text x="1139.3" y="1722.4" font-size="46.5">H</text><text x="1171.7" y="1732.2" font-size="27.7">1026</text><rect x="1127.3" y="1795.8" width="109" height="60.6" fill="#fff"/><text x="1132.6" y="1837.3" font-size="46.5">H</text><text x="1165" y="1847.1" font-size="27.7">1026</text><rect x="1178" y="1882" width="101.3" height="60.6" fill="#fff"/><text x="1183.6" y="1923.5" font-size="46.5">L</text><text x="1208.9" y="1933.3" font-size="27.7">1018</text><rect x="1315" y="1882" width="101.3" height="60.6" fill="#fff"/><text x="1320.6" y="1923.5" font-size="46.5">L</text><text x="1345.9" y="1933.3" font-size="27.7">1018</text><rect x="929.8" y="1838.9" width="109" height="60.6" fill="#fff"/><text x="935.1" y="1880.4" font-size="46.5">H</text><text x="967.5" y="1890.2" font-size="27.7">1023</text><rect x="1367.8" y="1666.9" width="109" height="60.6" fill="#fff"/><text x="1373.1" y="1708.4" font-size="46.5">H</text><text x="1405.5" y="1718.2" font-size="27.7">1025</text><rect x="1504.3" y="1701.7" width="101.3" height="60.6" fill="#fff"/><text x="1509.9" y="1743.2" font-size="46.5">L</text><text x="1535.2" y="1753" font-size="27.7">1019</text><rect x="1513.9" y="1779.2" width="109" height="60.6" fill="#fff"/><text x="1519.2" y="1820.7" font-size="46.5">H</text><text x="1551.6" y="1830.5" font-size="27.7">1023</text><rect x="1332.9" y="1787.8" width="109" height="60.6" fill="#fff"/><text x="1338.2" y="1829.3" font-size="46.5">H</text><text x="1370.6" y="1839.1" font-size="27.7">1023</text><rect x="1677.6" y="1839.5" width="109" height="60.6" fill="#fff"/><text x="1682.9" y="1881" font-size="46.5">H</text><text x="1715.3" y="1890.8" font-size="27.7">1024</text><rect x="1732.4" y="1632.7" width="109" height="60.6" fill="#fff"/><text x="1737.7" y="1674.2" font-size="46.5">H</text><text x="1770.1" y="1684" font-size="27.7">1025</text><rect x="1771.6" y="1817.5" width="109" height="60.6" fill="#fff"/><text x="1776.9" y="1859" font-size="46.5">H</text><text x="1809.3" y="1868.8" font-size="27.7">1024</text><g transform="translate(1127.6 566.9) rotate(36.4)"><rect x="-55.5" y="-25.9" width="111" height="51.7" fill="#fff"/><text x="0" y="16.1" font-size="45.5" text-anchor="middle">1028</text></g><g transform="translate(1530.7 883.4) rotate(44)"><rect x="-55.5" y="-25.9" width="111" height="51.7" fill="#fff"/><text x="0" y="16.1" font-size="45.5" text-anchor="middle">1028</text></g>
<path class="c" d="M427.3 325L437.3 326L446.6 321.9L452.8 319.8L462.1 317.3L474.5 316.6L482.3 321.9L490.1 326L500.9 324.1L508.7 328.1L524.2 330.3L536.6 332.2L542.9 329.7L549.1 332.8L558.4 334.3L563 339L566.8 346.8L566.1 357.6L567.1 361.4L561.5 368.5L555.3 374.7L549.7 378.8L549.1 387.1L544.4 393.4L541.3 399.6L539.8 405.8L533.5 413.5L528.9 421.3L528 426L522.7 432.2L516.5 436.8L510.2 441.5L507.1 449.3L503.1 453.9L500.9 461.7L493.2 465.7L485.4 469.4L482.3 461.7L474.5 463.2L465.2 469.4L455.9 474.1L446.6 478.8L441 474.7L445 478.1L452.8 475.7L462.1 471L477.6 473.2L476.1 481.9L471.4 483.4L479.2 485L483.9 489.6L490.1 494.3L485.4 497.4L474.5 501.1L465.2 498.9L457.5 503.6L449.7 508.3L446.6 513.5L437.3 516L427.3 517.6M427.3 517.6L434.2 519.8L441.9 521.6L446.6 525.3L451.2 528.4L460.6 526.9L463.7 522.2L469.9 518.5L479.2 519.1L485.4 525.3L493.2 533.1L499.4 537.8L507.1 540.9L512.4 544.6L515.5 553.3L518 561.1L522.7 568.8L527.3 575L532 581.2L536.6 590.6L539.8 599.9L538.2 612.3L539.8 621.6L541.3 630.9L539.8 638.7L542.9 649.6L546 665.1L546.6 680.6L549.1 689.9L553.7 697.7L555.3 705.5L564.6 710.1L573.9 714.8L580.1 717.9L586.3 725.7L594.1 731.9L597.2 739.6L600.3 748.9L603.4 756.7L606.5 762.9L611.2 770.7L620.5 776.3L612.7 779.4L609.6 787.8L610.6 798.6L614.3 808L620.5 820.4L626.7 832.8L628.3 840.6L625.2 842.7L617.4 835.9L611.2 831.2L605 821.9L600.3 819.8L583.2 821.9L573.9 817.9L564 819.8L570.8 821.9L567.7 828.1L570.8 821.9L577 821L583.2 825L598.8 822.9L605 831.2L611.2 842.1L617.4 848.3L623.6 857.6L629.8 862.3L634.5 880M427.3 648L432.6 644.9M427.3 711.7L429.5 717.9M434.2 733.4L429.5 739.6L431.1 745.8L428 750.5M1088.8 316.6L1099.1 323.5L1108.4 329.7L1106.8 337.5L1111.5 343.7L1123.9 342.1L1130.1 349.9L1139.4 354.5L1151.9 353L1164.3 357.6L1176.7 354.5L1189.1 349.9L1198.4 342.1L1207.8 339L1217.1 332.8L1223.3 326.6L1232.6 320.4L1241.9 315.7M1366.1 390.2L1353.7 396.5L1335.1 407.3L1321.1 408.9L1313.4 419.8L1307.1 432.2L1300.9 444.6L1291.6 453.9L1282.3 459.5L1269.9 461.7L1255.9 460.7L1245 464.8L1232.6 464.8L1223.3 472.5L1214 485L1207.8 500.5L1203.1 522.2L1200 544L1199.1 565.7L1198.4 587.5L1200 606.1L1203.1 620.1L1198.4 637.1L1193.8 651.1L1201.6 655.8L1207.8 648L1212.4 657.3L1217.1 668.2L1221.7 665.1L1229.5 666.6L1233.2 677.5L1232.6 693L1234.2 705.5L1231.1 714.8L1234.2 727.2L1229.5 736.5L1234.2 745.8L1238.8 755.2L1243.5 764.5L1249.7 772.2L1255.9 780L1248.1 787.8L1241.9 792.4L1229.5 792.4L1226.4 801.7L1235.7 808L1241.9 804.8L1248.1 803.3L1243.5 814.2L1241.9 826.6L1245 835.9L1252.8 842.1L1260.6 848.3L1273 854.5L1279.2 863.9L1283.9 880M1366.1 390.2L1356.8 398L1353.1 410.4L1356.8 422.9L1359.9 435.3L1359.3 450.8L1350.6 466.3L1346 481.9L1342.9 497.4L1344.4 512.9L1347.5 525.3L1353.7 534.7L1366.1 536.2L1380.1 534.7L1387.9 545.5L1384.8 559.5L1378.6 568.8L1372.4 578.1L1366.1 573.5L1359.9 575L1353.7 565.7L1347.5 570.4L1339.8 581.2L1341.3 596.8L1338.2 609.2L1335.1 618.5L1316.5 617L1325.8 621.6L1328.9 630.9L1319.6 637.1L1304 635.6L1294.7 634L1307.1 641.8L1313.4 652.7L1304 660.4L1291.6 659.5L1300.9 668.2L1297.8 683.7L1304 693L1296.3 702.4L1288.5 705.5L1287 714.8L1300.9 714.8L1310.2 710.1L1318 714.8L1325.8 721L1327.3 730.3L1316.5 735L1304 733.4L1291.6 735L1285.4 741.2L1294.7 736.5L1307.1 739.6L1318 744.3L1322.7 755.2L1327.3 764.5L1341.3 783.1L1353.7 792.4L1369.3 804.8L1384.8 808L1391 783.1L1400.3 776.9L1412.7 789.3L1397.2 792.4L1394.1 808L1400.3 820.4L1415.8 826.6L1431.4 835.9L1446.9 832.8L1459.3 826.6L1478 814.2L1493.5 792.4L1502.8 780L1521.4 776.9L1533.9 764.5L1550 758.3M1223.3 509.8L1229.5 500.5L1235.7 494.3L1241.9 485L1251.2 478.8L1263.7 475.7L1279.2 478.8L1291.6 474.1L1307.1 472.5L1319.6 474.1L1310.2 467.9L1297.8 478.8L1294.7 488.1L1285.4 481.9L1273 485L1269.9 497.4L1273 509.8L1266.8 519.1L1263.7 531.6L1269.9 522.2L1276.1 519.1L1279.2 531.6L1283.9 534.7M1223.3 509.8L1226.4 522.2L1232.6 525.3L1231.1 537.8L1240.4 539.3L1241.9 528.4L1237.3 519.1L1245 509.8L1252.8 497.4L1248.1 488.1L1238.8 491.2L1232.6 497.4M1415.8 314.8L1412.7 326.6L1418.9 335.9L1415.8 346.8L1425.2 357.6L1429.8 373.2L1434.5 388.7L1440.7 404.2L1446.9 419.8L1453.1 429.1L1459.3 441.5L1465.5 457L1471.7 472.5L1478 485L1484.2 497.4L1493.5 506.7L1502.8 516L1512.1 525.3L1518.3 537.8L1515.2 550.2L1505.9 547.1L1496.6 544L1502.8 553.3L1509 562.6L1493.5 561.1L1487.3 564.2L1496.6 578.1L1499.7 590.6L1505.9 603L1512.1 609.2L1518.3 613.9L1524.5 621.6L1530.7 634L1524.5 643.4L1521.4 652.7L1524.5 665.1L1518.3 669.8L1533.9 668.2L1550 669.8M1409.6 601.4L1422 604.5L1434.5 603L1446.9 599.9L1462.4 590.6L1478 582.8L1490.4 585.9L1496.6 593.7L1493.5 606.1L1502.8 621.6L1505.9 634L1499.7 643.4L1484.2 649.6L1474.8 662L1478 674.4L1490.4 683.7L1484.2 689.9L1471.7 696.1L1462.4 705.5L1471.7 711.7L1484.2 710.1L1496.6 714.8L1499.7 721L1484.2 724.1L1465.5 727.2L1453.1 721L1440.7 714.8L1431.4 705.5L1418.9 696.1L1406.5 693L1409.6 683.7L1403.4 671.3L1397.2 662L1400.3 649.6L1397.2 637.1L1387.9 630.9L1394.1 624.7L1406.5 621.6L1415.8 617L1422 609.2ZM1307.1 641.8L1322.7 649.6L1338.2 643.4L1350.6 646.5L1356.8 655.8L1366.1 649.6L1370.8 662L1375.5 674.4L1380.1 683.7L1378.6 696.1L1372.4 708.6L1359.9 714.8L1347.5 711.7L1335.1 705.5L1325.8 696.1L1316.5 683.7L1311.8 671.3L1304 662L1300.9 652.7ZM1387.9 700.8L1384.8 714.8L1380.1 730.3L1373.9 748.9L1377 730.3L1381.7 714.8ZM1394.1 739.6L1409.6 730.3L1428.3 724.1L1446.9 727.2L1459.3 724.1L1474.8 719.4L1496.6 717.9L1490.4 727.2L1474.8 730.3L1465.5 739.6L1459.3 758.3L1453.1 748.9L1434.5 752L1415.8 748.9L1397.2 745.8ZM1294.7 714.8L1310.2 710.1L1322.7 721L1325.8 730.3L1310.2 735L1297.8 727.2ZM1381.7 444.6L1391 439.9L1401.9 439L1397.2 449.3L1389.4 455.5L1384.8 450.8ZM1200 550.2L1207.8 553.3L1210.9 562.6L1206.2 561.1L1200.9 558ZM1198.4 585.9L1207.8 587.5L1215.5 609.2L1204.7 618.5L1200 606.1ZM1781.1 413.5L1787.3 418.2L1782.6 429.1L1778 447.7L1773.3 472.5L1767.1 497.4L1762.4 519.1L1757.8 544L1751.6 558L1750 537.8L1746.9 525.3L1748.4 509.8L1753.1 491.2L1759.3 472.5L1767.1 460.1L1771.7 441.5L1774.8 426ZM1882 335.9L1875.8 339L1866.5 351.4L1860.2 367L1847.8 385.6L1849.4 401.1L1854 410.4L1850.9 419.8L1857.1 432.2L1861.8 441.5L1857.1 460.1L1866.5 457L1872.7 447.7L1868 438.4L1875.8 429.1L1888.2 419.8L1892.9 410.4L1888.2 402.7L1900.6 393.4L1892.9 385.6L1891.3 370.1L1886.6 360.7L1897.5 351.4L1903.7 342.1L1909.9 329.7L1919.3 326.6L1909.9 323.5L1900.6 331.2L1888.2 334.3ZM1757.8 314.8L1754.7 329.7L1757.8 342.1L1753.1 354.5L1757.8 370.1L1748.4 388.7L1757.8 398L1754.7 410.4L1745.3 429.1L1748.4 447.7L1745.3 466.3L1748.4 481.9L1742.2 497.4L1736 506.7L1729.8 525.3L1728.3 544L1726.7 559.5L1717.4 575L1714.3 582.8L1708.1 575L1692.5 568.8L1673.9 567.3L1655.3 568.8L1636.6 570.4L1639.8 584.3L1633.5 590.6L1624.2 585.9L1614.9 596.8L1608.7 609.2L1608.7 624.7L1614.9 634L1619.6 648L1611.8 660.4L1607.1 666.6L1593.2 665.1L1577.6 662L1552.8 674.4L1534.2 669.8L1518.6 669.8L1521.7 662L1523.3 646.5L1531.1 634L1524.8 624.7L1520.2 613.9M2072.4 363.9L2065.2 373.2L2062.1 388.7L2066.8 416.6L2059 432.2L2048.1 443L2049.7 466.3L2048.1 485L2054.3 516L2062.1 537.8L2068.3 559.5L2072.4 584.3M1649.1 672.9L1655.3 679.1L1667.7 683.7L1677 689.9L1673.9 707L1661.5 705.5L1646 697.7L1645.3 683.7ZM1500 783.1L1518.6 789.3L1537.3 770.7L1562.1 752L1580.7 764.5L1562.1 776.9L1577.6 792.4L1590.1 814.2L1605.6 826.6L1624.2 839L1649.1 832.8L1661.5 825L1698.8 811.1L1736 797.1L1757.8 783.1L1770.2 761.4L1785.7 752L1810.6 739.6L1823 727.2M601.9 830L617.4 839.3L628.3 844L623.6 851.7L628.3 858L632.9 870.4L636 884.3L634.5 896.8L628.3 903L617.4 909.2L609.6 917L605 922.5L614.3 923.2L622 932.5L630.4 938.7L636 935.6L640.7 923.2L645.3 918.5L657.8 918.5L670.2 921.6L679.5 921.6L691.9 926.3L704.3 930.9L713.7 940.2L719.9 949.6L726.1 957.3L727.6 969.8L726.1 988.4L719.9 1003.9L713.7 1016.3L710.6 1030.3L698.1 1036.5L690.4 1044.3L684.2 1047.4L685.7 1038.1L678 1036.5L682.6 1044.3L670.2 1044.3L681.1 1047.4L684.2 1053.6L679.5 1061.4L670.2 1065.4L662.4 1062.9L659.3 1056.7L651.6 1064.5L642.2 1067.6L656.2 1069.1L656.2 1078.4L648.4 1086.2L642.2 1090.2L626.7 1088.4L617.4 1092.4L614.3 1096.5L603.4 1094L617.4 1097.1L629.8 1096.5L642.2 1100.2L648.4 1104.8L650 1113.2L645.3 1111.1L639.1 1106.4L629.8 1101.7L622 1104.8L631.4 1106.4L639.1 1111.1L648.4 1114.2L664 1112.6L679.5 1112.6L687.3 1113.2L688.8 1118.8L682.6 1121.3L684.2 1129.7L683.2 1140.6L676.4 1145.2L667.1 1148.3L657.8 1151.4L648.4 1157.6L646.9 1166.3L640.7 1163.9L632.9 1162.3L623.6 1168.5L600.3 1171.6L589.4 1180.9L573.9 1171.6L561.5 1166L552.2 1163.9L533.5 1163.9L514.9 1167L513.4 1171L505.6 1163.9L490.1 1156.1L474.5 1148.3L463.7 1139.9L473 1153L471.4 1159.2L459 1158.6L451.2 1168.5L462.1 1170.1L473 1182.5L483.9 1180.9L490.1 1171.6L480.7 1163.9L466.8 1159.8L459 1163.9L449.7 1162.3L440.4 1159.2L428 1160.1M428 1287.5L440.4 1286.5L441.9 1283.4L457.5 1285.6L459.6 1295.8L452.8 1301.4L459 1317.6L460.6 1326.9L463.7 1331.6L465.2 1324.7L477.6 1324.4L483.9 1328.4L502.5 1333.1L518 1337.8L530.4 1347.1L542.9 1347.1L552.2 1342.4L561.5 1336.2L573.9 1333.7L589.4 1330.6M691.9 1174.7L707.5 1167.9L729.2 1164.8L744.7 1162.3L763.4 1159.2L782 1153L797.5 1144.3L816.1 1132.8L841 1126.6L850.3 1128.1L865.8 1137.5L872 1131.2L878.3 1128.8L886 1137.5L896.9 1139L898.4 1128.1L890.7 1121.9L878.3 1123.5L868.9 1118.8L859.6 1120.4L850.3 1121.9L841 1115.1L837.9 1111.1L850.3 1104.8L865.8 1106.4L875.2 1112.6L882.9 1118.8L893.8 1117.3L900 1121.9L896.9 1111.1L887.6 1106.4L879.8 1103.3L872 1098.6L862.7 1096.5L858.1 1094L865.8 1089.3L878.3 1087.8L887.6 1092.4L896.9 1095.5L909.3 1098.6L924.8 1096.5L940.4 1094L924.8 1098.6L909.3 1095.5L900 1090.9L890.7 1084.7L884.5 1078.4L886 1069.1L890.7 1062.9L900 1052L912.4 1038.1L924.8 1019.4L932.6 997.7L938.8 976L943.5 954.2L946.6 938.7L955.9 920.1L971.4 910.7L980.7 901.4L1000 896.8M691.9 1174.7L691.9 1190.2L688.2 1202.7L688.8 1215.1L685.1 1230.6L682.6 1243L688.8 1257L679.5 1255.5L673.3 1263.2L664 1271L648.4 1280.3L632.9 1284L611.2 1289L592.5 1294.3L567.7 1303.6L561.5 1314.5L556.8 1323.8L563 1329.4L573.9 1333.1L589.4 1330.6M946.6 938.7L948.1 946.5L959 949.6L968.3 957.3L974.5 966.6L983.9 979.1L980.7 988.4L971.4 991.5L968.3 1007L965.2 1013.2L959 1022.5L968.3 1025.7L977.6 1028.8L980.7 1021L990.1 1013.2L1000 1007M975 1017.8L984.6 1012L994.2 1006.3L996.1 1001.5L1006.6 995.8L1015.2 996.7L1022.9 998.6L1022.9 996.3L1015.2 995.8L1007.6 993.8L1005.6 989.1L1005.6 979.5L1007.6 971.8L1012.3 968L1003.7 968L996.1 965.1L990.3 961.3L994.2 956.5L995.1 948.8L994.2 942.1L991.3 939.3L994.2 931.6L998 922L1006.6 914.4L1017.1 908.6L1030.5 903.3L1040.1 901.9L1051.6 901L1055.4 906.7L1059.3 905.2L1070.8 901.9L1087 898.1L1097.6 897.5L1101.4 901.9L1102.4 910.5L1107.1 915.3L1116.7 918.2L1117.7 923L1124.4 925.9L1127.3 917.2L1117.7 917.2L1111.4 913.4L1111.9 902.9L1112.9 894.3L1119.6 891.4L1117.7 885.6L1126.3 876.1L1134 873.2L1148.3 875.1L1158.9 872.2L1170.3 870.3L1180.9 870.3L1184.7 873.2L1184.7 878L1190.5 881.8L1193.3 889.5L1193.3 894.3L1186.6 896.2L1187.6 901.9L1193.3 903.8L1197.2 908.6L1201.9 907.7L1203.9 894.3L1199.1 893.3L1199.1 885.6L1204.8 883.7L1209.6 886.6L1214.4 891.4L1222 894.3L1217.3 899L1217.8 913.4M1127.3 917.2L1134 916.3L1138.7 921.1L1139.7 926.8L1141.2 928.7M1224 855L1220.1 864.6L1217.3 874.2L1218.2 883.7L1222 891.4L1222 894.3M1235.5 855L1243.1 857.9L1258.4 856.9L1273.8 856L1279.5 864.6L1285.2 874.2L1291 881.8L1296.7 887.6L1312.1 893.3L1300.6 891.4L1291 885.6L1281.4 870.3L1275.7 860.7L1273.8 856M980.7 901.9L990.3 899.4L1001.8 896.2L999.9 898.1L990.3 901.9L981.7 905.8ZM1014.3 893.3L1024.8 895.2L1037.2 895.2L1032.5 897.5L1016.2 897.5ZM1048.7 894.3L1059.3 891.4L1066.9 890.4L1065 892.3L1051.6 896.7ZM1088 882.8L1093.7 878.9L1096.6 880.9L1091.8 885.6ZM1122.5 868.4L1132 867.4L1141.6 866.5L1139.7 868.8L1126.3 870.7ZM1148.3 866.5L1156.9 864.2L1166.5 862.7L1168.4 864.6L1151.2 868ZM975 977.6L982.7 977.6L984.6 981.4L980.7 985.2L978.8 989.1L975 991ZM1201.9 1012L1204.8 1014L1202.9 1017.8L1201 1014.9ZM1271.8 1019.7L1279.5 1017.4L1279.5 1021.6L1274.7 1023.9ZM1004.7 1761.4L1013.3 1746L1022.9 1734.5L1038.2 1725L1051.6 1730.7L1070.8 1738.4L1065 1741.3L1047.8 1737.4L1034.4 1738.4L1024.8 1744.1L1021 1742.2L1013.3 1751.8L1007.6 1761.4ZM1049.7 1693.4L1061.2 1680.9L1074.6 1669.4L1083.2 1668.5L1081.3 1673.3L1070.8 1682.8L1059.3 1692.4L1051.6 1694.3ZM1235.5 1594.7L1246.9 1590.9L1256.5 1592.8L1273.8 1604.3L1289.1 1610.1L1300.6 1608.2L1304.4 1611L1298.7 1614.9L1285.2 1615.8L1273.8 1610.1L1262.3 1600.5L1250.8 1596.7L1239.3 1597.6ZM1227.8 1772.9L1222 1776.7L1218.2 1782.4L1220.1 1792L1212.5 1799.7L1206.7 1805.4L1202.9 1799.7L1199.1 1801.6L1202.9 1811.2L1204.8 1820.7L1208.6 1824.6L1207.7 1815L1210.6 1807.3L1218.2 1799.7L1224 1790.1L1222 1782.4L1228.8 1775.7ZM1268 1774.8L1264.2 1782.4L1262.3 1792L1258.4 1797.7L1252.7 1801.6L1250.8 1809.2L1246.9 1815L1252.7 1811.2L1256.5 1803.5L1262.3 1799.7L1266.1 1792L1267.1 1799.7L1269.9 1807.3L1273.8 1813.1L1271.8 1803.5L1268 1795.8L1268 1784.3L1271.8 1776.7ZM1131.1 1702L1137.8 1708.7L1147.4 1709.7L1158.9 1703.9L1164.6 1702L1158.9 1706.8L1147.4 1712.5L1137.8 1711.6ZM1206.7 1631.1L1212.5 1638.8L1222 1646.5L1231.6 1647.4L1237.4 1646.5L1229.7 1644.5L1220.1 1641.7L1212.5 1635ZM1504.7 1959L1506.6 1952.9L1512.4 1947.1L1511.4 1939.5L1516.2 1933.7L1513.3 1926.1L1520 1922.2L1518.1 1914.6L1529.6 1912.7L1537.3 1906.9L1533.4 1901.2L1523.9 1899.2L1520 1891.6L1518.1 1883.9L1512.4 1880.1L1510.4 1870.5L1506.6 1864.8L1508.5 1859L1514.3 1855.2L1523.9 1847.5L1533.4 1841.8L1543 1843.7L1552.6 1839.9L1562.2 1836L1571.7 1832.2L1581.3 1824.6L1590.9 1820.7L1602.4 1821.7L1611.9 1821.7L1619.6 1813.1L1627.3 1815L1634.9 1820.7L1640.7 1828.4L1638.8 1836L1627.3 1841.8L1621.5 1847.5L1619.6 1857.1L1622.5 1864.8L1625.4 1876.3L1629.2 1887.8L1636.8 1895.4L1644.5 1903.1L1650.2 1910.7L1656 1918.4L1659.8 1926.1L1665.6 1918.4L1669.4 1906.9L1677.1 1899.2L1682.8 1889.7L1686.6 1876.3L1692.4 1864.8L1700 1860.9L1710 1857.1M1508.5 1959L1510.4 1953.8L1516.2 1948.1L1515.2 1940.4L1520 1934.7L1517.1 1927L1523.9 1923.2L1521.9 1915.5L1533.4 1913.6L1540.1 1907.9L1537.3 1902.1L1527.7 1900.2L1523.9 1892.5L1521.9 1884.9L1516.2 1881.1L1514.3 1871.5L1510.4 1865.7L1512.4 1860.9L1518.1 1857.1L1527.7 1849.5L1535.3 1844.7M1395.5 1807.3L1391.7 1815L1387.9 1824.6L1385 1836L1378.3 1839.9L1368.7 1839.9L1374.5 1845.6L1370.6 1853.3L1380.2 1859L1385 1853.3L1383.1 1845.6L1387.9 1836L1391.7 1824.6L1395.5 1815ZM1700 1887.8L1696.2 1895.4L1692.4 1905L1694.3 1914.6L1690.5 1926.1L1694.3 1933.7L1700 1939.5L1696.2 1947.1L1700 1959M1710 1880.1L1703.9 1887.8L1705.8 1899.2L1702 1910.7L1706.7 1922.2L1703.9 1933.7L1710 1943.3M1916.6 1673.3L1917.6 1679L1931 1678.1L1942.5 1671.3L1955.9 1663.7L1969.3 1656L1986.5 1644.5L1988.4 1635.9L1977.9 1631.1L1976.9 1638.8L1965.5 1647.4L1967.4 1651.2L1952 1657L1948.2 1662.7L1938.6 1667.5L1928.1 1668.5L1926.2 1673.3ZM1705 1864.8L1710.7 1870.5L1716.5 1880.1L1722.2 1887.8L1729.9 1891.6L1735.6 1899.2L1741.4 1910.7L1739.5 1922.2L1733.7 1926.1L1726.1 1920.3L1729.9 1929.9L1735.6 1939.5L1743.3 1949L1751 1959M1705 1887.8L1710.7 1895.4L1708.8 1905L1714.6 1912.7L1720.3 1918.4L1716.5 1926.1L1724.2 1933.7L1731.8 1943.3L1739.5 1952.9L1743.3 1959M1705 1914.6L1710.7 1924.1L1708.8 1933.7L1716.5 1941.4L1722.2 1949L1728 1959M1716.5 1883.9L1724.2 1895.4L1731.8 1903.1L1737.6 1914.6M1760 781.2L1765 776.2L1768.3 766.3L1776.6 754.7L1801.4 745.5L1814.7 733.1L1824.6 726.5L1842.8 719.9L1872.6 709.1L1896.6 706.6L1903.3 711.6L1925.6 721.5L1932.3 726.5L1933.9 731.5L1930.6 728.2L1924 723.2L1904.1 714.1L1903.3 718.2L1909.1 722.4L1910.7 729.8L1915.7 738.1L1918.2 748.9L1923.1 754.7L1935.6 759.3L1947.2 759.6L1958.8 757.6L1970.4 754.7L1980.3 749.7L1988.6 743.1L1995.2 734.8L2000.2 727.3L2005.1 718.2L2008.4 708.3L2009.3 700M1965.4 758.8L1969.5 765.4L1977.8 766.3L1978.3 771.2L1980.3 761.3L1985.3 757.1L1995.2 753L1999.3 748L2001 742.2L2005.1 737.8L2011.8 734.8L2014.2 726.5L2020 725.7L2025.8 720.7L2033.3 716.6L2039.9 709.1L2041.6 705.8L2026.7 708.3L2020.9 713.3L2016.7 707.5L2011.8 705.8L2010.1 709.9L2010.1 716.6L2008.4 716.6"/>
<path class="t" d="M688.2 314.8L465.2 1958.6M1640.4 314.8L1750.6 1959"/><path class="t" d="M428 1850.5L493 1859.8L599 1872.2L711 1883.1L835 1894L1000 1905.5L1160 1911L1322 1914.8L1512 1910.7L1608 1906.9L1710 1903.1L1743 1899.2L1896.5 1884.9L2072 1869"/>
</g>
<rect class="f" x="428" y="314.5" width="1644.3" height="1644.5"/>
<path d="M688.1 276.2V314.5M1007.5 276.2V314.5M1322.7 276.2V314.5M1642 276.2V314.5M1961.3 276.2V314.5M465.2 1959V1997.5M639.1 1959V1997.5M811.4 1959V1997.5M982.8 1959V1997.5M1153.7 1959V1997.5M1323.8 1959V1997.5M1494.9 1959V1997.5M1666 1959V1997.5M1838.5 1959V1997.5M2010.3 1959V1997.5M389.5 516.8H428M389.5 761.3H428M389.5 1003.1H428M389.5 1245H428M389.5 1486H428M389.5 1728H428M2072.3 542H2110.8M2072.3 785.4H2110.8M2072.3 1026.8H2110.8M2072.3 1266.2H2110.8M2072.3 1507.6H2110.8M2072.3 1748.6H2110.8" stroke="#000" stroke-width="1" fill="none"/><g font-size="53.7"><text x="688.1" y="236.8" text-anchor="middle">0°</text><text x="1007.5" y="236.8" text-anchor="middle">5°E</text><text x="1322.7" y="236.8" text-anchor="middle">10°E</text><text x="1642" y="236.8" text-anchor="middle">15°E</text><text x="1961.3" y="236.8" text-anchor="middle">20°E</text><text x="465.2" y="2075.7" text-anchor="middle">0°</text><text x="639.1" y="2075.7" text-anchor="middle">2°E</text><text x="811.4" y="2075.7" text-anchor="middle">4°E</text><text x="982.8" y="2075.7" text-anchor="middle">6°E</text><text x="1153.7" y="2075.7" text-anchor="middle">8°E</text><text x="1323.8" y="2075.7" text-anchor="middle">10°E</text><text x="1494.9" y="2075.7" text-anchor="middle">12°E</text><text x="1666" y="2075.7" text-anchor="middle">14°E</text><text x="1838.5" y="2075.7" text-anchor="middle">16°E</text><text x="2010.3" y="2075.7" text-anchor="middle">18°E</text><text x="356" y="535.8" text-anchor="end">56°N</text><text x="356" y="780.3" text-anchor="end">54°N</text><text x="356" y="1022.1" text-anchor="end">52°N</text><text x="356" y="1264" text-anchor="end">50°N</text><text x="356" y="1505" text-anchor="end">48°N</text><text x="356" y="1747" text-anchor="end">46°N</text><text x="2146.6" y="561">56°N</text><text x="2146.6" y="804.4">54°N</text><text x="2146.6" y="1045.8">52°N</text><text x="2146.6" y="1285.2">50°N</text><text x="2146.6" y="1526.6">48°N</text><text x="2146.6" y="1767.6">46°N</text></g><text transform="translate(1250.6 120.1) scale(0.9395 1)" font-size="100.2" text-anchor="middle">Thunderstorm probability (Sep 30 2025 12UTC)</text><rect x="1186.2" y="2108.4" width="886.3" height="64.9" fill="#fff" stroke="#808080" stroke-width="1.3"/><text transform="translate(1627 2152.9) scale(0.98 1)" font-size="46" text-anchor="middle">pressure (hPa) from 1018 to 1034 by 2 hPa</text><text transform="translate(1250.6 2258.6) scale(0.965 1)" font-size="58.6" text-anchor="middle">Convective available potential energy [CAPE] in (J/kg)</text><rect x="370" y="2295" width="160" height="65" fill="#ffffff" stroke="#555" stroke-width="0.8"/><rect x="530" y="2295" width="160" height="65" fill="#00ff00" stroke="#555" stroke-width="0.8"/><rect x="690" y="2295" width="160" height="65" fill="#008000" stroke="#555" stroke-width="0.8"/><rect x="850" y="2295" width="160" height="65" fill="#f0e68c" stroke="#555" stroke-width="0.8"/><rect x="1010" y="2295" width="160" height="65" fill="#ffff00" stroke="#555" stroke-width="0.8"/><rect x="1170" y="2295" width="160" height="65" fill="#ff8c00" stroke="#555" stroke-width="0.8"/><rect x="1330" y="2295" width="160" height="65" fill="#ff0000" stroke="#555" stroke-width="0.8"/><rect x="1490" y="2295" width="160" height="65" fill="#8b0000" stroke="#555" stroke-width="0.8"/><rect x="1650" y="2295" width="160" height="65" fill="#ba55d3" stroke="#555" stroke-width="0.8"/><rect x="1810" y="2295" width="160" height="65" fill="#9932cc" stroke="#555" stroke-width="0.8"/><rect x="1970" y="2295" width="160" height="65" fill="#8b008b" stroke="#555" stroke-width="0.8"/><g font-size="57.5" text-anchor="middle"><text transform="translate(530 2420.7) scale(0.97 1)">.1</text><text transform="translate(690 2420.7) scale(0.97 1)">500</text><text transform="translate(850 2420.7) scale(0.97 1)">1000</text><text transform="translate(1010 2420.7) scale(0.97 1)">1500</text><text transform="translate(1170 2420.7) scale(0.97 1)">2000</text><text transform="translate(1330 2420.7) scale(0.97 1)">2500</text><text transform="translate(1490 2420.7) scale(0.97 1)">3000</text><text transform="translate(1650 2420.7) scale(0.97 1)">3500</text><text transform="translate(1810 2420.7) scale(0.97 1)">4000</text><text transform="translate(1970 2420.7) scale(0.97 1)">4500</text></g>
</svg>
</body></html>
